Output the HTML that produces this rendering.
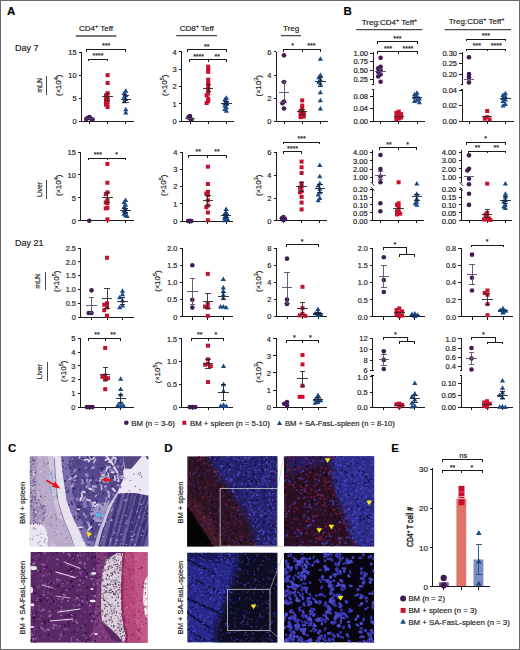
<!DOCTYPE html>
<html><head><meta charset="utf-8"><style>
html,body{margin:0;padding:0;background:#fff;}
body{width:520px;height:650px;overflow:hidden;}
svg{display:block;color:#222;}
svg text{font-family:"Liberation Sans", sans-serif;stroke:currentColor;stroke-width:0.18px;}
</style></head><body>
<svg width="520" height="650" viewBox="0 0 520 650">
<rect x="0" y="0" width="520" height="650" fill="#fff"/>
<defs><filter id="bl3" x="-20%" y="-20%" width="140%" height="140%"><feGaussianBlur stdDeviation="3"/></filter><filter id="bl1" x="-5%" y="-5%" width="110%" height="110%"><feGaussianBlur stdDeviation="0.6"/></filter><filter id="bl05" x="-10%" y="-10%" width="120%" height="120%"><feGaussianBlur stdDeviation="0.45"/></filter></defs>
<clipPath id="cct"><rect x="29.8" y="456.2" width="118.6" height="90.2"/></clipPath>
<g clip-path="url(#cct)">
<rect x="29.8" y="456.2" width="118.6" height="90.2" fill="#c6bcd6"/>
<g filter="url(#bl1)">
<polygon points="29,456 53.8,456 55,477.5 57.3,501 63.2,519.7 70.2,536 73.8,547 29,547" fill="#b9abc9"/>
<polygon points="29,498 40,500 46,510 44,522 29,524" fill="#a596ba"/>
<polygon points="29,456 37,456 36.5,480 37,498 29,498" fill="#a999c0"/>
<polygon points="48,456 53.8,456 55,477.5 57.3,501 63.2,519.7 59,519 53,500 50,478" fill="#cdc4dc"/>
<polygon points="53.8,456 60.8,456 63.2,477.5 66.7,501 73.8,519.7 82,536 86.7,547 73.8,547 70.2,536 63.2,519.7 57.3,501 55,477.5" fill="#e8e2ee"/>
<polyline points="54.3,458 55.5,477.5 57.8,501 63.7,519.7 70.7,536 74.3,547" fill="none" stroke="#6a5a8a" stroke-width="0.7"/>
<polygon points="60.8,456 68,456 70,477 73,500 80,518 88,534 93,547 86.7,547 82,536 73.8,519.7 66.7,501 63.2,477.5" fill="#7c6eac"/>
<polygon points="68,456 123,456 124,468 123,480 119,490 114,497 108,506 103,520 98,533 94,547 93,547 88,534 80,518 73,500 70,477" fill="#584a8c"/>
<polygon points="92,506 102,503 110,500 106,512 102,522 95,522 90,514" fill="#a69ac8"/>
<polygon points="123,470 131,469 142,456 150,456 150,497 135,493 125,493 117,494 120,486 124,478" fill="#ece7f2"/>
<polygon points="123,456 142,456 131,469 125,468" fill="#54467e"/>
<polygon points="145,456 150,456 150,462" fill="#54467e"/>
<polygon points="117,494 125,493 135,493 150,496 150,547 98,547 102,532 106,518 111,505" fill="#6a5c9c"/>
<clipPath id="cvil"><polygon points="117,494 125,493 135,493 150,496 150,547 98,547 102,532 106,518 111,505"/></clipPath><g clip-path="url(#cvil)">
<line x1="108" y1="492" x2="91.3" y2="548" stroke="#3e3272" stroke-width="3.4" />
<line x1="114.2" y1="492" x2="96.5" y2="548" stroke="#43367a" stroke-width="3.7" />
<line x1="120.4" y1="492" x2="106.1" y2="548" stroke="#43367a" stroke-width="3.8" />
<line x1="126.8" y1="492" x2="111.4" y2="548" stroke="#43367a" stroke-width="2.4" />
<line x1="131" y1="492" x2="116.8" y2="548" stroke="#3e3272" stroke-width="2.4" />
<line x1="135" y1="492" x2="117.4" y2="548" stroke="#4b3e82" stroke-width="2.8" />
<line x1="139.2" y1="492" x2="125.5" y2="548" stroke="#3e3272" stroke-width="3.8" />
<line x1="144.9" y1="492" x2="127" y2="548" stroke="#43367a" stroke-width="2.5" />
<line x1="148.9" y1="492" x2="131" y2="548" stroke="#43367a" stroke-width="2.6" />
<line x1="153.2" y1="492" x2="137.5" y2="548" stroke="#3e3272" stroke-width="4.1" />
<line x1="159.5" y1="492" x2="141.7" y2="548" stroke="#43367a" stroke-width="2.6" />
<line x1="164.8" y1="492" x2="150.3" y2="548" stroke="#4b3e82" stroke-width="4" />
</g>
<polyline points="117,494 112,503 107,515 103,527" fill="none" stroke="#d4cce4" stroke-width="1.6"/>
<polyline points="106,456 112,463 117,472 118.5,482" fill="none" stroke="#d8d0e8" stroke-width="2.2"/>
<path d="M30 525 Q37 521 44 526 Q49 533 48 547 L30 547Z" fill="#ece6f1"/>
</g>
<path d="M84.1 506.4l-1.2 0.6M73.2 496.8l1.3 0.6M97.6 512.5l0.3 0.1M112.3 497.3l-0.3 0.3M87.1 476.6l-0.4 0.8M85.7 539.1l0 1.2M93.3 459.4l-0.1 0.2M123.2 468.9h0M115.4 478.2l0.5 0.2M86.9 457.9l0.1 1M78 488.5l0.4 0.2M100.7 489.2l-0.1 0M104 488.5l-0.1 0.1M63 458l0.3 0.4M106.7 478.2l0.1 0.2M67.6 479.1l0.8 0.9M114.8 464.7l-0.1 0.5M87.3 539l-0.4 0.6M93.7 483.1h0M83.4 522h0M101.1 498.5l-0.2 0.2M81.3 506.6l-0.1 1.3M79.7 528.8l0.2 0.1M87.2 459l-0.2 0.2M94.3 491.7h0M96.2 506.5h0M85.3 531.4l-0.1 0.5M90.5 459.1l0.7 0.1M114.5 459l-0.3 0.3M70.9 470.9l-0.1 0.2M112.4 477.3l0.2 0M94.5 522.2l-0.4 0.4M85.2 517.4l0.4 0.1" stroke="#6a5c9e" stroke-width="1.5" stroke-linecap="round"/>
<path d="M86.2 511.6h0M96.1 496.5l0 0.2M74 459.8l-1.1 0.8M91 511.5l1 0.3M102.9 504.1l-0.1 1.2M68.9 504.7l0.1 0.2M87.3 488.1l-0.2 0.1M73.5 491.4h0M121.9 464.4l-1.2 0.2M92.6 502.6l-0.5 0.2M89.8 526.9l0.8 0.8M88.3 540l1.2 0.9M81.7 525.5l0.7 0.8M116.9 476.9h0M91.2 522.9l0.3 0.4M68.2 489.7l-0.1 0.3M85.2 496.2l-0.8 1.2M67.9 464.7l0.2 0M99.7 508.3l0 0.1M93.5 485.8h0M77.4 515.1l0 0.5M83.5 509.1l0 0.4M90.2 534.9l-0.1 0.3M79.4 516.4l0.2 0.5" stroke="#44387a" stroke-width="1.5" stroke-linecap="round"/>
<path d="M102.6 470.4l0.4 0M100 473.6l-0.2 0.4M67.1 476.6l0.2 0.6M93.4 501l-0.1 1.2M98.2 467.7l0.7 1.2M80.6 489.1l-0.1 0.8M93.9 458l0.2 0.7M67.8 490.8l0.1 1.1M90 457.8l-0.3 0.2M91.3 520l-0.6 1.5M119.5 483.4l-1 0.6M88.2 495.3l0.9 0.2M113.2 458.2l-0.8 0.2M74.5 516.3l0 0.5M86.7 489.2l0.5 0M109.8 480.4l-0 0.5M90 466.9l-0 1.1M103.9 479.7l0.3 1.2M108.6 481.6l0.7 0.8M99.4 524.4l-1.6 0.2M106 500.4l-0.7 0.3" stroke="#3b2f6a" stroke-width="1" stroke-linecap="round"/>
<path d="M84.3 480.9l-0.6 0.8M106.9 474.5l0.3 0.3M93.9 493.7h0M118.9 460.4l-0.8 0.6M92.8 477.1l0.5 0.7M87.6 457h0M79 517.3l0.8 0.5" stroke="#3b2f6a" stroke-width="2" stroke-linecap="round"/>
<path d="M122.2 480.5l-0.1 0.1M105.6 489.4l0.1 0.1M65.5 468.6l0.9 0.6M77.8 477.9l-0.1 1M62.3 466.4l1.4 0.6M91.1 501.1l-0.4 0M72.1 469.8l0.1 0.7M74.7 465.8l-0.4 0.5M113.3 485.6l-1.7 0.7M92.3 509.2l1.1 1M107.1 501.9l-0.4 0.6M73.7 475l-1.4 1.3M78.4 503.4l0.1 0.5M76.6 461.3l-0.5 0.6M103.5 492.9l-0 1M89.6 507l0.2 0.8M96.1 527l-0.9 0.4M79 463l0.3 0.4M117.1 475.3l-0 0.1M86 513.9l1.9 0.3M104.2 467l-1.1 1M91.7 481.4l1 1.6" stroke="#33285c" stroke-width="1" stroke-linecap="round"/>
<path d="M74.7 491l1.1 1.6M75.4 512.6l0.4 0.4M87.2 536.8l0.6 0.4M88.2 541.7l-0 0.2M96.5 499.8l0.2 1.4M97.7 487.7l-0.7 1.5M63.9 471.6l-1.5 0.3M80.5 458.1l-1.7 0.6M82.2 503.3l-0.3 1M75.1 460.4l-0.7 0.5M81.7 534l0.4 1.2M112.6 478.4l1.6 0.8M109 470.2l0.1 0.1M95.2 497.2l1.5 0.8M94.7 466.4l0.2 0.1M92.9 511l0.6 0.4M116.2 480l-0.5 0.2M89.4 507.1l0.7 0.2M82.7 475.5l1.3 1.3M70.6 470.2l-0.4 1.9" stroke="#6a5c9e" stroke-width="1" stroke-linecap="round"/>
<path d="M104.9 465.2l2 0.1M101.3 494.1l0.2 0.1M107.4 495.5l1.4 1M72.1 509l0.1 0.1M94.2 527.4l0.1 0.5M75.5 462.1l-0.5 1.3M67.7 490.6l0.6 0.6M77.5 490.3l0.7 1.6M86.2 457.6l-0.6 1M115.4 478.6l-1.3 0.6M90.2 545.5l0.6 0.6M120.2 471.5l1.1 0.4M121.2 474.2l-0.1 0.1M79.5 500.6l-0.2 0M93.7 465.1l1.8 0.1M120.1 461.2l0.4 0.1M68.2 467.9l0.2 1.9M91.1 484.5l-0.3 0.5" stroke="#7a6eaa" stroke-width="1" stroke-linecap="round"/>
<path d="M75.6 462.9l-0 0.1M87 521.8l0.1 0.5M123.3 467.5l0.3 0.1M85.3 502.5l-0.1 0.3M115.6 462.5l-0.2 0.1M99.4 513.2l-0.3 0.1M89.3 515.1l0.1 0M80.5 507.3l1.1 0.3M116.6 483.4l-0.3 0.3M77.6 505.7l0.6 1.4M111.4 465.6l-0.1 0.3M114.3 477.5l-0.6 0.3M69.8 467.9l-0.2 0.4M98.1 497l0.1 0.1M65 480.3l-0.3 1.1M100.6 468.3l1 0M91.7 456.8l0.8 0.6M116.5 473.7l-0.7 0.5M78.4 506.2l0.8 1.2M86.3 488.4l0.2 0.3M93.4 507.3l1 0.3M77.6 519.4l0.1 0.2M62.8 460.5l0.5 0.5M89.1 544.5h0" stroke="#3b2f6a" stroke-width="1.5" stroke-linecap="round"/>
<path d="M113.4 478.8l-0.1 1.1M71.1 463.5l0 0.4M94.1 509.8l-0 0.4M63.5 469.1l-0.2 0.1M79.9 508.7l0.1 0M95.2 533l-0.2 0.4M81.9 459.4l0.2 0.3M80.1 505.2l0.1 0.1M104 512.2l0.3 0.1M73.2 516.2l0.3 0.4M68.7 458.5l0.6 0.1M72.9 473.6l-1.4 0.6M73.1 486l0.4 0.5M71.6 478l1.1 0.9M68.2 484.7l1.1 0.2M120.5 460.2l-0.3 0.7M86.4 505.4l1 0.7M95.4 486.1l-0.4 0.3M110 467.2l-0 0.1M99 493.8l-0.6 0.1" stroke="#7a6eaa" stroke-width="1.5" stroke-linecap="round"/>
<path d="M91.8 541.6l-0.2 0.1M80.6 528.6l0.6 0.5M90.7 457.2l-0.2 0.8M93.7 521.1l-0.3 0.3M79.8 469.2l-0.3 0.4M83.2 478.4h0M84.5 523.9h0M91.6 522.8l-0.2 0.8M78.3 511.2l-0.6 0.4M74.2 488.4l-0.8 0M112.9 477.3l0.3 0.6M97.1 482.5l0.3 0.5" stroke="#33285c" stroke-width="2" stroke-linecap="round"/>
<path d="M84.4 457.9l-1.3 1M117.6 479l-0.4 0.7M100.5 524.3l0.3 0.9M120.8 475l0.3 0.8M84.2 487l0 1.6M93.9 469.4l-1.3 0.8M94.8 463.1l0 0.1M74.8 508.8l0.4 1.5M78.5 470.8l1.1 1.3M93.1 494l0.8 0.8M94.5 532.5l-0.4 1.2M73.2 469.3l-1.2 1.4M87.4 472.7l0.6 0.9M76.1 486.4l-1.4 1.2M105.2 467.2l1.4 0.6M109.2 490.5l-0.8 1.1M76.7 460.9l0.9 0.1M93.2 534.2l0.4 0.1M93 470.6l-0.4 0.7M78.1 481.6l-1.2 0.7M79.1 503.8l-0.6 0.5M123.6 477.2l-0.9 0.2M90.9 479l1.7 0.4M90.3 522.7l-0.1 0.4M88.5 490.4l0.9 0.2M112.1 478.6l-1.4 0.5" stroke="#44387a" stroke-width="1" stroke-linecap="round"/>
<path d="M74.4 507.1l0.1 0.8M79.6 526.3h0M68 495.9l0 0.2M96.4 479.7l-0.3 0.8M94.8 515.3l-0.8 0.4M78.3 497.4h0M82.7 536.9l-0.2 0.4" stroke="#7a6eaa" stroke-width="2" stroke-linecap="round"/>
<path d="M90.3 478.8h0M99.4 510.2l0.4 0.2M86.7 492l0.1 0.7M102.4 468.3l-0.2 1.2M113.2 466.3l0.4 0.1M109.7 475.6l0.3 0.2M92 528.8l0.6 0.9M92.7 515.7l0.3 1.1M89.5 480.5l0.7 1.3M66.4 488h0M74.2 482.4l0.4 0.6M74.6 516.4l-0 1.4M71.7 501.2l0.1 0.1M96.5 500.5l-0.7 1.1M79.7 506l1.2 0.6M89.8 539.5l-0.6 0.5M88.1 459l-0.9 0.8M71.4 503.3l1.1 0.9" stroke="#33285c" stroke-width="1.5" stroke-linecap="round"/>
<path d="M67.1 492.1l0.8 0.2M88.1 517.2l0 0.2" stroke="#44387a" stroke-width="2" stroke-linecap="round"/>
<path d="M113.8 472.4h0M83.6 489.9l-0.5 0.6M88.2 515.2l-0.8 0M68.5 465.9l-0.5 0.2M80.6 527.7l-0.1 0.2M108.4 492.4h0" stroke="#6a5c9e" stroke-width="2" stroke-linecap="round"/>
<g filter="url(#bl05)">
<path d="M81 498l-0.6 2.2M104 474.8l-1.6 0.4M113.1 457.4l2.2 0.6M88.5 488l2.5 1.3M111.6 472l1.8 0.3M95.2 502.6l-1.9 0.1" stroke="#e6e0f0" stroke-width="2" stroke-linecap="round"/>
<path d="M79.9 456.5l-0.6 1.5M113.8 467.1l0.5 1.4M108 473.3l0.8 2.8M109.3 493.6l-0.4 3.6M121.8 475.7l1 1M102.6 478l-2.4 0.2M106.3 489.9l2.6 2.5M77.6 509.2l1.7 0.2" stroke="#d8d0ea" stroke-width="1.5" stroke-linecap="round"/>
<path d="M120.8 478l4.2 0.6M85 497l-2.4 3.8M89.1 456.4l2.1 3.4M96.4 495.4l-1 0.9M98.7 524.6l3 0.6M71.8 478.2l-3 1.4" stroke="#b8aed8" stroke-width="1.5" stroke-linecap="round"/>
<path d="M105.8 486.2l-0.6 0.6M73.9 483.7l-2.2 3M100.3 479.9l-0.6 1M76.2 513.3l-0.3 1.1M110.2 466.7l-3 0.6" stroke="#b8aed8" stroke-width="2" stroke-linecap="round"/>
<path d="M91.1 526.9l-2.8 3M89.1 460.1l-0.4 1.5M102.6 474.5l-0.6 0.7M92.8 486.5l2.9 0.1M93.1 489.4l0.5 1.3M112.6 488.5l2.3 2.5" stroke="#d8d0ea" stroke-width="2" stroke-linecap="round"/>
<path d="M98.4 503.9l-4 2.7M114.7 476.1l0.4 4.2M108 459.1l-2.7 1.2M110.8 461.9l-1.9 0.4M107.2 467.4l-1.2 3.7M87.8 459.4l-3.4 0.7M82.1 526.9l-4.3 0.8" stroke="#e6e0f0" stroke-width="1.5" stroke-linecap="round"/>
<path d="M86.5 499.5l3.9 1.2M94.4 457.7l-1.7 1.3M113 457l-1.4 3.5M81.8 493.2l0.3 3.8M91.4 502.9l2.3 2.8M82.4 491.7l2.7 0.6" stroke="#c8bee0" stroke-width="2" stroke-linecap="round"/>
<path d="M101.4 485.6l0.3 4.1M95.6 459.6l-2 3.3M89 523.6l0.2 3.3M76.3 475.6l-2.1 2M116.2 458.9l-1.5 4" stroke="#c8bee0" stroke-width="1.5" stroke-linecap="round"/>
<path d="M118.8 484.6l-2 0.9" stroke="#d8d0ea" stroke-width="1" stroke-linecap="round"/>
<path d="M73.7 510.5l-2 0.7M101 517.8l-0.4 0.4M100.6 513.4l-1.3 0.5M88.9 541.6l1.7 0.8" stroke="#7e70b2" stroke-width="3" stroke-linecap="round"/>
<path d="M87.3 479.5l-0.4 2M121.2 476.3l-2.8 0.5M100.6 484.8l0.3 0.4M108 493.3l1.8 0.2M74.4 480.4l0.5 0.3M82.2 479.8l0.8 2.1M83.7 513.4l1.2 1.7" stroke="#9a8ec6" stroke-width="2" stroke-linecap="round"/>
<path d="M101.5 473.2l0.4 0.5M110.4 469.6l1.5 0.6M77.1 499.3l-0.2 0.3M82.7 482.7l-0.3 0.3M75.4 469.8l-1 1.4M87.7 522.4l0.1 0.2" stroke="#8a7cbc" stroke-width="3" stroke-linecap="round"/>
<path d="M70.2 455.9l-0.4 0.8M95 486.5l-2.9 2.2M69.8 476.3l0.7 0.8" stroke="#9a8ec6" stroke-width="1.5" stroke-linecap="round"/>
<path d="M85.6 501.8l-0.4 0.3M76.1 514.1l-1.1 0.1M100 514.3l-1.4 0.4M72.7 459l-0.5 0.3M123.9 463.4l-0.6 0.7M73.2 498.4l-2.5 0.7M97.1 536.2l-2.1 0.3M91.3 503.5l-0.8 0.2" stroke="#8a7cbc" stroke-width="2" stroke-linecap="round"/>
<path d="M85.9 516.6l0.4 0.5M88.3 483.4l0.3 1M85.3 506.6l-0.6 0.3M104.2 471.3l0.5 1.7M106.4 497.8l-0.1 2.1M85.2 503.9l-1.3 0.8M83.8 540l1.5 0.2" stroke="#8a7cbc" stroke-width="2.5" stroke-linecap="round"/>
<path d="M99.4 516.7l-3.5 0.8" stroke="#8a7cbc" stroke-width="1.5" stroke-linecap="round"/>
<path d="M82.1 531.5l3.5 0.3M93.1 487.9l1.2 1.5M93.6 488.4l0.1 2.2M100.4 521.9l-0.1 1" stroke="#7e70b2" stroke-width="1.5" stroke-linecap="round"/>
<path d="M93.4 467.6l-1.1 0.3" stroke="#9a8ec6" stroke-width="3" stroke-linecap="round"/>
<path d="M74.2 514.1l-0.4 1.4M86.2 456.9l-1.7 0.5M83.8 500.5l0.1 2.6M92.7 541.5l0.7 3M90.5 505l0.6 1M87.5 473.8l-0.2 0.6M106.1 489.4l1.1 1.1M121.8 466.2l0.5 0.6M86.6 467.4l-1.2 0.6" stroke="#7e70b2" stroke-width="2" stroke-linecap="round"/>
<path d="M113.4 494.5l0.1 0.1M119.4 486.2l0.8 0.7M73.5 484.1l0.1 0.3M89.2 486.9l-1.9 0.7" stroke="#7e70b2" stroke-width="2.5" stroke-linecap="round"/>
<path d="M100.4 510.5l0.6 2M86.1 474.7l1.2 0.8M94 510l1.5 0M86.5 486.6l0.3 0.1M90.7 480.2l-0.9 1M118.1 466.6l-0.1 0" stroke="#9a8ec6" stroke-width="2.5" stroke-linecap="round"/>
</g>
<path d="M38.3 521.4l0.6 1.7M53.5 496.6l1.3 0.7M36.9 535l1.1 0.3M59.8 530.5h0M29.3 538.4l1.5 1.1M53.4 499.4l-0 0.5M40 489.8l-0.2 1M41.9 496.8l0.7 2M33.7 509.8l0.2 0.9M56.5 517.8l0.6 1M65.8 546.2l-0 0.1M51.8 473.6l-1.5 0.8M56.4 495.7l-0.2 0M55.2 514l0 1.3M55.3 531.7l-0.9 1.8M32.8 538.7l-0.2 0.6M51.1 524.7l0.3 1.8M56.7 535.1l-1.4 0.1M66.9 537.5l-1.5 0.8M48.1 463.7l-1.3 0.6M33.8 480.9h0M38.9 484.5l0.8 1.2M47.1 534.9l0.4 0M34 470.8l0.2 0.3M60.9 533.6l0.7 0.9M45.2 538.9l0.4 0.8" stroke="#9282ae" stroke-width="1" stroke-linecap="round"/>
<path d="M35.8 508.3l-0.7 1.3M55.7 521.2l1.2 0.2M37.5 516.2l-0.4 2.1M35.6 473.8l-0.2 0.8M52 515.9l0.8 1.8M53.9 473.6h0M35.2 514.2l0.2 1M47.1 522.1l0.2 0.3M33.3 502.8l-0.5 1.5M51.9 471.3h0M42.7 459.4l0.5 0.6M40.4 541l-1.6 1.3M37.5 481.1l-0.4 0.8M43.7 462.2l-0.3 0.9M52.1 471.7l-0.3 1.1M30.5 473.3l-1.1 0.5M37.2 463l-0.2 1.3M34.5 456.6l-1 0.6M60.6 545.8l0.6 0.3M34.4 503.9l-0.3 1.9M44.4 540.8l-0.4 2.1M37.6 543l0.5 0.3M49.2 469.5l0.1 1.4M29.7 474.1l0.1 1.1M59.9 513.2l-0.6 0.4" stroke="#a294b8" stroke-width="1" stroke-linecap="round"/>
<path d="M40 513.8l-0.6 0.2M40.8 530.9l1 0.4M41.5 471.6l-0.9 0M42.9 521l1.4 0.6M31.5 481.8h0M49.1 480.3l-0.7 1.7M53.2 544l0.7 0.8M32.8 489l0.5 0.7M63.1 527l1.3 0M52.8 545l-1.3 0.6M57.6 501.2l-0.1 1.7M32.1 535.6h0M34.1 472.5l-0.3 2.1M56.8 531.3l1.3 0.7M38.7 494.1l0.1 0.6M30.9 498.1l0.3 1.8M65.3 542l0.3 0.4M50.6 462.7l-1.3 0.3M45.2 511.6l-0.6 0.3M33.6 487.4l-0.8 0.5M35.2 505l0.7 0.7M32.5 540.4l0 0.5M35.1 517.8l0.9 0.9M72.8 544.8l-0.6 0.4M39.1 504.4l-0.6 0.8M37.8 491.9l-1.2 0.7M38.1 498.2l0.1 0.8M34.9 515.2l0.5 0.1M55.1 533.8l-0.5 0" stroke="#ddd5e6" stroke-width="1" stroke-linecap="round"/>
<path d="M31 485.3l0.4 0.5M32.4 483l-1.7 0.9M33.1 519.3h0M39.9 545.3l1.4 0.8M55.4 487.3l0 0.1M32.6 509.5l-1.5 0M35.8 498.7l-0.1 1.5M40.2 533.7l0.2 0M54.7 476.7l-0.2 0.6M30 488.9l1.4 1.5M46.1 506.2l-0.3 0.5M56.3 525.4l0.1 0.5M50.9 522.1l0.1 0.1M47.4 516.1l-0.1 0.4M48.3 461.9l-0.3 2M63.7 526.2l0.1 1M41.3 537.2l0 0.9M39.9 522.3l-0 1.4M45.2 505.8l-0.3 1.1M45 472.1h0M48.8 512.7l0.3 0.3M29.9 474.8h0M33.8 527.8l1.6 0.6M31 478.2l-1.6 0.2M32.7 495.6l0.1 1.9M56.4 518.8l-0.6 1M47.2 480.6l-2.1 0.2M54.1 489.4l0.3 0.3M51.5 517.4l-1 0.2M61.4 542.4l-0.1 0.2M44.2 465.2l0.8 1.1" stroke="#8574a0" stroke-width="1" stroke-linecap="round"/>
<path d="M34.7 511.8l1.1 0.9M35.2 510.9l0.8 1M60.7 530.4l0.4 0M46.5 480.3l-1.2 1.1M33.2 471.4l1.6 0.6M46.9 501.5l-0.7 0.8M52.2 541.2l-0.8 2M32.5 536.4l1.5 0.8M31.1 544.7l-0.2 0.4M51.4 482.1l-0.6 1M48.7 515.6l-0.3 0.4M37.3 522.5l-0.6 1.3M50.5 512.5l-1.3 1.1M50.1 469.1h0M55.1 483.5l-0.2 1.2M50.3 494l0 0.1M34.8 474l-1 1.8M41.2 520.7l-0.6 1.4M39.9 520l-0.2 1M41.9 537.4l-0.4 1.4M44.9 504.6l-0.7 0.2M33.2 511.3l-0.7 0.2M38.1 526.1h0" stroke="#d4cade" stroke-width="1" stroke-linecap="round"/>
<path d="M39.5 456.7l0.6 2.3M59 526.4l0.4 0.4M35.4 525.2l-0.3 0.3M35.6 540.7l-0.6 1.3M32 507.3l-1.1 0.6M41.2 537.8l-1.8 0.9M61.9 539l-0.5 0.7M38.5 485.4l0.6 0.9M45.7 511.5l-0.9 0.7M38.9 496.3l1.2 1.5" stroke="#ddd5e6" stroke-width="0.5" stroke-linecap="round"/>
<path d="M66.7 530.1l0.7 1.4M44.2 462.7l-0.4 1.2M32.7 528l1.1 2.1M60.4 514l-0.3 1M47.9 523.9l1.4 0.4M39.6 514.4l0.5 0.1M44.1 476.8l-1.4 0" stroke="#9282ae" stroke-width="0.5" stroke-linecap="round"/>
<path d="M67 532.4l2 1.1M36.6 488.4l-1.3 2.1M50.5 516.3l-1.3 0.1M55.5 544.6l-1.2 2.3M53.4 508l-0.2 0.3M33.3 485.9l-0.5 1.2M39.6 464.4l0.4 0.3M64.2 536.2l0.8 0.3M57.3 544.9l1 0.6" stroke="#d4cade" stroke-width="0.5" stroke-linecap="round"/>
<path d="M36.5 529.9l-0.9 0.2M40.7 461.3l-1.7 0.2M43.4 495.5l-0.5 0.6M40.3 492.3l0.6 1.4" stroke="#a294b8" stroke-width="0.5" stroke-linecap="round"/>
<path d="M42.5 533.8l0.5 0.5M45.9 491.4l2 1.7M47 542.5l0.4 1.8M50.8 487.2l-0.4 1M66.8 543.8l1.2 0.8M41.9 504.9l-0.5 2.2" stroke="#8574a0" stroke-width="0.5" stroke-linecap="round"/>
<path d="M33.2 480.5h0M35.2 472.6h0M31 471.6l-0.2 0M29.7 472.3l0.4 0M31.4 474.8h0" stroke="#6a5a90" stroke-width="1.5" stroke-linecap="round"/>
<path d="M31.6 465.8l0.5 0.1M36 467.7l0.2 0.2M36.2 458.8l-0.3 0.2M31.6 491.7l-0.6 0.5M33.6 460.1l0.5 0.4M34.4 484.3h0M36 493l0.4 0.1M31.4 460.9l0.8 0.6M32.3 457.4l0 0.1" stroke="#7a6aa0" stroke-width="1" stroke-linecap="round"/>
<path d="M31.2 493.1l-0.2 0.1M35.3 485h0M31.9 496.9h0M30.7 470.3h0M29.9 457.9h0M30.2 461.4l-0.1 0.4M34.4 460.3l0.1 0.4" stroke="#5a4a80" stroke-width="1.5" stroke-linecap="round"/>
<path d="M34.3 463.9h0M32.8 459.3l-0.2 0.7M32.2 470.7l-0.2 0.1M32.9 464l-0.1 0.1M36.1 472.1l-0.6 0.2M31.1 466.5l-0.1 0.9M34.4 478.9l-0.2 0.5M30.5 472.6l-0.1 0" stroke="#6a5a90" stroke-width="1" stroke-linecap="round"/>
<path d="M32.3 457.9l-0.4 0.3M33.4 460.4l-0.7 0.2M33.9 481.6l0.8 0M33.9 490.4l0.1 0.4M30.2 495.9l-0.8 0.6M35 472.9l0.3 0.3M35.1 490.3h0M32.4 485.9l0.9 0.1M33.9 482.4h0" stroke="#5a4a80" stroke-width="1" stroke-linecap="round"/>
<path d="M34.9 482.2h0M34.3 496.8l0.1 0.4M32.6 464.2l-0.2 0.1" stroke="#7a6aa0" stroke-width="1.5" stroke-linecap="round"/>
<path d="M30.3 481.8h0" stroke="#6a5a90" stroke-width="2" stroke-linecap="round"/>
<path d="M35.4 519.8l-0.1 0.2M44.8 519.8l0.1 0.1M45.2 496.4l-0.1 0.3M32.9 514.8l0.2 0.3M40.3 507.7l0.6 0.7M35.1 516.2l-0.1 0.3M33.6 511.4l-0.3 0M38 510.8l0.1 0.5M43.7 505.7h0M45.3 510l0.6 0.2M31.5 501.5l0.7 0.3M37.1 507.7l0.4 0.3M37.7 518.1l-0.1 0.1M32.2 506.7l0.2 0.1M33.9 502.4l0.6 0.2M31.5 508l0.2 0M39.5 524.5l-0.3 0.4M44.6 500.2l-0.2 0.2M31.4 505.2l-0.6 0.2M34.3 515.9l0.4 0.8" stroke="#6a5a90" stroke-width="1" stroke-linecap="round"/>
<path d="M43.1 520.3l-0.1 0.1M34.8 498.9l0 0.1M31.8 499.8l-0.2 0.5M34.1 509.2l0.3 0.4M40.5 496.3l0.1 0.1M33.7 520.4h0M43.3 513.6h0M43.8 505.4l0.1 0M36 514.9h0M33.6 524.1h0M33.7 512.7l-0.1 0.1M44.9 512l-0.2 0.1M33.7 523.6h0" stroke="#5a4a80" stroke-width="1.5" stroke-linecap="round"/>
<path d="M35.4 496.9l0.2 0.1M30.8 501.9l0.3 0.7M33.7 510.7l0.9 0M38.7 499.6l-0 0.4M36.6 503l-0.2 0.7M32.2 499.3l-0.2 0.6M33.7 517.5l0.8 0.4M31.5 506.3l-0.7 0.3M41.3 522.8h0M30.5 523.4l0 0.3M40.4 504.7l0.1 0.5" stroke="#5a4a80" stroke-width="1" stroke-linecap="round"/>
<path d="M35.4 522.2l0.2 0.3M42.6 506.8l-0.2 0.2M42.3 508.6l-0.1 0.1M35.1 514.1l-0.3 0.1M37.4 523.4l-0.1 0.2M44 517.7l0.1 0.3" stroke="#6a5a90" stroke-width="1.5" stroke-linecap="round"/>
<path d="M112.5 508.9h0M131.3 531.6l0.3 0.2M105.4 528.4h0M114.8 532.8l-0.1 0.3M127.9 499.5l-0.4 0.1M111.5 510.6l-0 0.4M147.4 515.7l0.1 0.4M132.1 522.3l0 0.1M109.6 543.8h0" stroke="#8a80b8" stroke-width="1.5" stroke-linecap="round"/>
<path d="M145.2 497.9l0.9 0.2M128.3 498.5l-0 0.3M126.9 526.5l-0 0.2M147.2 503l0.5 0.5M133 506.9l-0.2 0.9M125 534.7l0.1 0.1M141.8 505.4l-0.2 0.1M130.7 508.4l0.1 0.2M131.1 523.3h0M143.8 523.9l0.4 0.7M143.3 505.9l-1 0.1M108.6 519.7l-0.7 0.3M120.7 537.4l1 0M112.1 513.5l0.1 0.1M108 541.9l-0.4 0.1M115 503.9l0.6 0.2M146.1 532.5l0.1 0.5" stroke="#2e2458" stroke-width="1" stroke-linecap="round"/>
<path d="M129.7 532.6l-0.1 0.1M130.6 519.7l-0.2 0.2M136.5 523.2l0.1 0.1M122.4 545.4l0.1 0M145.9 517.3l-0.2 0M111.2 532.5h0M114.6 505.4l0.5 0.9M127.8 543.9l-0.4 0M114.1 541.7l0.9 0.3M123 498.6l0.1 0.2M123 524h0M107.7 539.2l-0.3 0.2M140.1 525.4l-0.4 0.1M115.8 546l-0.3 0.2M148.2 523.7l0.3 0.3M129 495l0 0.2M118.9 524.3l-0.2 0.7M136.8 544.1l-0.3 0.2M115.2 499.1l-0.4 0.3M121.5 545.3l-0.1 0.6M135.9 541.5l0 0.4M140.1 513.4h0" stroke="#3a2e6a" stroke-width="1" stroke-linecap="round"/>
<path d="M115.9 504.8l0.4 0.3M137.3 524.9l-0.1 0M133.3 498.9l-0 0.1M119.5 521.7l-0.3 0M121.5 526.1l0.3 0.3M130.3 507.6l0.1 0.1M109.3 540.6l-0.1 0.3M110.5 519.7l-0.2 0.6M117.3 511.1h0M127.8 492.7l0.4 0.8M135.2 517.8l-0.3 0.3M141.6 504.2l0.1 0.2M98.6 546.3l-0.1 0.1M120.9 507.1l0.2 0" stroke="#8a80b8" stroke-width="1" stroke-linecap="round"/>
<path d="M117.4 536.4l-0.1 0.5M132.3 527.2l0.3 0M133.3 518.3l-0.1 0.3M121.9 541.4l0.1 0M114.2 528.1h0M126.2 511.4h0M100.8 538.7l0.1 0M130.6 523.1l0.2 0.1" stroke="#3a2e6a" stroke-width="1.5" stroke-linecap="round"/>
<path d="M131.8 539.7l-0.7 0.4M126 544.4l0.4 0M147.8 503.1l0.1 0.2M137.6 511.3l-0.8 0.6M110.5 541.5l0.1 0M117.5 540.2l-0.6 0.2M113 501l0.2 0.7M132.7 539.5l0.4 0.8M134.4 534.5l0.1 0.4M125.4 515.3l0.6 0.3M103.9 536.2l-0.4 0.4M126 522.5l-0.5 0.8M116 542.9l0.1 0.2M111.8 509.8l-0.3 0.6M145.3 505.9h0M120.7 534.3l0.3 0.4M106.3 521.4l0.3 0.5M141.2 535.3l0.7 0.2M135.3 544.3l0.1 0.2M145.2 518.6l0.3 0.3M126.9 520.8l0.2 0.1" stroke="#c8c0e0" stroke-width="1" stroke-linecap="round"/>
<path d="M112.7 517.1l-0.3 0.3M145.4 510.7l0.1 0.1M145.3 504.8h0M141.2 524.6l0 0.1M136.1 516.9h0M127.6 533.3l-0.2 0.2M135.5 514l-0.1 0.4M112.5 536.6l-0.1 0M100.5 545.8l0.2 0M118.9 520.7h0" stroke="#2e2458" stroke-width="1.5" stroke-linecap="round"/>
<path d="M141 504.2h0M143 530.9h0M131.7 536.3l0.2 0M111.8 520l-0.1 0.1M148.2 510.8l0.3 0.3M125.1 500l0.1 0.4M139.2 517.1h0M107.9 513.3l-0.2 0.2M110.8 539.2h0" stroke="#c8c0e0" stroke-width="1.5" stroke-linecap="round"/>
<path d="M140.4 472.6l-0.3 0.2M141.9 477l-0.5 0M134 473.8l-0.4 0.4M129.6 490.8h0M135.1 486.2l0.1 0.4M130.2 480.5h0M139.8 489.8l-0.3 0.1M140.5 474.7l-0.4 0.2M138.6 473.6l-0.4 0.5M147.2 457.9l-0 0.3" stroke="#4a3c70" stroke-width="1" stroke-linecap="round"/>
<path d="M142 475.4l0 0.1M146.5 459.5l0 0.4M147.2 465.2l0.1 0" stroke="#cfc6dc" stroke-width="1" stroke-linecap="round"/>
<path d="M141.5 490.3h0" stroke="#cfc6dc" stroke-width="1.5" stroke-linecap="round"/>
<path d="M51 472l2 10M50 486l2 8M56 492l1 6" stroke="#6aa6d0" stroke-width="1" fill="none"/>
<path d="M47 479.5 L53.5 483.6 L55 481.4 L60.5 488.6 L51.6 486.8 L52.8 485 L46 481.2Z" fill="#e3141b"/>
<circle cx="106" cy="479.2" r="4" fill="#a8d8ec" fill-opacity="0.6"/>
<path d="M102 479.6 L107 476.4 L106.7 478.4 L111 478.9 L110.8 481.3 L106.6 481 L106.8 483.2Z" fill="#e3141b"/>
<path d="M98.8 511.8 L102 516.6 L95.6 516.6Z" fill="#3cc4e8"/>
<path d="M86.4 531 L92 533.4 L88.2 537.6Z" fill="#f5e21c"/>
</g>
<clipPath id="ccb"><rect x="30.4" y="551.9" width="117.2" height="90.9"/></clipPath>
<g clip-path="url(#ccb)">
<rect x="30.4" y="551.9" width="117.2" height="90.9" fill="#5a2866"/>
<g filter="url(#bl1)">
<polygon points="96,552 108,552 103,570 100.5,590 100.5,610 103,625 112,640 124,644 92,644 94,620 97,590" fill="#7e3a7a"/>
<polygon points="106,560 112,556 118,553 123,553 122,566 121.5,585 121,600 122,615 124,628 126,636 124,643 118,636 110,628 102,622 101,610 101,590 102,575" fill="#d8cad8"/>
<polygon points="123,552 148,552 148,644 124,644 126,636 124,628 122,615 121,600 121.5,585 122,566" fill="#b5467a"/>
<polyline points="124,552 123,566 122.5,585 122,600 123,615 125,628 127,636 126,644" fill="none" stroke="#93285e" stroke-width="2.2"/>
<polygon points="134,552 148,552 148,644 138,644 136,610 135,580" fill="#c25688"/>
<polygon points="148,575 144,582 143,600 145,615 148,620" fill="#f0ecf2"/>
</g>
<path d="M105.2 585.8l0.1 0M107.4 583.8l0.1 0M109.1 590.8h0M107.1 574.5l0.3 0M112.6 572.9l0.4 0M106.1 591l0 0.4M119.7 625l0.5 0M106.3 621.3l0 0.1M103.8 599.8l0 0.3M118.5 623.9l0.3 0M120 592l0 0.3M119.4 570l0.5 0M113.8 586.8h0M112.4 597.1l0 0.2M116.3 591.3l0 0.2M105.6 605h0M102.4 609.9h0M112.5 574.2l0 0.2M101.6 613.9l0.4 0M104.7 608.6l0 0.2M121 590.2l0.3 0M113.3 593.8l0.4 0M111.1 581.1h0M113.2 560.1h0M121.4 639l0.4 0M122.7 635.8l0 0.4M120.7 616.6h0M109.9 584l0.4 0M121.4 636.9l0 0.3M120.3 633.5l0 0.3M104.2 606.5l0 0.5M111.8 622.5h0M115.9 615.5l0.2 0M124.2 635.6l0.5 0M106.3 578.9l0 0.4M115.7 584l0 0.4M120.6 631.2l0.3 0M120.9 584.9l0.5 0M116.7 560.6l0 0.2M112.3 591.5l0.5 0M120.6 562.6h0M111.4 589.6l0 0.5M117.2 568.2l0.3 0M115.6 600.5h0M113.7 557.5l0 0.2M118 605.9l0.2 0M101.3 593.6l0.5 0M121.5 554.5l0.1 0M105 616.2l0.1 0M122.8 626.6l0 0.3M116.4 613l0.5 0M118.6 576.8h0M121.3 609.3l0.2 0M102.7 611.5l0.3 0M119 554.8h0M118.3 597.5l0.1 0M114.8 557l0.2 0M118 628l0.3 0M116.2 580.2l0.4 0M102.9 579.5h0M123.1 632.1l0 0.2M104.1 600.3l0.4 0M115.7 573.1l0 0.4M103.9 586.7l0.2 0M107.6 575.4l0 0.3M115.7 630.3l0.3 0M121.5 628.5l0.1 0M118.7 584.8l0 0.5M111.4 565.7l0 0.3M108.5 560.1l0.1 0M101.4 590.1l0 0.2M112.1 612.9l0 0.3M119.8 613.6l0.4 0M109.4 576.4l0.1 0" stroke="#3a2840" stroke-width="1" stroke-linecap="round"/>
<path d="M102.9 596.9l0 0.3M115.6 578.1l0.5 0M120.4 563.7h0M106.9 624.5l0 0.2M114.3 611.7l0 0.4M107.4 611l0.2 0M118.9 572.9l0.2 0M110.1 588.8l0.3 0M117 611.2h0M118.3 589.4l0 0.1M111.5 565.5l0 0.4M105.9 587.2l0 0.5M102.4 614.9h0M118 571.9l0 0.2M115.2 595.3l0.1 0M114 609.1h0M112 597.1l0 0.1M121.8 629.6l0 0.4M104 592.8l0 0.4M114 626.1l0.4 0M121.5 582.7h0M101.8 577.1l0.4 0M104.5 615.8h0M114.6 571.8l0 0.4M121.3 583.3l0.4 0M104.9 564.4l0.2 0M117.8 582.1l0.3 0M107.9 598.7h0M115 582l0.2 0M114.1 582.3l0.3 0M111.1 611.2l0 0.1M111.5 625.8l0 0.3M105 569.8l0 0.4M117.5 627.6l0.3 0M104.5 585.9l0 0.2M110.3 584.6l0 0.3M109 620.3h0M107.4 574.8l0.2 0M113.4 593.2h0M121.3 555.8l0 0.2M111.1 592.3l0.3 0M108.1 584.5l0 0.5M103 571.6l0.4 0M109.6 558.6l0.3 0M121.3 561.6h0M116.7 566.2l0.2 0M115.8 583.9l0 0.4M107.2 592.2l0 0.4M121.5 561.3h0M106.4 590.3l0 0.1M108.2 568.8l0.1 0M118.9 618.6h0M116.8 568.8h0M108.3 592.5h0M112.4 567.3l0.2 0M113.6 625.5l0.3 0M108.6 568.9l0 0.3M110.3 619.8h0" stroke="#5a3a60" stroke-width="1" stroke-linecap="round"/>
<path d="M112.2 574.1l0.2 0M122 620.1l0.1 0M121.7 576.5h0M104.5 569.9l0.2 0M117 597.6l0 0.5M120.1 569.5l0.1 0M102.6 575.7l0.3 0M120.9 620.9l0.3 0M106.9 587.8l0 0.5M103.3 585.6l0.1 0M114.7 572l0.4 0M113.3 592.9h0M117.6 590.3l0.2 0M118.7 620.3l0.2 0M107.5 569.7h0M114.6 608.5l0 0.4M104.2 589.7l0 0.3M104.6 623.4l0 0.2M106.9 594.7h0M110.6 604.5h0M120.7 586.9l0.2 0M108.7 604.2l0.4 0M120.2 627.5h0M123.4 631.2l0.5 0M120.8 636.4l0.2 0M107.4 606.4l0 0.3M106.6 601.8l0.3 0M113.4 592l0.4 0M111.7 581.4l0.2 0M119.2 585h0M108.1 566.6l0 0.5M111 572.7l0.3 0M110.7 616.3l0 0.3M108.4 558.8l0.2 0M115.1 619.4h0M113.7 564.9l0.3 0M108.7 604.3l0 0.2M111.2 619.7l0.3 0M114.9 564.5l0.3 0M119.8 629.2l0 0.4M106.3 622.1l0.2 0M101.4 595.1l0.1 0M109.6 566.3l0 0.5M104.5 616l0.5 0M114.5 631l0.2 0M103 579l0 0.3M110.7 608.9l0.2 0M119 565.5l0.3 0M111.6 610.6l0 0.2M106 620.6l0 0.4M108.3 567.8h0M115 583.5l0.3 0M107.1 613.2l0 0.3M118.9 589.3l0.4 0M109.7 604.9l0 0.3M111.1 566.6l0 0.2M113.4 557.6l0.4 0M114.7 585.7l0 0.4M110.4 558.8l0.1 0M104.8 604.5l0 0.3M120.2 622l0 0.4M108.6 614.3l0 0.4M121.8 624.4h0M112.5 573.4l0 0.4" stroke="#6a4a70" stroke-width="1" stroke-linecap="round"/>
<path d="M112 557.8l0.3 0M117.1 633.3l0 0.4M115.4 602.4l0 0.1M119.9 617.4l0.1 0M103.7 618.6l0.3 0M113.5 577.7l0 0.3M102.2 611.6h0M113.7 576.1l0.1 0M114.3 585.1l0 0.5M101.6 614.4l0.5 0M122.8 628l0 0.3M111.7 565.1l0.3 0M114.4 556l0 0.1M119.6 561.7l0 0.4M106.3 562.6l0 0.5M116.7 619.2l0 0.1M120.1 604.9l0 0.5M111.6 578.1h0M120.8 600.8l0.5 0M117.1 614.7l0 0.2M114.2 620.5l0 0.5M110.9 586.3l0 0.4M112.9 571.7h0M108.4 587.7l0 0.4M113.3 617.3h0M108.2 571.5l0 0.3M122.4 554.8l0.3 0M105.4 577.4l0.3 0M113.8 622l0.2 0M113.4 568.9l0.3 0M107.9 607.7l0 0.2M114.1 590.9l0 0.5M106.1 594.6l0.1 0M106.4 566.7l0 0.1M110.1 615.7l0.3 0M120.5 605.7l0.1 0M111 566.1l0.2 0M108.1 582.2l0 0.2M105.5 602.8l0.3 0M111.1 591.1h0M108.7 597l0.3 0M122.5 630.3l0 0.5M102.7 617l0.4 0M120.5 611.8l0.4 0M115.5 576.2l0.4 0M116.2 572.4l0 0.4M117.2 610.9l0 0.2M116 624.7l0.2 0M119.6 607.9l0 0.1M112.9 600l0.2 0M112.5 604.5l0 0.3M120.6 580.4l0 0.3M115 580.8l0.2 0M115.2 619.5l0 0.3" stroke="#f4eef4" stroke-width="1" stroke-linecap="round"/>
<path d="M114.9 594l0.3 0M103.5 598.2l0 0.5M114.6 556.4l0.3 0M113.9 580.5h0M116.9 570h0M103.5 594.8l0 0.4M101.7 597.8l0 0.4M117.6 594.2l0.3 0M111.2 575.3h0M118.9 626.9l0 0.3M115.2 606.7h0M109.1 562.5h0M119.6 567.7l0 0.2M104.2 604.6l0 0.1M114.5 588.2h0M109.4 613.3h0M107.4 575.3l0.4 0M107.1 615h0M115.1 593.3l0.3 0M110 565.6h0M124 628h0M105.4 614.5l0 0.4M120.1 590.6h0M119.3 587.5l0 0.3M109.4 620.6l0.3 0M119.4 630.6l0 0.4M113.9 571.5l0.1 0M118.1 573.4l0 0.1M115 561.8l0 0.2M106.4 560.6l0 0.3M115.6 583.1l0.4 0M117.4 617.1l0.1 0M113.5 626.2l0 0.3M119.5 582.2l0.2 0M105.5 564.4l0.2 0M109 579.2l0.3 0M116.2 611.7l0 0.1M106.3 585.7l0.1 0M107.9 602.7l0 0.2M123.8 628.5l0.4 0M111.1 567.7l0 0.3M112.6 621.2l0 0.4M118.2 596.2l0.4 0M109.5 592.6l0.3 0M118.5 560.2l0.2 0M112.2 613.8l0 0.2M110.8 593.2h0M122.1 617.2h0M121.5 615l0 0.3M104.8 592.2l0.3 0M111.2 573.3h0M121 553.7l0.1 0M121 620l0.2 0M120.6 567.8l0.3 0" stroke="#4a3a50" stroke-width="1" stroke-linecap="round"/>
<path d="M115.8 564.6h0M114.8 559.2h0M106.1 592.2h0M116.8 634h0M116.2 586.8h0M102.5 580.4h0" stroke="#4a3a50" stroke-width="1.5" stroke-linecap="round"/>
<path d="M118.2 603.6l0.9 0M118.5 574.4l0.3 0M121.2 612l0 0.7M107.3 592.5l0.6 0M115.1 578.6l1 0M103.9 575.5l0.8 0M114.5 557.6l0.4 0M112 624.6l0.9 0M105 576.7l0 1M117.3 613.4l0.7 0M107.6 598.4l0.3 0M117.8 565.1l0.7 0M106.6 561.6l0.7 0M110 594.1l0.6 0" stroke="#f4eef4" stroke-width="0.5" stroke-linecap="round"/>
<path d="M105.9 577.4l0 0.9M113.1 610.7l1 0M114.5 569.2l0 0.9M116.1 592.1l0 0.8M120.8 564.3l0.8 0M113.5 627.8l0.3 0M114 612.4l0 0.9M105.3 616.7l0.5 0M118 593l0.6 0" stroke="#4a3a50" stroke-width="0.5" stroke-linecap="round"/>
<path d="M113 579.5l0 0.6M121.7 629.3l0.8 0M123.8 641l0.5 0M120.5 565.4l0.9 0M102.9 611.9l0.3 0M114.1 594.1l0 0.7M107.3 579.5l0 0.3M106.5 614.2l0 0.4M105.4 598.4l0.4 0M103 580.5l0 0.8" stroke="#5a3a60" stroke-width="0.5" stroke-linecap="round"/>
<path d="M114.3 584.8l0.5 0M117.5 632.2l0.5 0M115.3 591l0.6 0M102.8 585.4l0 0.6M108.7 619.2l0.5 0M118.7 602.8l0 0.7" stroke="#6a4a70" stroke-width="0.5" stroke-linecap="round"/>
<path d="M114.3 594.2h0M117.9 566.8h0M106 606.4h0M117.7 554.1h0M117.6 603.1h0M103.6 621.5h0M112.9 584.7h0" stroke="#5a3a60" stroke-width="1.5" stroke-linecap="round"/>
<path d="M105.9 563.1h0M110.7 606.6h0M111.3 617.5h0M121 570.2h0M112 575.8h0" stroke="#6a4a70" stroke-width="1.5" stroke-linecap="round"/>
<path d="M117.8 623.3l0 0.6M105.8 571.2l0.3 0M111.4 606.2l0.7 0M113.4 557.5l0 0.9M115.7 599.8l0 0.9M115.3 580.1l0 0.8M118.2 606.2l1 0M111.7 604.5l1 0" stroke="#3a2840" stroke-width="0.5" stroke-linecap="round"/>
<path d="M107.7 584.8h0M117.8 564.2h0M102 610.9h0M112.1 558h0M104.7 600.4h0M109.8 590.5h0" stroke="#3a2840" stroke-width="1.5" stroke-linecap="round"/>
<path d="M113.1 596.2h0M116.4 617.4h0M108.8 614.1h0M104 606.4h0M119.4 564.1h0" stroke="#f4eef4" stroke-width="1.5" stroke-linecap="round"/>
<path d="M61.6 552.4l0.7 0.3M37.1 616.2l-1.4 0.4M86.3 632.3l-0.9 1.3M31.4 588.8l-0.2 0.6M51.6 617.2l0.2 0.4M62.6 607.2l-0.1 0.2M40.9 571.5l-0.4 0.7M71.1 580.7l1 0.5M30.4 563.9l1.2 0.3M51.1 603.9l-0.3 0.2M87.7 595.5l-0.1 1M63 593.4l0.8 1.3M72.6 585.9l0.8 0.9M41.2 596.1l-1.4 0M39.2 633.5l0.2 0.2M39 627.6l0.2 0.1M44.9 623.7l-0.5 0.6M93.8 593.8l-0.3 0.3M34.6 621.1l-0.1 0.2M40.4 552.5l-0.6 0M82.4 640h0M32.1 559.6l-0.9 0.6M73.6 617.7l0 0.3M64 633.5l-0.9 0.2M66 557.9h0M53.1 555.6l0.8 0.4M52.3 596.9l0.2 0.2M53.2 555.3l-0.2 0.7M79.7 610.4h0M47.3 566.5l-1 1.1M34.8 593.4l-0.1 0.1M92.9 597l-0.8 0.8M52.7 610.4h0M86.5 577.4l-0.3 0.7M38.8 635.3l1 0.3M43.2 598.3l1.5 0.7M75 614.5l-1 0.5M56.5 552.9l0.4 0.2" stroke="#3a1448" stroke-width="1.5" stroke-linecap="round"/>
<path d="M80.3 590l-0 0.5M43.5 568.6l1.2 0.4M80.6 573.1l0.2 1.6M67.3 564.6l0.5 1M58.2 573.7l0.2 0M34.6 626.9l-0.2 1M60.8 574l0.1 0.2M53.5 588.7h0M52.2 587.2l-0.3 0.5M88.9 611.3l0.3 0.1M87.1 558.3h0M63.9 561.5l-0.3 0.1M46 552.7l0.1 0.2M69 564.3l0.1 0.1M37.1 598.3l0.9 0.6M79.8 572.1l-0.5 0.2M36.8 600.6l-0.6 0.1M60.7 580.3l0 0.3M58.8 580l0.6 0.3M41.6 615.9l-1.1 0.2M79.4 599.9l0.3 0.2M79.7 552.8l0.2 0.2M62.3 585.2l0.1 0.2M62.2 586.1l0.6 0.2M34.1 629.7l0.3 0.7M45.5 572.3h0M64.8 561.7l0.5 0M75.2 605.9l-0.2 0.7M36.6 556.5l-1.1 0.2M77.1 567.2l-0.2 1.3M33.6 634.7l-1.4 0.5M85.4 637.2l1.1 0.5M37.2 569.4l0.5 1.3" stroke="#7e4c92" stroke-width="1.5" stroke-linecap="round"/>
<path d="M47.6 575.6l0.2 0M50.6 626.2l0.3 0.2M94 578.7h0M45.1 586.6l0.3 0.7M82.5 625.5l0.3 1.4M43.9 592.3h0M44.9 636.7l-1.3 0.5M47.7 561.4l-1.2 0.2M38.2 638l0.5 0.8M60.6 589.7l0.6 1M55.5 600.5l0.1 0.4M83.8 602l0.3 1M66.9 564.1l0.5 0.6M45.3 629.7l1.7 0.1M32 595.7l0.5 0.7M89.9 609.3l-0 0.1M85.2 621l0.6 0.1M83.8 565.5l-0.1 0.1M79.9 641l-1.1 0.1M83.2 591.1l0.2 0.2M40.1 611.3l0.3 0.5M69.1 578.4l0.2 0.3M66.1 621l-1.1 0.9M65.5 580.2l0.9 1.1M43 585l-0.4 0.1M44.2 610.3l-0.2 0.1" stroke="#6e3c84" stroke-width="1.5" stroke-linecap="round"/>
<path d="M82.7 605.5l0.7 0.4M78.4 607.9l0.2 1.4M47.3 581.4l1.8 0.6M70.4 616l-0.8 1.6M69.4 616.3l-0.5 1.7M86.2 577.7l-1.9 0.6M58 629.7l-0.1 0.2M89.2 626.8l-0.3 0.3M31.3 641l-1.7 0M89.5 614.4l0.2 0.5M43.3 571.6l0.9 1.1M77.2 594.8l-0.2 0.9M81.7 597.9l-0.5 0.8M80.6 627.7l1 0.9M92.4 557.2l-0.2 1.8M89 639.3l-1.8 0.6M81.3 568l0.9 0M51.3 573.7l0.4 0.3M65.1 599.4l1 0.7M50.1 583.7l1.5 0.5M87.8 551.4l0.6 1.9M51.5 572.4l0.2 0.7M42.6 619.8l0.2 1.1M31.9 613.5l-1.1 1.3M91.8 551.8l0.3 0.9M75.3 552.3l1 0.5M46.1 628.5l-0.5 0.4M50.1 570.2l0.3 1.4M84.2 578.3l-0.9 0.3M35.7 563.4l-0.5 1.4M52.2 597.7l0.3 0.6M91.6 565l-0.3 0.2M40.3 552.6l0.6 2" stroke="#3a1448" stroke-width="1" stroke-linecap="round"/>
<path d="M58 612.7h0M46.1 574.3l-0.2 0.4M96.2 584.6l-0.3 0.1M43.6 590.8l0.1 1.2M51 593.9l1.1 0M49.2 601.2h0M80.7 616l-0.5 0.3M61.3 612.7l0 0.1M57.5 628.2l0.7 0.3M41.1 564.1l0.6 0M83.6 580.6l-0.1 0M38.8 605.5l0.3 1.1M31.5 613l0.1 0.4" stroke="#6e3c84" stroke-width="2" stroke-linecap="round"/>
<path d="M47.8 556.7l-0.8 1.4M39.6 563l-0.7 0.2M33 600.2l0.6 1.1M37.3 575.7l0.4 0.3M39.2 614.9l-0.1 0.2M69 582l-1.1 1.9M58.2 633.6l-0.9 0.3M55.4 603.3l0.7 0.6M42.8 573.8l1.9 1.1M91.1 600.8l-0.4 0.2M60 597.9l0.9 0.8M65.4 586l-0.1 0.5M42.8 584.4l-0.3 0.3M90.5 617.5l0.3 0.9M55.7 580l-0.8 0.8M60.9 554.6l-1.1 0.4M84 552.5h0M93.5 599.4l1.6 0.8M39 605.3l1.1 0.4M66.3 612.3l2 0.7M81.6 595.7l-0.2 0.2M38.6 635.4l-0.9 1.2M44.8 581.5l-1.7 0.9M74.5 615.8l-0.8 0.1M95.1 601.3l-0.7 0.1M51.3 634.6l-0.2 0.8" stroke="#6e3c84" stroke-width="1" stroke-linecap="round"/>
<path d="M82.7 571.1l-1.6 1.1M80 555l1.7 1.1M32.4 573.1l-1.6 0.6M82.1 563l-1.1 0.8M83.4 629.4l0.5 0.7M43.7 552.2l-0.6 0.5M55.4 589.1l0.6 0M39.2 555.1l-0.9 0.2M35.9 559.6l0.1 0.2M32.2 564.7l-0.6 1.8M88.6 558.7l-1 1.2M85.9 612l-0.6 0.3M33.1 607.9l-0.1 1.5M74 576.6l-1.8 0.9M91.8 595.4l0.3 0.1M52.9 556.3l0.5 0.1M78.5 558.9l0.4 1.6M66 629l2.2 0.3M50.1 581.1l0.5 0M56.1 625.3l1.2 1.4M48.9 557.6l-1.2 0.8M37 618.2l0.4 0.3M71.3 637.4l0.3 2.1M33.2 557.1l0 0.6M39.2 619.3l0.9 0.3M76.8 598.9l-1.1 1.3M84.7 635.1l-0.4 0.1" stroke="#8e5ca0" stroke-width="1" stroke-linecap="round"/>
<path d="M68.8 570.3l-1.3 0.4M73.8 556.3l-1.3 0.1M92 615l-1.6 0.1M69.5 589l0.6 0.9M79.1 596.3l0.2 0.2M80.5 604.2l1.6 0.3M35 641.7l0.1 1.5M73.6 623.5l0.3 0M51.2 582.5l0.2 0.3M59 585.6l-1.4 0.8M85.1 570.3h0M48.2 634.3l0.8 0.7M35.6 592.6l0.2 0.3M34.8 601.8l0.1 0.2M45.4 622.1l-0.6 0.5M91.4 619.4l-1.2 0.3M40.6 599.4l-0.8 0M95.4 582.2l-0.1 0.2M85.7 625.2l-0.3 0.1M31.8 639.8l-0.8 0.3M74 610l0.2 0.2" stroke="#2e0f3c" stroke-width="1.5" stroke-linecap="round"/>
<path d="M90.2 574.7l1.1 0.6M33.3 602.5l-0.5 1.8M64.2 628.9l1.3 0.7M83.9 611.1l-0 0.2M93.3 575.1l-0.9 0M77.9 628.8l0.6 0.2M83.8 635.2l-0.6 0.4M44.6 552.7l-0 0.8M41.7 580.2l0.3 0.1M38.9 587l-0.9 0.4M38.5 609l0.5 0.7M42.6 571.4l-0.3 0.5M58.8 591.7l-0.1 0.2M78.2 584.5l0.6 0.6M92.8 597.1l0.6 0.1M90.7 574.8l-0.4 0.2M62.3 602l-0.8 0.4M49 582.5l-0.1 0.6M60.1 638.4l-0.9 1.2M77.2 639.3l0.4 0.6M71.5 571.5l-0.4 0.1M58.5 579.2l-0.4 1.8M84 554.4l0.5 0.2M83.4 596.9l0.6 0.5M59.5 605.9l0.7 0.7M89.9 605.7l-1.1 0.9M91.5 615.4l1.7 0.5M78.2 605.5l0.1 1M39.6 633.8l0 0.1M43 608.6l-0.1 1.4M84.9 567l0.6 1.2" stroke="#9a6aaa" stroke-width="1" stroke-linecap="round"/>
<path d="M60.9 590.8l0.3 2M91.6 613.7l0.8 0.3M45 620.2l0.3 0.7M62 595.1l0.2 2.1M60.9 565.2l-0.6 0.9M66.9 581l0.5 0.6M86.2 641.9l-0.7 1.1M32.3 601.5l0.8 0.2M42.9 604.2l-0.4 0.1M47.1 600.7l0.1 0.6M62.2 589.5l0.9 1.3M87.5 598.5l-0.1 1.8M76.4 615.8l-1.5 1.3M54.8 583.1l1.4 1M74.3 630.8l0.1 1.8M56.9 580.8l-0.1 0.1M30.4 589.9h0M95.2 563.7l-1 0.2M67.8 620.1l0.4 1.8M46.7 637.5l0.4 0.4M76.6 607.5l-0 1M33.8 586.3l-0.3 1.2M68.1 625.1l1.7 1.2M36.4 611.9l0.3 1.8M74.9 575.1l-0.1 0M49.3 606.6l-0.6 0.4M68.3 575.1l1.6 1.3M72.2 568.2l1.8 0.6" stroke="#2e0f3c" stroke-width="1" stroke-linecap="round"/>
<path d="M52.3 639.2l-0 0.2M68.9 574.2l-0.3 0.5M35.5 562.9l0.4 0.3M60.4 626.4l0.2 0.2M53.2 582.9l2 0.8M61.3 622.8l-0.1 0.1M44.2 597.1l1 0.7M42 624.2l0.4 0.2M53.9 596.4l0.1 1.3M41.2 581.7l0.3 0M75.3 599.2h0M38.1 581.7l-0.9 0M72 583.2l-1.8 0.5M38.9 587.8l0.3 0.8M45.8 554.8l-0.9 0.9M82.1 608.9l0.4 0.1M91.4 610.6l-0.1 0.5M39.3 585l-1.8 1M77.3 596.7l0 1.1M41.2 573.6l-1.5 1.1M51 585.5h0M41.3 628.6l-0 0.1M57.2 563.3l-0.1 2M31.8 614.7l-1.5 0.7M91.7 635.4l-1.1 1.3M80.3 596.8l-0.4 0.7M76.5 580.4l0.9 1.5" stroke="#7e4c92" stroke-width="1" stroke-linecap="round"/>
<path d="M76.4 622.6l1.2 0.4M53.3 624.4l0.9 1.4M58.7 598.3l0.1 0.5M86.1 576.5l0.9 1.4M73.4 604.7l0 0.1M63.3 598.5l-1.3 1.1M49 586.3l-0.2 0.4M95.6 581.7h0M76.6 576.2l0 0.3M47.5 597.8l0.2 0M63 582.2l-0.2 0.8M84.6 562.9l0.7 1.4M65.2 595.6l-0.2 0.2M62.8 594.3l1.4 0.1M66.6 590.2l0.2 0.1M35.7 638.7l0.4 0.1M41.5 610.6l0 0.1M56.1 625l-0.5 0.2M61.1 615.2l0.5 0M56.7 559l1.3 0.6M71.5 640.8h0M71 576.8l-0.2 0.1M80.1 580l0.1 0.8M53.9 628l-1.4 0M62.7 551.9l1.1 0.9M79.5 585.2l0.2 0M67.7 600.5l0.8 0.2M48.7 629.4l0.6 0.5M68.7 553.6l-0.4 0.9M44.3 564.6l-1.6 0.1M95.2 601.3l0.2 0.3" stroke="#9a6aaa" stroke-width="1.5" stroke-linecap="round"/>
<path d="M71.4 568.9h0M33.3 617.2l0.7 0.8M60.6 625l-0.6 0.7M76.8 590.3l-0.1 0.1M64.7 625.5l0.6 0.6M49.4 620.9l-1.1 0.2M41 600.5l0.4 0.9M95.1 557h0M87.6 573.3l-0.4 0.4M87.5 587.4h0M68.3 614.5l0.1 0.2" stroke="#2e0f3c" stroke-width="2" stroke-linecap="round"/>
<path d="M90.8 578.7l0.2 0.1M71.8 614.9h0M82.3 600.5l0.5 0.7M93.7 569.1l0.3 0.1M32.9 563.3l0.8 0.9M92.5 633.6l-1 0.6" stroke="#8e5ca0" stroke-width="2" stroke-linecap="round"/>
<path d="M74.1 559.5l-0.1 0.4M93.4 618.5l1.2 0M59.9 608.1l-0.2 0.1M79.6 561.9l-0.5 0.4M32.7 627.9l-0.8 0.3M50.8 588.9l0.6 0.5M66.4 616.3l-0.7 0.5M68.5 624l0 0.2M70.6 582l0.4 0.8M84 570.2h0M54.3 601l-0.4 0.8M62.9 581.7l0.1 0.1" stroke="#3a1448" stroke-width="2" stroke-linecap="round"/>
<path d="M73.1 576.3l-0.4 0.9M46.4 630.5l-0 0.1M73.8 636.9h0M93.7 616.9l-0.3 0.3M60.8 609.5l1 0.4M44.8 630.9l-0.2 0.1M61.1 633.9l-0.1 1.1M45.6 584.6l-1 0M42 623.5l-0.1 0.1M48.3 592.4l-0.2 0.5M73.7 599.7h0M77.6 590l-0.5 0.6M86.9 602.3l0.3 1M67.4 582.8l0 0.1" stroke="#7e4c92" stroke-width="2" stroke-linecap="round"/>
<path d="M47.7 628.7l0.4 1.3M30.8 633.2l1 0.5M92.6 578.9l-0.6 0.7M34.9 562.6l-0.3 1.4M57.3 578.6l-0.4 1.4M56.8 582h0M69.8 554.4l-0.3 1.6M43.7 575.5l-1.4 0.7M49.7 573.7h0M33.6 615.5l0.8 0.1M73.2 558l0 0.4M60.2 625.2l-0.7 0.7M42.8 594.8l1.6 0.2M50.5 614.3l0.5 0.7M37.7 570.5l0.3 0.1M68.2 612.1l0.4 0.3M60.5 636.4l0.1 0.3M62.1 607.1l-0.3 0.2M89.9 635.8l0.1 0M90.6 605.4l0.4 0.4M90.4 604.9l-0.8 0.1M73 620.9l-0.3 0.3M66.3 619.5l1.3 0.6M93.6 583.6l0.2 1.6M44 609.4l0 0.8M79.8 568.2l-0.1 0.5M83.2 582.7l0.1 0.3M40.6 627.2l1 0.6M91.7 621.3l1 0.2M76.4 620.7l-0.5 0.7M61.3 633.9l0.4 0.1M89.3 573.3l0.4 0.2" stroke="#8e5ca0" stroke-width="1.5" stroke-linecap="round"/>
<path d="M33.2 638.7l0.2 1.1M50.2 616.1l-1 0.1M78 555.8h0M49.6 611.1l0.1 0.3M77.3 639.7h0M76.9 597.9l0.7 0M95.1 595.8l-0.5 0.2M80.2 562.4l-0.8 0.4M42.8 629h0M91.5 620.3l-0 0.1M79.7 604.5h0" stroke="#9a6aaa" stroke-width="2" stroke-linecap="round"/>
<path d="M106 555.7l0.4 0.7M97.2 578.4l0.2 0.6M102.7 622l-0.4 1.7M100.7 564.4l0.1 0.2M96.7 625.5l-1.2 0.3M99 606.6l0.2 0.3M97 623.7l1.2 0.6M103 554.7l-0.2 0M94.7 637.6l-0.3 0.7M100.9 566.6l1.1 0.3" stroke="#5a2260" stroke-width="1" stroke-linecap="round"/>
<path d="M100.8 594.2l-1.4 0.1M93.2 632.9l0.8 0.9M103 631.6l0.6 1.3M106.1 636.1l-0.1 0.3M98.1 604.2l-0.3 0.1M93.5 631.5l1.1 1.3M99.3 565.1l0.7 0.1" stroke="#a05a96" stroke-width="1" stroke-linecap="round"/>
<path d="M100.3 634.1l0.4 0M101.1 560.1l0.8 1M99.3 588.2l-0.1 0.1M94.4 622.4l-0.3 0.8M95.9 562.4l0.8 0.2M100.1 563.5l-1.1 0.3M99.8 602.3l-0.1 0.3M99 576.4l-0.3 0.5" stroke="#4a1a56" stroke-width="1" stroke-linecap="round"/>
<path d="M99 559.1l-0.7 0.4M100 582.5l0.5 0.2M99.9 576.9l-0.1 0.3M97 577.8l-0.3 0M98.3 574l0.2 0.7M105.1 554.4l-0.2 0.1M107.5 637.9l-1 0M96.2 637l-0.4 0.2" stroke="#4a1a56" stroke-width="1.5" stroke-linecap="round"/>
<path d="M95.4 611.6l0.2 0.8M93.2 642.3l1 0.5M98.2 605.2l0.3 0.3M97.3 580.3l-0 0.3M99.3 625.1l0.3 0.4M106.9 637.5l-0.8 0.3M98.2 611.6h0M105.6 557.2l0.3 0.9M95.1 622.2h0M96.9 583l0.7 0.9M102.7 569.9l-0.2 0.4M100.7 637l-0.3 0.1" stroke="#a05a96" stroke-width="1.5" stroke-linecap="round"/>
<path d="M100.1 613.4l-0.1 0.1M95.6 641h0M97.9 606h0" stroke="#4a1a56" stroke-width="2" stroke-linecap="round"/>
<path d="M102.4 637.7l0.6 1.1M97.1 562.3l0.9 0.1M99.2 612.3l-0.3 0.2M97.3 615.3l-0.1 0.1M99.5 552.8l-0 0.2M97 562.6l0.6 0.8M92.1 642.2l1 0.7M97.1 623.6l0.3 0.9" stroke="#5a2260" stroke-width="1.5" stroke-linecap="round"/>
<path d="M97.6 615.4l-0.4 0.4M101.9 567.7h0M94.1 641h0" stroke="#5a2260" stroke-width="2" stroke-linecap="round"/>
<path d="M92.6 641.7l0.3 0.6" stroke="#a05a96" stroke-width="2" stroke-linecap="round"/>
<g filter="url(#bl05)">
<line x1="56" y1="572" x2="75" y2="577.5" stroke="#e6dcec" stroke-width="1.3" stroke-linecap="round"/>
<line x1="65" y1="562.5" x2="80" y2="568.3" stroke="#e6dcec" stroke-width="0.9" stroke-linecap="round"/>
<line x1="58" y1="612" x2="80" y2="609" stroke="#e6dcec" stroke-width="1.2" stroke-linecap="round"/>
<line x1="50" y1="621" x2="73" y2="619" stroke="#e6dcec" stroke-width="1.0" stroke-linecap="round"/>
<line x1="56" y1="596" x2="70" y2="598" stroke="#e6dcec" stroke-width="0.7" stroke-linecap="round"/>
<line x1="42" y1="585" x2="52" y2="588" stroke="#e6dcec" stroke-width="0.7" stroke-linecap="round"/>
<line x1="110" y1="559.6" x2="117" y2="553.3" stroke="#e6dcec" stroke-width="1.0" stroke-linecap="round"/>
<ellipse cx="93.6" cy="573.5" rx="2.6" ry="1.4" fill="#eee6f2"/>
<ellipse cx="92.5" cy="601" rx="3" ry="1.3" fill="#eee6f2"/>
<ellipse cx="92" cy="589" rx="1.6" ry="1" fill="#eee6f2"/>
<ellipse cx="96" cy="634" rx="1.8" ry="1.0" fill="#eee6f2"/>
<ellipse cx="33.5" cy="568" rx="3.5" ry="2" fill="#eee6f2"/>
<ellipse cx="32" cy="605" rx="2.5" ry="1.4" fill="#eee6f2"/>
<ellipse cx="32" cy="627" rx="2" ry="1" fill="#eee6f2"/>
<ellipse cx="31.5" cy="590" rx="1.5" ry="3" fill="#eee6f2"/>
</g>
<path d="M129.5 642.8h0M125.8 620.6l-0.1 0.1M139.6 625.5l0 0.1" stroke="#8e2a5a" stroke-width="1.5" stroke-linecap="round"/>
<path d="M142.3 609.5l0.3 0.2M131.2 602.5l1.8 0.5M139.3 638l0.3 1.8M125.3 561.1l1.3 0.6M141.5 556.2l-0.8 0.7M141.3 586l-0.4 1.4M127.1 630.7l-0.8 1.5M141.1 568l-0.6 0.1" stroke="#8e2a5a" stroke-width="0.5" stroke-linecap="round"/>
<path d="M139.1 640.6l-0.1 1.2M129 597.9l0.2 0.1M134.2 623.1l0.2 0.2M140.8 615.4l0.2 0.6M139 609.1l0.1 0.2M146.9 608h0M140.3 600.4h0M128.9 641.7l0.1 0.3M138.2 639.6l-0.3 0.1M123.7 560.1l-0.5 0M125.9 612.8l-0.1 0.4M146 618.2l0.5 1.2M122.5 585.9l0.4 0.6M139.5 617.8l0 0.1M126.4 566.8l-1.3 0.8M132.2 586.9l0.4 1.5M122.6 581.1l-1 0.4M145.9 623.1l0.6 0M141.5 621.5l-0.7 0.5M146 598.4l0.2 0M145.3 605.8l-0.4 1.5M137.5 628.5l0.4 1.3M145.4 554.7l0.5 0M144 606.2l0.1 0.9M143.7 624.2l0.1 0.2M136 561.9l-0.8 0.2M124.6 578.9l-0.3 0.9M129.4 578.1l0.5 1.1M147.3 582.7h0M138.2 573.3l0.1 0.1M131.4 581.7h0M141.1 599.9l-0.5 0.9" stroke="#8e2a5a" stroke-width="1" stroke-linecap="round"/>
<path d="M137.5 633l0.4 0.7M124.2 614l-0.4 0.5M123.8 573.5l0 0.4M121.8 609.6l-0.1 0.2M137.1 622l-0.3 1M134.4 618.8l0.1 0.4M136.7 620.2l0.4 0.4M147.3 599.8l0.1 0.3M127.6 616.7l0.1 0.2M144.4 601l-0.4 0.3M140.3 553.1l0.1 1.1M145.8 632.1l1.1 0.4M128.3 637h0M141.2 625.9l1.2 0.4M126.1 557.6l0.8 0.1M134.7 605.5l-0.1 0.3M128.5 639.8h0M128.5 612.8l-0.3 0.1M135.7 568.9l0.3 0.4M147.4 606.6l-1.4 0.8M131.3 564.1l-0.3 0M132 559.1l0.4 0.3M143.2 638l0.8 0.5M130.6 604.9l0.6 1.3M147.5 620.6l-1.3 0.4M129.5 642.4l0.2 0M131.8 557l0 0.1M134.2 629.9l0 0.3" stroke="#d47aa4" stroke-width="1" stroke-linecap="round"/>
<path d="M141.1 639.7l1.6 1.1M142.3 563.7l-0.5 1.1M137.7 641.7l-0.6 1.1M144 636.7l-1.8 0.7M147.5 630.9l-0.3 0.1M122.4 556.5l1.6 0.1M142.5 585.4l-0.4 0.1M147 638.3l0.5 1.8" stroke="#c86a98" stroke-width="0.5" stroke-linecap="round"/>
<path d="M142 567.5l-0.5 0.6M143.7 582.4l0 0.3M125.4 606.1h0M138.9 630.2l0.6 0.8" stroke="#7a2050" stroke-width="1.5" stroke-linecap="round"/>
<path d="M123.2 568.1l0.4 0.1M141.1 623.2l0.4 0.2M147.2 614.7l-0.2 1.3M138.5 603l-1.2 1M139.5 632.7l0.8 0.3M132.8 592.2l0.1 0.9M138.3 572l1.1 1.1M147.3 617.1l-0.1 0.6M132.5 596.3l0.1 0M137.9 593l-0.1 0.3M123.8 557.1l0.1 0.1M122.6 573.1l0.6 0.9M144.2 569.8l-0 0.1M126.1 612.2l0.3 0.5M128 620.4l-0.4 0.2M123.6 586l-0.1 0.3M139.9 573.2l-0.9 1M122.6 581h0M126.6 607.6l-1 0.6M138.4 640.9l-0 0.1M124.3 569.4l-0.2 1.4" stroke="#c86a98" stroke-width="1" stroke-linecap="round"/>
<path d="M129.2 552.1l0.9 0.4M124.6 603.1l-1.5 1.5M124 585.4l-1.7 0.3M146 593.8l-1.4 1.1" stroke="#7a2050" stroke-width="0.5" stroke-linecap="round"/>
<path d="M140.4 628.7l-1.2 0.1M130.2 571.1l0.2 0M123.1 589.1l-0.4 0.1M129.4 590.4l-0.1 0.3M123.2 610.2l-0.3 1.4M142.3 612.9l1.4 0.1M128.2 619.3l0.1 0.4M136.7 557.6l-0.2 0M126.8 629.2l-0.1 0.2M133.3 635.3l-0.7 0.3M135.6 637.1l0.1 0.1M145.4 587.2l-0.5 1.2M128.2 596l-0.1 0M123.3 579.5l0.7 0.8M123.6 615.7l-0.1 0" stroke="#9a3466" stroke-width="1" stroke-linecap="round"/>
<path d="M143.8 582.1l-0.2 0.2M129.2 573.8l1.1 1M146.9 614.9h0M133.2 569.2l0.3 0.9M138.6 611.5l0.9 0.4M134.2 596.1l-0 0.6M132.4 633.8l-0 0.8M132.4 557.1l-0 1.3M137.5 595.8l-0.1 0.2M138.5 637.5l1.3 0.8M121 598.7l0.8 1M128.3 622.3l0.1 0.1M128.2 569.1l0.7 0.4M136.8 593.3l0.1 0.2M135.1 615.2l-0.6 0.1M138.6 584.7l0.1 0M125.6 589.1l1 0.2M132.4 555.5l-0.1 0.1" stroke="#7a2050" stroke-width="1" stroke-linecap="round"/>
<path d="M137.4 555.5l0.2 0.3M126 624.8l0.4 0.2M134.5 575.6l0 0.6M134.6 596l0.1 0.1M134 607.6l0.2 0" stroke="#c86a98" stroke-width="1.5" stroke-linecap="round"/>
<path d="M126.3 559.6l1.4 1.2M123.5 623.1l0.3 0.3M145.8 615.4l-0.3 1.5M132 620.8l-1.5 0.4" stroke="#d47aa4" stroke-width="0.5" stroke-linecap="round"/>
<path d="M127.1 581.7l-0.2 0.2M129.8 568.9h0M139 568.6l-0.2 0.4M145.4 592.8h0M143 586.5l0.4 0.8M145.3 583.7l0.2 0.3M140.6 633l0.2 0.4" stroke="#9a3466" stroke-width="1.5" stroke-linecap="round"/>
<path d="M132.9 578.4h0M126.5 607l0.4 0.6M136.6 558.3l-0.7 0.1" stroke="#d47aa4" stroke-width="1.5" stroke-linecap="round"/>
</g>
<clipPath id="cd0"><rect x="187.2" y="456.2" width="90.2" height="90.4"/></clipPath>
<g clip-path="url(#cd0)">
<rect x="187.2" y="456.2" width="90.2" height="90.4" fill="#2c1424"/>
<g filter="url(#bl3)">
<polygon points="208,450 285,450 285,550 257,550 250,522 238,502 222,480 212,465" fill="#262470"/>
<polygon points="180,490 200,506 214,526 224,550 213,547 205,530 196,516 187,506 180,501" fill="#481a2a"/>
</g>
<polygon points="180,497 186.5,505 214,547 180,547" fill="#070406"/>
<path d="M256.7 519.9l-0 0.2M259.3 539.5l-0 0.1M244.3 468.5l-0 0.1M256.1 512.1l0.4 0.1M230.4 481.2l0 0.3M237.8 499.8h0M250.2 508.9l0.1 0.3M249 482.8l0.3 0.3M268.2 521.5l0.4 0M253.1 467.7h0M270.8 505.3h0M254 502.6l0.3 0.1M247.4 506.4l-0 0.3M234.1 476.6l-0.2 0.2M266.7 475.2l0.1 0M253.2 464h0M267 544.6h0M258.7 470l0.4 0.1M253.8 470l0.4 0.2M266.6 542.8l-0.1 0.4M220.9 474.3l0.2 0M248.7 504.2l-0.4 0M251.4 513.9l0.2 0.3M249.6 457.3l-0.2 0.3M258.9 495h0M234.2 465.8l-0.1 0.3M247.3 511.1l0.4 0.3M246.5 463.5l0.3 0.1M273.9 514.8h0M252.5 525.7h0M248.4 505l-0.2 0.1M251.2 484.4l-0.2 0M232.6 490.3l0 0.1M227.6 456.2h0M270.7 517.4l-0.3 0.4M273.5 535.6l-0.2 0.1M251.8 517.4l-0.3 0.4M276.8 535.2l-0 0.1M260.8 487.8l-0 0.4M267.6 508.9h0M257.1 491.4l0.1 0.1M261.3 514.4h0M234.3 484.5l0.2 0.1M273.7 542.9l-0.2 0.4M263.9 543.2l-0.2 0.2M241 457.8l-0.2 0.1M269.6 495.5l-0.2 0.1M254.2 481l0.2 0.3M249.2 468.8l0.1 0M228.6 470.4l-0 0.3M270.6 471.3l-0.3 0.2M229.7 480.4l0.4 0M273.7 476.7l-0.2 0.2M255.9 472.1l-0.2 0.3M240.6 466h0M268.9 471.8l-0.1 0.1M255.3 511.8l-0 0.2M253.6 495.7l-0.4 0.1M264.7 542.8l-0.1 0.1M252.4 510.6l-0.4 0.1M254.2 493.3l-0.2 0.4M272.4 507.2l0.3 0.2M269.4 510.5h0M263.2 484.1l-0.5 0M262.5 511.8l-0.2 0M265.7 495.7h0M249.4 471.8l-0.3 0.3M249.4 518.2l0 0.1" stroke="#4646b4" stroke-width="1.5" stroke-linecap="round"/>
<path d="M272.8 486.5l-0.3 0M239.6 469.5l0.4 0.1M261.3 488.1l-0.2 0.1M265.4 495.7l0.1 0.1M244.7 503.9l-0.3 0.2M248.1 474.4l-0 0.2M219.1 471.7l-0.1 0.1M224.4 471.2l-0.2 0.2M251.9 496.3l-0.4 0.1M260.8 510.3l0.3 0.2M214.9 466.6l0.2 0M256.1 488.1l-0.1 0.1M265.7 484.4h0M276.5 521.1l-0.4 0.1M243.9 499.1l0.1 0.2M234.6 491.6l-0.2 0M257.5 486.5l-0.3 0M271.4 513l-0.3 0.3M235.8 458.4l-0.1 0.4M248 490.5l0.3 0.3M233.7 456.3h0M253.8 519.1l0.1 0.3M214.1 459h0M243.9 474.5l0.1 0.5M267.3 485.6l0.1 0.1M259.8 489.2l-0.2 0M274.6 511.2l-0.5 0.1M275.2 528.7l-0 0.3M266.7 468.8l0.1 0.3M243.8 492.7h0M272.5 490.1l0.1 0.2M259.3 465.2l0 0.3M237.7 471.9l0.2 0.2M214 462.5l0.2 0.4M266.8 457.1h0M236.6 474.1l0.1 0M260.5 506.2l-0 0.2M251.7 498l0.2 0.1M253.5 491.7l0.2 0M232.2 464.7l-0.4 0.3M265.5 478.4l0.2 0.2M268.9 475.7l-0.1 0.2M246.8 471.2l0.1 0M268.2 494.5l-0 0.2M245.1 467.3h0M276.9 476.2l-0.1 0M271 545.5l-0.2 0.1M260.4 514.1l-0.2 0.1M242.3 483.6l0.4 0.1M251.6 499h0M258.5 520.3h0M274.8 517.9l-0 0.3M263.2 514.5l-0.2 0.4M268.1 468.5l0.4 0.3M271.1 525.1l-0.1 0.4M270.2 533.9l0.2 0.4M259.1 469.7l0 0.1M255.6 474.4l-0.2 0.1M220.8 459l0.2 0.3M245.9 459.6h0M242.9 504.4l0.4 0.1M255.8 544.7l-0.1 0.1M237.7 475.6l-0.3 0.1M257 538.8h0M258.5 481.8l0.3 0.3M251.8 525.4l0.1 0.4M231.8 477.5l0.1 0.2M234.7 478.4l-0 0.4M267.2 470.7l0.1 0.5M271.5 461.6l0.1 0.4" stroke="#3a3aa4" stroke-width="1.5" stroke-linecap="round"/>
<path d="M262.5 492.6h0M251.9 526.3h0M260.7 536.6l-0.1 0.1M262.1 463.1l-0.4 0.2M252.9 473.7l-0.1 0.4M218.9 471.5l0.1 0.1M272.8 498.4h0M258.5 488.1l0.1 0.4M275.8 535.3l-0.3 0M244.1 504l-0 0.2M262.9 527.5l0.1 0.2M264.2 490.9l0.3 0.1M254 537l0 0.1M273.6 487.9h0M275.5 459.1l0.1 0.3M219.6 457.2h0M244.5 477.3h0M228.2 463.8l-0.1 0M255.9 461.5l-0.2 0.4M277.3 531l-0.1 0.2M271.9 473.3l-0.1 0.4M269.5 534.4l-0 0.2M275.8 527.1l-0.1 0.2M268.9 507.7l0.2 0M244.8 481.5l-0.3 0.3M215.6 458h0M268.3 518.1l0.2 0.2M239.8 479.6l0.3 0.1M261.6 457l0.1 0.1M244.1 500l0.4 0.2M222.1 460.2l-0.1 0.2M260.3 524.2h0M277 495.8l-0.3 0.4M277.3 471.2l-0.2 0M271.2 542.6l-0 0.4M264.2 495l-0.1 0.2M245.4 468.5h0M255 475.7h0M263.3 470.7l-0.1 0.2M265.3 459.9l0.1 0.2M213.6 463.8l0.1 0.1M257.9 483.1l0.3 0.1M265.3 516l-0 0.2M242.2 488.2l0.1 0M270.9 487.4l-0.2 0.2M268.1 456.6h0M255.9 532.8l-0.1 0.2M233.8 460.6l0.1 0M257.3 511.1l0.2 0.4M256.1 545.3h0M245.5 511.7l0.2 0.2M271.8 491.4l-0.4 0.2M229.4 464.3l0 0.1M268 458.1l-0.1 0.1M274.1 469h0M277.1 496.3l-0.1 0M251 499.6h0M263 497.3l0.1 0.2M255.8 481.1l0.1 0.3M264.9 511.3l-0.1 0.1M262.2 461.3h0M256.3 484.6l0.2 0.2M229.8 459.7h0M272.2 534.8l0.1 0.3M228.2 463.9l0.1 0.3M256 525.4h0M239.7 469.1l-0.4 0.2M261.6 488.3l-0.1 0.2M264.5 497.3l-0.1 0.3M251.4 481l0.4 0.1M241 470.1l0.3 0.1M243.5 465.1l-0.4 0.1M256.1 491.1l-0.1 0.1M268.9 462.9l0.5 0.1M250.7 470.9l-0.2 0.1M271.6 507.4l0.1 0.1M272.1 495.7h0M273.9 473.2l-0.2 0M264 522.1l0.2 0.1M265 462.4l0.1 0M245.8 514.6l0.1 0M248.9 497.7l0.3 0.2M270 505.2l-0.2 0.3M251.5 520.6l-0.5 0.1M237.9 478.8l-0.2 0.1M229.6 467.2h0M248.4 516.1l-0.3 0M269 476.9h0M264.9 491.5l-0.1 0.3M259.9 529.5h0M239.1 465.1h0M271.1 456.5l0.2 0.1M271 535.9h0M235.7 462.1l-0.1 0M266.3 467.6l0.2 0.4M236.7 481.7l0.1 0.1M265.9 539.5l0.4 0.1M266.5 478.2l0 0.2M259.6 473.4h0M213.6 458.6l0.2 0.1M264.5 478.7l0.4 0.1M254.8 473.2l0.3 0.3M269.9 529.5l-0 0.1M254.7 504.3l-0.3 0.1M265.6 461.5l-0.3 0.1M271.6 509.3l-0.1 0.4M270.8 479.7h0M234.3 467.5l0.2 0.2M271.2 543.1h0M259.6 481.9l0.1 0.2M246.1 511.7h0M258.9 520.3l0.3 0.3M255.4 526.6l-0.2 0.2M276.2 501.4l0.2 0.3M273.7 481.2h0M244.8 480.8l-0.4 0.1M252.8 491.6l0.2 0.1M263.7 522.4l0.5 0.2M271.4 530l0.2 0.4M262.9 488.9h0M241.6 476.6l-0.2 0.2M214 466.2l0.2 0M249 479.7l-0.3 0M253.5 470.4h0M269.1 484.9h0M246.4 460.9l-0 0.4M251.9 513.6l0.4 0.3M249.7 462.7h0M265.8 488.3l-0 0.3M258 514.2l-0.1 0.3M268.1 497.3h0M223.5 467.7l-0 0.3M257.4 517.1h0M236.9 487.5l-0 0.1M247.4 510.8l0 0.1M274.8 460.5l-0 0.1M276.9 507l-0.2 0M254.3 475.1l0.2 0.1M248.4 482l0 0.2M246.7 493.7l-0.2 0.3M265.8 534.8l0.4 0.2M256.8 499.8l-0.2 0.3M263.5 523.4l-0.1 0.1M227.3 464.7l-0.2 0.1M231.8 477l0.3 0.2M231.3 486.4h0M276.8 484.6l-0 0.4M262.8 460.4l-0.1 0.2" stroke="#141440" stroke-width="1.5" stroke-linecap="round"/>
<path d="M245.5 467.3l0.3 0.2M230.2 487.2l-0.4 0.2M248 506l-0.2 0.8M254 490.3l-0.8 0.4M269.8 476.5l-0 0.1M233.4 474.2l-0.2 0.9M274.3 525.3l-0.4 0.5M252.6 477.9l0.5 0.1M244.2 484l-0.4 0.7M266.8 481.9l0.5 0.6M246.9 480.6l-0.1 0.1M271.6 480.2l-0.3 0M244.7 481.1l-0.4 0.9M240.6 462.4l0.1 0.5M247.5 478.8l-0.2 0.2M217.1 460.8l-0.1 0.3M254.1 506.3l-0.4 0.8M270.2 490.1l0.2 0.2M262.8 536.2l0.1 0.6M251 489.9l0.1 0.7M260.4 482.5l-0 0.3M269 525.7l0.4 0.4M268.5 513.3l-0.2 0.1M237.9 480.5l0.8 0.6M262.2 542.9l-0.6 0.2M249 470l0.1 0.3M215.7 460.8l0.1 0.1M271.5 470.2l-0.1 0.5M245.2 500l0 0.3M277.2 485.7l-0.5 0.2M255.8 477.1l-0.1 0.2M242.1 501.7l-0.3 0.9M245.7 487.4l0.9 0.4M265.9 514.9l0.2 0.9M259.2 496l-0 0.6M254.3 465.3l-0.1 0.6M226.5 474.3l0.1 0.8M248.4 489l-0.1 0.5M265.3 542.6l-0.5 0.2M252.9 523.4l-0.5 0.2M269.3 489l0.4 0.2M246 473.1l-0.3 0.5M271.9 525.6l0.6 0.1M268.7 462.1l-0.1 0.7M275.3 458.4l0.2 0.2M217.4 473.3l0.8 0.4M260.5 465.1l-0.1 0.1M257 481.9l-0.7 0.7M220.4 464.3l-0.1 0.4M263.4 535.3l-0.3 0.8M256.9 540.9l0.9 0.4M261.9 466.5l-0.3 0.6M243.8 496.2l0.8 0.5M270.9 478.1l-0.4 0.8M265.2 533.3l-0.2 0M271.1 541.8l0.2 0.9M235.2 474.1l0.1 0.2M267.8 496.3l-0.1 0.6M267.3 472l-0.1 0.2M272.6 475l0.6 0.6M269.8 520l0.8 0.5M265.3 498.6l0 0.3M240.2 486.8l-0.2 0.5M262.3 488l-0.3 0.2M221.5 464l0.6 0.1M268.6 502.6l0.4 0.2M265.9 473.6l-0.3 0.8M244.5 495.1l-0.6 0.8M241.4 458.9l0.2 0.1M246.4 497.5l0.2 0M231.6 492.6l-0.5 0.3M236.9 488.7l-0.4 0.7M236.6 472.1l-0.3 0M253.4 457.7l-0.2 0.5M270.9 486.3l-0.1 0.1M245.7 475.7l-0.8 0.4M258.5 528.2l-0.2 0M251.6 517.2l-0.2 0.5M235.2 490.3l-0 0.4M265.4 502.6l-0.4 0.6M258.9 516.8l-0.1 0.1M259.4 542.7l-0 0.3M262.5 492.2l-0.3 0.6M237.1 469.2l0.3 0.3M256.3 512.4l-0.1 0.8M218.4 458.2l0.2 0.1M217.1 458.9l0.1 0.9M258.7 516.8l-0.1 0.4M245.9 464.1l0.6 0.1M252.2 477.1l-0.3 0.1M241.2 486.8l0.1 0.1M264.8 486.1l-0.8 0.4M267.1 504.3l-0.3 0.1M273.1 511.3l0.2 0.4M260.2 542.2l-0.6 0.6M215 465.1l-0.1 0.8" stroke="#141440" stroke-width="1" stroke-linecap="round"/>
<path d="M248.7 505.2h0M251.9 526.9h0M213 457h0M254.7 464.6h0M273.9 526h0M255.2 520.1h0M253.6 480.3h0M236.1 487.8h0M244.3 507.6h0M252.8 500.7h0M247.2 486.1h0M271.2 546.4h0M244.7 461.7h0M265.3 517.1h0M272 499.4h0M236.6 491h0M233.6 479.6h0M238.3 492.8h0M249.1 485.3h0M269.2 524.1h0M262.2 469.2h0" stroke="#141440" stroke-width="2" stroke-linecap="round"/>
<path d="M238.5 486.3l-0.1 0.1M221.7 473.8l-0.3 0M235.3 489l0.1 0.1M268.2 516.1l-0.1 0.2M248.4 517.4l-0.4 0.1M265.6 462.6l0.9 0.1M240.7 489.1l0 0.3M224.9 473.5l-0.6 0.6M266.6 494.4l0.3 0.2M232.8 481l0.3 0.1M254.8 525.8l-0.1 0.1M249 475l0.2 0.2M255.9 490.4l0.2 0.3M268 530l-0 0.5M256.2 486.9l0.5 0M263.9 479.8l-0.1 1M228.7 460.6l0.1 0.2M265.8 522.8l0.4 0.7M267.9 480.8l-0.1 0.1M254.5 512.9l0.8 0.1M268.7 522.7l-0.1 0.7M270.1 481.2l-0.8 0.1M254.2 461.2l-0 0.2M273.1 460.3l0.5 0.5M236.7 475.3l0.2 0.9M260 512.1l-0.1 0.2M270.7 525.7l0.5 0.2M270.7 546.3l-0.3 0.4M235.1 459.9l-0.7 0.3M258.1 475.6l-0.6 0.7M246.9 504.6l0.1 0.3M274.9 541.5l-0.4 0.6M252.7 520.3l0.6 0.7M270.5 544.3l0.6 0.4M250.3 471.8l-0.3 0.1M241.2 467.4l-0.7 0M229.4 464.1l0.5 0.3M223.2 473.1l0.3 0.2M257.6 506.7l0.2 0.2M244.9 482.4l0.2 0.7M259.3 484l-0 0.5M277.3 467.1l-0.6 0.2M271.9 511.3l0.7 0.1M276 506.5l0.6 0.3M260.6 470.7l-0.3 0.1M257.9 502.7l-0.8 0.4M251.5 476.3l0.2 0.8M248.2 463.9l0.8 0M250.6 472.8l-0.2 0.5M261.3 494.7l-0.2 0.4M223 459.6l0.1 0.3M230.3 479.2l-0.4 0.6M277.3 497.7l0 0.3M261.1 485.1l0.2 0.6M257.6 489.6l0.5 0.2M262 501.9l0 0.9M258.1 471.7l-0 0.1M249.8 497.8l0.9 0.1M268.3 496.8l0.1 0.2" stroke="#3a3aa4" stroke-width="1" stroke-linecap="round"/>
<path d="M271.4 470.4l0.2 0.1M264.2 532.4l-0.3 0.5M227 457.9l0.1 0.1M241.6 484.6l0.1 0.1M262.3 495.9l0.1 0.3M257 511.8l-0 0.5M220.7 466.9l0.7 0.2M260 497.2l0.3 0.6M267.2 483.1l0.2 0.4M251.9 522.5l0 0.4M244.6 505.1l-0.8 0.2M272.2 512.6l0.3 0.4M229.6 478l-0.2 0.2M250.1 483.6l-0.4 0.2M266.4 482.6l0.4 0.4M217.6 456.6l-0.2 0.2M266.2 518.9l-0.2 0.6M271 467.1l-0.3 0.8M234.3 485.5l-0.3 0.5M227.8 482.2l-0.3 0.4M266.1 482l-0.2 0M229.2 473l-0.8 0.2M225.3 458.7l0.3 0.6M253.5 526.5l-0 0.1M243.8 465.2l0.3 0.6M268.6 536.3l-0.4 0.2M259.1 538.4l-0.9 0.4M249 475.5l-0.3 0.8M274.1 528.5l1 0.1M242.2 489.7l0.1 0.1M260.7 523.8l-0.6 0.2M268.6 531.6l0.2 0.6M270.4 540l0.5 0.5M275.7 532.2l-0.2 0.1M269.7 514.9l-0.3 0.2M275.8 545.7l-0.4 0.2M258.4 542.3l0.5 0.5M248.4 502l0.3 0.5M261.2 522l-0.4 0.3M276.6 495.3l0.4 0.3M251.3 469.6l0.2 0.2M256.9 467.1l-0 0.2M276.8 483.2l0.3 0.7M263 505l-0.3 0M260.5 545.8l-0.2 0.1M243.8 504.8l0.4 0.2" stroke="#4646b4" stroke-width="1" stroke-linecap="round"/>
<path d="M263 464.8l0.2 0M258.7 459.3l0.6 0.5M272.2 540.9l0 0.4M255.9 477.7l0.3 0.4M221.5 457.8l0.4 0.6M255.1 503.3l-0.7 0.6M251.1 506.7l0.1 0.3M262.9 532.8l0.1 0.9M268.3 464.1l-0.4 0.4M256.2 527.3l0.3 0.4M259.8 507.5l0.1 0.9M248.5 498l-0.1 0.3M263.5 477l0.4 0.2M234.8 491.3l-0 1M255.4 521.8l0.4 0.1M269 480.5l-0.2 0.8M265.7 463.4l-0.5 0.8M241.1 468.9l-0 0.8M226.7 456.7l-0 0.3M234.7 456.8l-0.8 0.1M272.5 499.4l0 0.7M230.1 464.1l0.2 0.6M232.9 489.4l-0.6 0.1M250 506l-0.3 0M268.6 542.4h0M246 484.5l0.1 0.5M250.4 505.4l-0.6 0.5M245.3 465.2l0.4 0.6M276.7 464.7l-0.3 0.3M258.4 508.8l0.3 0.6M264.6 538.7l-0.2 0.6M257.5 518.5l-0.6 0.7M258.3 489.1l-0.6 0.3M269.5 476.9l-0.5 0.7M275.3 538.6l0.7 0.1M268.7 485.1l0.2 0.1M267.4 476.8l-0.9 0.1M255.5 476.5l0 0.7M219.6 475.8l-0.2 0.2M272.4 470.6l-0 0.2M245.9 458l0.5 0.2M239.8 471.9l-0.1 1M242.7 483.3l0.1 0.5M274 461.5l-0.3 0.8M232.3 468.1l-0.4 0.5M266.1 462.7l-0.3 0M243.7 462.7l0.3 0.1M236.5 458.9l0.1 0.3M276.8 484.6l-0.2 0M269.7 500.4l0.1 0.6M277.1 498.7l0.4 0.2M253.5 515.8l0.4 0.4M272.6 493.2l0.7 0.7M255.2 470l1 0.1M233.4 474.3l0.5 0.3M230.2 479.2l0.1 0M248.2 459.6l-0.2 0.3" stroke="#5454c4" stroke-width="1" stroke-linecap="round"/>
<path d="M242.9 460.4l-0.3 0.1M257.8 538.8l0.2 0.2M249.9 502.1l0.2 0.3M276.8 521.8l0.2 0.4M258.3 525.5l-0.2 0.1M269.6 493.2l0.2 0.1M277.3 533.2l-0 0.3M209.9 457.2l0.2 0.2M272.7 488.4l-0.3 0.3M262.5 478.5l-0.3 0.2M273.3 508.2l0.1 0.1M262.6 534.1l0.3 0.2M259 531.4l0.3 0.3M245.5 457.4l0.1 0.3M274.7 538.8l-0.2 0.1M230.2 469.7l-0.5 0.1M276.4 525.7l-0.1 0.4M218.2 471.8h0M276.1 513.9h0M261.5 515.9l0.3 0.3M232.6 489.8h0M270 499.4l-0.2 0.4M260 546.2l-0.2 0.3M261.6 529.6l-0.2 0.1M233.4 458.8l-0 0.3M269.1 463.8l-0.1 0M268.4 518.6h0M263.8 476.2l0.2 0.1M264.8 470.2l0.4 0.2M267.7 504.8l-0.1 0.4M270.2 466.1h0M264.8 513.3l0.1 0.2M233.1 491.9l-0.5 0.1M228.2 456.7l-0 0.3M265.3 481l0 0.2M275.2 472.6l0.1 0.2M254.3 514.2h0M266.8 462.2l0.5 0.1M272 471.3l-0 0.1M253.3 512.8l0.2 0.1M236.5 496.7h0M247.6 488.9l-0.2 0.2M257.9 535.8l-0 0.1M262 481.7l0 0.2M251.3 492.2l-0.1 0.1M215 458.8l0.2 0.3M263.8 531.2l-0.2 0.2M227.3 478.4l-0 0.1M276.6 467l0.2 0.2M274.6 471.5l0 0.2M251.6 456.5l0.5 0M275.7 531.2l0.1 0.2M259.4 464.2h0M250.1 515.2l-0.1 0.1M265.5 468.4l-0.1 0M212 464.6h0M264.1 459.4l0.2 0.4M271.2 489.2l0 0.1M249 481.1l0.2 0M225.9 479.6h0M221.2 465.6l0.1 0.4" stroke="#5454c4" stroke-width="1.5" stroke-linecap="round"/>
<path d="M268.6 538.8h0M238.5 474.3h0M267.3 457.5h0M231.9 479.4h0M249.5 514.3h0M277 541.5h0M256.9 495h0" stroke="#5454c4" stroke-width="2" stroke-linecap="round"/>
<path d="M238.5 460.3h0M260.9 530.6h0M270.5 504.1h0M253.5 526.5h0M258.8 483.8h0M248.7 458.1h0M222.7 466.2h0" stroke="#4646b4" stroke-width="2" stroke-linecap="round"/>
<path d="M259.8 515.9h0M263.8 478.2h0M244 457.8h0M265.2 480.3h0M272 495h0M244.7 496.1h0M265.9 473.6h0M268.5 510.9h0M267.4 513.8h0M241.1 484.5h0" stroke="#3a3aa4" stroke-width="2" stroke-linecap="round"/>
<path d="M229.6 500.1l0 0.2M190.7 476h0M199.1 456.3h0" stroke="#6a1e3a" stroke-width="2" stroke-linecap="round"/>
<path d="M223.8 495.5l-0.5 0.7M199.9 487.2l-0.3 0M210.9 503.9h0M214.6 469.8l0.5 0.7M213.1 484.6h0M235.7 541.7l-0.1 0.3M208.8 465.1l0.6 0.6M199.8 504.4l-0.2 0.1M190.8 506.4l0.6 0.6M215.7 506.5h0M192.9 462l-0.1 0.2M255.1 543.7l0.2 0.3M215.5 521.3l0.6 0.4M225.9 500.8l-0.3 0.3M202.4 516.5l0.2 0.4M231.8 512.5l0.3 0.1M229.6 522.6l-0.8 0.1M215.3 471.1l0.8 0.2M243.7 513.3l0.3 0.3M230.8 540.5h0M208.5 528.9l0.1 0.4M222.5 513.5l-0.2 0.5" stroke="#58203a" stroke-width="1.5" stroke-linecap="round"/>
<path d="M193.3 491l1.3 0.1M220.6 525.6l0.2 0.1M215.1 499.1l-1 0.4M208 483.2l0.5 1.2M241.5 533.5l0 0.3M227.7 505.6l0.2 0.4M232.7 539.8l-0.4 0.3M190.7 509.3l0.4 0.1M191.4 471.1l-0.6 0.5M204.3 458.7l-0.3 1.4M224 514.9l0.1 0M190.3 474l-0.2 0.3M245.7 516.5l0.7 0.3M188.7 477.9l0.1 0.4M216.4 513.4l-1.1 0.4M196.4 469.5h0M211.3 528.2l0.6 0.5M193.8 484.4l-0.6 0.6M203.9 508.1l1 0.8M208 508.7l0.6 0.1M198.3 458.9l0.5 0.2M238.1 538.5l-0.6 0.5M208.1 471.8l-0.5 0.5M206.7 491.7l-0.6 0.3M210.1 470.3h0M213.2 502.1l0.9 0.8M198.3 482.1l-0.3 0.1M221.2 534.8l0 0.9M203.8 503.1l0.1 0.2M236.5 518.4l-0 0.8M249.7 539.1l0 0.2M232.3 507.8l-0.3 0.5" stroke="#6a1e3a" stroke-width="1" stroke-linecap="round"/>
<path d="M242.9 536.1l0.2 0.1M204.5 468.6l0.4 0.2M248.1 536.1l-0.1 0.3M224.1 491l-0.5 0.6M189.4 498.2l-0.9 0.8M229.3 539.3l-0.8 0.4M228.4 507.4l0.1 0.6M222.1 521.8l0.1 0M216.4 474.5l-0.1 0.9M228.9 513.9l0.4 0.9M220.3 526.8l0.5 0.2M205.5 526.6l-0.4 1M231.5 518.2l-0.2 0.1M213.1 522.5l-0.4 0.6M211.9 522.3l0.7 0.2M209.4 460.1l-0.8 0.7M197.8 468.3l-1 0.2M212.1 525.6l-0.3 0.9M218.2 479.1l0.1 0.2M228.6 537.5l0.7 0.3M234.8 541.6l0.3 0.7M214 543.2l0.1 1.1M249.7 531.3l-0.1 0.1M191.7 495.2l-1.1 0.8M241.8 521.9l-0.4 0M219.8 534l-1 0.1M192.5 477.6l-0.3 0.4M224.5 490.4l0.3 0.9M240 535.9l-0.3 0.2M238.4 532.7l0.1 0.1M209.2 516.1l0.2 1.1" stroke="#3a2c8a" stroke-width="1" stroke-linecap="round"/>
<path d="M188 486.3l0.1 0.6M202.8 491l1.1 0M251.6 542.3l-0.6 0.9M212.6 518.3l0.7 0.9M220.8 537.5l-0.2 1.1M194.8 464.9l0.6 0.4M198.8 476.4l0.1 0.5M233.8 515.6l-1.1 0.9M200.1 521.1l0.9 0.2M200.3 515.4l0.4 0.6M218.6 531.1l0.4 0.2M240.8 542.7l1 0.6M203.2 502.6l-0.2 0.4M229.8 503.5l0 0.5M224.7 485.3l0.4 0.7M228.1 519.3l1.4 0.1M229.1 506.4l0.2 0.4M219.5 532.2l-0.1 0.8M191.3 468.7l-0.5 0.1M207.5 534.3l-0.2 0.2M243.2 523.3l-0.7 0.1M217.3 525.9l-0 1.1M191.1 473.8l-0.1 0M193.8 493l0.2 0M190 479.1l-0.2 0.9M194 512.9l0.3 0.4M232.6 509.9l-0.3 0.4M214.9 535.7l-0.7 0.3M221.5 533.5l-0.5 0.7M200.4 477.5l0.1 0M225.7 526.9l0.4 0.5M237.5 515.7l1 0.5M206.3 525.9l-1.3 0.2M226.4 512.9l0.3 0.1M218.2 509.5l-0.8 0.4M196.1 483h0M212.7 503.3l0.4 0.6M206.7 466.7l-0.5 1.2M211.7 522.5l-0 0.2M188.5 495.4l0 0.1M211.7 526.3l0 0.4" stroke="#140a14" stroke-width="1" stroke-linecap="round"/>
<path d="M229 545.1l-0.1 0.1M214.6 471.8l0.3 0.2" stroke="#7a2440" stroke-width="2" stroke-linecap="round"/>
<path d="M189.2 482.7l-0.2 1.2M194 473.2l0.4 0.1M206.7 494l0.8 0.8M231.7 506.5l-0.1 0M240.3 513.9l-0.1 0.2M249.6 543.5l-0.8 0.4M228.8 491.9l-0.1 0M215 481.2l-0 0.1M238.2 535.1l0.2 0.2M255.1 544.7l-0.1 0M234.7 508.4l0.9 0.2M228.2 523.3l0.3 0M225.4 525.3l-0 0.2M204.5 516.1l-0.6 0.2M199.8 512.5l0.4 0M218.8 511.2l0.8 0.5M200.5 492.8l-0.4 0.1M221.4 540.2l-0.5 1.2M222.9 486.5l0.3 0.9M207.8 497l0.1 0.3M201.2 458.7l-0.3 0.3M223.9 483.6l0.2 0.2M233 542.5l1 0.9M200.1 459l-0 0.2M236.3 513.6l1 0.6M207.3 482.7l0.2 0.1M223.7 521l0.3 1M209.5 470.3l0 0.1M216.1 484.7l-1.1 0.2M203.9 529l1 0.1M219.4 525l0.4 1.2" stroke="#7a2440" stroke-width="1" stroke-linecap="round"/>
<path d="M202 525l0.6 0.1M200.4 519.2l0.1 0.4M239.7 520.2l0 0.2M241.6 523.5l-0.4 0.3M222.7 533.3l-0.1 0.3M201.1 487.6h0M194.2 502.8h0M207.6 470.4l-0.8 0.3M222.1 487.8l0.1 0.3M248.4 535.2l-0.3 0.2M226.4 523.4h0M206.1 463.4l-0.2 0.4M218.8 498.4l0.4 0.1M202 465.1l-0 0.2M189.1 506.1l-0 0.3M199.3 488.2l-0.1 0M212.3 542.9l-0.2 0.5" stroke="#6a1e3a" stroke-width="1.5" stroke-linecap="round"/>
<path d="M203.8 463.1l-0.2 0M208.1 523.8l0.5 0.1M210.3 522.4l0.1 0.4M210.4 495.8l-0.2 0.2M227.8 527.4l-0 0.4M205.4 487.2l0.6 0.5M198.1 460.5l-0.4 0.2M209.7 513.1l0.6 0M237.3 510.3l0.1 0.3M233.4 507.6l0 0.3M195.6 505.8l0.6 0.6M208.8 500.8h0M231.6 515.2l0.1 0.6M204.4 517.7l-0.3 0M225.9 504l-0.2 0.3M235.3 537.7l-0.4 0.2M203 496.8l-0.4 0.2M193.3 474.4l-0.1 0.4M235.6 531.8h0M238.1 507.1l-0 0.3M200.8 458.2l0.1 0.6M211.5 519.7l-0.4 0.6" stroke="#7a2440" stroke-width="1.5" stroke-linecap="round"/>
<path d="M194.1 457.8l-0.3 0.6M223.7 533.9l0.4 0.1M237 544.1l1.2 0.3M224 535.1l0.3 0.6M237.5 540.6l-0.2 0.3M194.5 497.5l0.7 0.3M210.8 501.9l-1.1 0.3M195.4 498.3l-1 0.8M206.3 489.3l-0.4 0.7M190.7 506l-0.5 0.7M214.9 495.6l-0.9 0.7M220.2 478.9l0.3 0.6M200.8 502.8l0.5 0M208.6 519.3l0.3 0.9M197.9 517.8l-0.8 0.1M243.2 535.9l-0.3 1.3M235 521.3l-0.5 0.6M219.8 517.4l-0.2 0.2" stroke="#58203a" stroke-width="1" stroke-linecap="round"/>
<path d="M192.6 504.1l-0.4 0.6M208.1 494.6l0.6 0.5M193.4 485.3l-0.4 0M237.7 514.6l-0.2 0.6M244.9 539.2l0.1 0M239.1 507.6l-0.3 0.2M196.1 497.3h0M214.4 519.7h0M228.9 522h0M212.6 509.4l-0.1 0.5M240.7 542.6l-0.1 0.4M236.9 504.9l0.2 0.7M225.9 500.7l0.1 0.4M233.6 537.7l0.8 0.2M229.4 490.1l-0.3 0.2M225.9 536.9h0M201.4 467.1l0 0.2M225.4 498.6l0.4 0.2M210.6 462.7l0.2 0M224.1 543.4l-0.4 0.4M206.2 513.7l-0.4 0.4M216.7 490.2l-0 0.1M196.4 488l-0.1 0.3M188.9 497.5l0 0.4M203.1 528.8l-0.3 0.2M216.4 530.9h0M202.1 478.9l-0.2 0.4M190.3 506.4l0.4 0.5M215 510.6l0.5 0.2M230.5 494l0.1 0.4M215.1 501.2l-0.7 0M215.7 535.4l0.5 0.1M224.3 541.1l-0.3 0.2M193.2 498l-0.1 0.3M229.1 529.1l-0.6 0.4M207.4 473.2l-0.2 0.3M228.1 514.5l0.8 0.1M198.5 464.1l0.4 0" stroke="#140a14" stroke-width="1.5" stroke-linecap="round"/>
<path d="M196.1 472.1l0.2 0.3M194 485.4l0.4 0.3M219.4 510.2l-0.1 0.2M205.1 474.1l0 0.1M194.1 472.6l-0.1 0.4M234.3 516.1l0 0.4M216.9 473.5l-0.2 0.1M215.3 539.3l-0.7 0.4M203.2 517.2l-0.2 0.6M213 537.3l-0.1 0M203.5 525.1l0.1 0.2M225.8 531.2l0.1 0.1M197.6 483h0M229.7 530.2l0.2 0M220.3 479.8l0 0.2M238.5 543.7l0.3 0.1M239 514.8l0.8 0.2M190 472.5l-0.3 0.6M198.8 475.4l0.1 0.5M241.3 513.9l0.8 0.3M244.3 515.2l0.4 0M240.9 539.2l-0.3 0.7" stroke="#3a2c8a" stroke-width="1.5" stroke-linecap="round"/>
<path d="M213.9 476.2h0M250.8 543.1h0M239.1 507.3h0M233.5 533.2l0.1 0M219.6 491h0M223.8 528.2h0M234.9 524.2l0 0.1M191.4 484.5l0.1 0.3M241.6 536.7h0" stroke="#58203a" stroke-width="2" stroke-linecap="round"/>
<path d="M224.6 491.1h0M204.5 510.7h0M211.8 501.7h0M235.4 531.6l0.1 0.3M230 497.3l0.3 0.2M225.8 542.7h0M249.4 541.9l-0.3 0.3M211.9 502.6l0.1 0.2" stroke="#140a14" stroke-width="2" stroke-linecap="round"/>
<path d="M188 506.6h0M248.3 541.3h0M217.5 481.1l0.2 0.2M238.2 509.7l0.3 0.1" stroke="#3a2c8a" stroke-width="2" stroke-linecap="round"/>
</g>
<clipPath id="cd1"><rect x="284.0" y="456.2" width="90.2" height="90.4"/></clipPath>
<g clip-path="url(#cd1)">
<rect x="284.0" y="456.2" width="90.2" height="90.4" fill="#2a1022"/>
<g filter="url(#bl3)">
<polygon points="334,450 380,450 380,550 357,550 350,530 342,510 335,490 331,470" fill="#2e2c88"/>
<polygon points="286,450 334,450 331,462 310,468 286,476" fill="#2a1e5a"/>
</g>
<path d="M335.7 473.7l1.4 0.2M366.2 500l1.1 0.2M353.4 489.1l0.1 0.5M352.2 492.4l1.3 0.7M368.7 481.8l-0.4 0.8M359.3 539.1h0M353.2 525.7l1 0.3M358.9 471l-0.1 0.1M355.2 515.9l0.3 0.1M374.4 501.3l-0.7 0.9M360.9 517.2l-0.1 0.1M373.9 498.2h0M370.8 478.9l0.7 0.2M332 473.7h0M367 530.4l-1 0.1M351.6 528.2l0.1 0.6M358.4 498.3l-0.8 1.1M349.4 466.5l-0.9 0.2M366.5 515.7l0.6 1M356.5 505.2l-0.7 1.2M344.9 465.1l0.1 0.3M354.5 489.6l-1.1 0.1M371.6 517.4l0.3 0.3M339 485.2l-1 1M369.1 514.5l-0.1 0M345.8 486.7h0M357.4 505l0.2 1.1M350.2 476.4l0.7 1.3M364.3 518.8l-0.1 0.4M367.9 478.9l0.2 0.2M355.5 477.5l0 0.1M362 528l-0.1 0.4M360.5 519.7l0.4 0.4M366.3 476.5l-0 1M346.9 521.3h0M345.1 473.8l-0.2 0.4M359.3 484.3l-0 0.2M363.7 517.6l-0.6 1.1M363.9 472.4l1 0.1M333.6 476.7l0.2 0.1M370.3 496.9l0 0.1M368.7 478.4l0.1 0.3M366.1 532.7l0.2 0.5M363.1 536l-0.1 1.2M338.4 463.3l0.1 0.3M371.5 541.4l-0.2 0M360.6 503.2h0M369.8 518.1l-1.4 0.1M351.8 508.9l-0.2 0.2M352.2 522.6h0M361.8 474.1l0.6 0.2M352.8 475.2l-0.2 0M346.1 489.9l-0.2 0.1M367.5 535.1l-0.1 0.2M351.2 513.7h0M361.5 530.8l0.2 0.6M347.4 492.7h0M361.3 510.6h0M355.1 483.3l0 1.1M371.1 526.1l-1.1 0.5M363.4 466.6l-0.1 0.7M367.4 507.6l-0 1M348.2 495.5l1.1 0.5M357.1 487.9l0 0.1M364.8 514.8l-1.5 0.1M354.6 534.7l0 0.1M346 506.3l0.1 1.4M351.1 462.7l0.2 1.3M344.6 471.6l0.5 0M342.7 469.1l0 0.5M334 480.3l0.3 0.5M353 482.6l-0.5 0.7M363.3 460.1l0.9 0.5M364.3 485.6l0 0.1M347.4 476.1h0M371.9 524.9l0.8 0.3M370.5 514.3l0.4 0.2M338.8 492.7h0M348.4 475.9l0.2 1.3M372.6 506.6h0M358.9 506.2l-0.2 0.4M351.4 529.2l-0.3 1.3M346.8 482.8l0 0.8M362.9 509.1l0.3 0M349.3 507.1l-0.9 0.2M351.7 530.8l1 0.8M363.3 533.8l0 0.2M368.7 481.1h0M363.8 542.6l0.3 0M364.1 482.9l1.2 0.8M362.6 535.2h0M370.6 478.8l0.9 0M346.5 462.7l-0.7 0.6" stroke="#161648" stroke-width="1.5" stroke-linecap="round"/>
<path d="M339.7 485.3l1.3 1.2M345 485.6l0.6 0.4M333.9 483.1l0.6 0.4M370.9 521.7l1.3 0.6M343.9 465.5l-0.7 1.2M369.7 507.6l1.5 0.4M367.1 523.4l-1.6 0.2M371.7 520.2l-0.1 0.7M371.2 507l-1.8 0.4M351.6 475.2l-2 0.2M340.9 475.2l0.4 0M346.3 471.3l0.5 1.6M369.9 496.5l0.2 0.9M354.4 491.1l-0 0.4M335.5 456.1l-0.1 0.9M349.3 511.3l0.3 0.2M356.6 499.8l0.5 0.5M340.6 469.6l1.1 0.6M341 492.7l0.2 0.5M349.1 482.6l0.3 1.5M366.2 476.6l-0.5 0.5M355.4 467.2l0.6 0.3M340 486l-1 0.8M351.3 522.9l1.3 0.9M356.6 475.6l0.7 1.5M353.2 477l0.5 0.1M369.7 523.2l-0.7 0.8M347.8 481.8l-0.7 0.5M358.9 521.2l1.2 0.7M355.9 462.4l1.5 1.1M351.4 525.6l1.8 0.7M348.6 479.4l0.3 0.1M364.3 461.8l-0.2 1.7M360.8 495.9l1.3 0.7M373 458.2l0.4 0.9M370.1 525.4l0.4 0.2M333.7 463.9l-0.5 1.7M350.7 527.1l-0.4 0M343.3 503l0.2 0.1M348.4 475.7l-1.3 0.9M362.1 471.2l1.7 0.6M337.2 482.4l-1.3 0.1M336.6 480.1l0.1 1.5M340.9 455.9l0.7 1.4M368.3 486.2l-1.7 1M344.4 465.2l1.7 0.3M347.5 468.5l-0.1 1.3" stroke="#161648" stroke-width="1" stroke-linecap="round"/>
<path d="M356.2 489.7l-0.8 0M362.4 492.8l-1 0.9M356.4 491.2l-0 1.6M349.3 494l0.4 0.2M355.7 513.3l0.7 1.3M332.6 473.7l1.4 0.9M353.6 518.3l-0.6 0.3M371.7 491l-0.8 1.2M352.4 494.7l-0.7 0.9M363.2 490l0.6 0.7M374.4 542.9l-0.6 0.4M349.1 462.8l-1.4 0.8M346.3 495.4l0.6 0.5M366.2 531.4l0.4 1.2M344.1 490.6l-0.8 1.2M349.8 477.2l0.2 0.6M362.2 468.7l-0.4 0.1M358.6 523.9l-1.2 0.1M340.2 491l0.2 1.9M359.9 498.8l-0.2 0.5M339.6 498.1l1.8 0.2M346.9 467.3l0.5 1.5M365 512.7l-0.7 1.5M340.6 472.6l0.1 0.9M345.2 510.7l-0.4 1.3M360.1 512l-0 0.3M354.8 526.7l-1.9 0.5M336.2 486.4l-0.1 1M365.2 503.2l-1.2 0.7M371.4 520.9l0.1 1.1M372.8 483.5l0.9 0.6M372.9 528l-0.7 1.4M346.2 493.1l0.3 0.7M373 496.3l0.8 1M354 484.3l-1 1.3M354.3 527.4l-0.3 1.5M359.9 514.6l-0.4 0.9M345.1 504.1l-1.3 1" stroke="#4a4ac2" stroke-width="1" stroke-linecap="round"/>
<path d="M361 502.2l-1.7 0.3M361.8 461.2l-0.8 1.2M372.1 466l-0.3 0M365.1 496.7l0.3 1.9M363.3 503.6l-0.2 0.2M361.4 529.8l0.6 1.5M363.4 463.1l-0.8 0.9M343 505.2l1.4 0.9M348.8 478.1l-1.2 1.4M348.9 509.3l-1 1M371.6 531.1l0.8 0.3M339.5 469.6l-0.4 0.1M369.9 543l1.1 0.5M360.1 495l0.7 0.3M343.2 457.4l-1 1.4M352.8 536.6l-0.5 1.2M355.2 479l-0.4 0M359.7 467.9l-0.9 0.6M373.1 499.7l0.8 0.9M343.8 466.2l0.3 0.4M372.6 524l0.3 1.8M356.8 492l0.1 0.2M348.9 470.6l-0.7 0.2M356 470.5l1.2 0.1M363.6 487.9l-0.2 1.7M363.1 492.5l1.3 1.3M369.1 520.6l0.7 1.7M340.6 459.8l0.3 0M360.5 458.4l1 1.1M351.9 523.7l-1 0.8M372.3 480l-0.9 1.6M367.6 514.4l0.8 1M349.6 509.7l-1.1 0.3M364 488.3l-0.3 1.3M365.4 515.3l-0.9 0.1" stroke="#4040b6" stroke-width="1" stroke-linecap="round"/>
<path d="M345.2 511l-0.4 0.7M366.7 474.2l1.3 0.3M365.3 485.1h0M351.2 502.8l0 0.1M345.9 488.7l0.1 0.9M372.1 528.2l0 0.3M350.1 515l0 0.2M367.6 537.8l0.7 0.2M371.3 533.2l0.4 0M336.7 457.3l-0 0.2M362.6 478.8l0.5 0.2M356 471.6l-0 0.7M351.3 493.5l0.1 0.6M352.2 529.6l-1.3 0.6M352.3 520.6l0.6 1M353 458.8l0.3 1.4M371.9 539.1l-0.1 1.1M355.9 537.4l-0.3 0.5M373 456.3l0.1 0.2M354.7 512.5l0.4 0.6M355.9 526.7l-0.3 1.1M366.1 488.1l0.4 0.2M356.5 521.2l0.1 0.1M356.3 477.9h0M360.3 539.9l-0.1 0M349.2 503.7l0.1 0.2M362.1 477.1l-1.1 0M343.5 459l-1.1 0.3M361.2 457.1l-0.1 0M356 477l-0 0.2M366.3 473.4l0.1 0.1M361 488.5l-0.6 0.2M345.2 485.9l-0.4 0.2M340 465l0.9 0.2M372.3 488.7l0.1 0.1M373.7 518.4l-0 0.1M356.9 524.2l-0.3 0M355.2 473.9l-0.3 0.2M363.7 461.7l-0 0.2M359.9 532.2l-0.4 1M356.4 541.4l-1.1 0.5M372.4 461.2l-0.3 0.9M361.5 472.1l-0.5 0.1M363 464h0M373.3 495.3l0.1 1M344.1 480.3l0.3 1.4M345.2 465.2l-0.9 0.8M372 458l1 0.5M367.6 545.9l-1.1 1M348.4 474.8l0.1 0.1M374 463.7h0M347.2 496.5l0.1 0.2M359.4 473.5l1.3 0.5M342.7 484.9l-0 0.3M366.6 495.9l-0.7 1.1M368.7 484.5l-0 0.2M372.3 464.6l-0.2 0.1M361.2 467.4h0M337.9 488.4h0M373.2 516h0M367.9 540l-0.2 0.2M342.4 499.9l-0.8 0.7M355.5 489.4l-0.1 0.1M346.5 480.1l-0.5 0.2M368.7 478.6h0M362 482.5l0.2 0.3M357.8 479.5l-0 0.2M368.1 503.7l-0.6 0.3M349.2 475.6l-0.2 1.3M369.6 459.2h0M352.5 514.4l1.2 0.3M357.5 516.8l-0.1 0.8M335.5 463.8l0.1 0M356.6 517.8l0.9 0.7M332.9 473l0.1 0.1M374.4 462.3l-1 0.1M346.6 484.5l-0.2 0.4M354.7 510.6l0 1.1M364.2 460.9l-0.4 1.4" stroke="#4a4ac2" stroke-width="1.5" stroke-linecap="round"/>
<path d="M356.5 477.7l0.1 0.2M371.9 524.1l-0.1 0.1M352.3 490.1l-0.1 0.1M335.9 487.5l1 0.8M370.8 461.1l0.9 0.7M352.9 491.9l-0.9 1M369.9 470.4l1 0.1M371.7 520.6l-0.3 0.7M365 467.6l-0.5 0.5M373.3 481.8l-0.4 0.5M373 513.6l-0.5 0.7M373.2 505.1l0.6 0.9M369.8 513.2l-0.5 0.2M372.5 458.6l0.1 0.1M362.7 531.4l-0 1.2M345.8 492.7l0.1 0.1M372.7 527.4l0 0.1M369.7 465.3l0.4 0.5M341.8 459.2l0.4 0.4M334.9 473l0.9 0.3M361.6 528l0.5 0.1M357.9 517.5l0.8 1.1M370.5 506.3l1.2 0.1M342.6 485.2l0 1M359.5 528.2l-0.2 0.1M362.1 498.2l0.9 0.8M357 486.9l0.9 1M352.9 522.8l-0.7 0.3M340.1 473.3l0 1.2M365.7 466.4l-0.2 0.1M363.1 469.7l0.9 0.3M368 538.4l-0.6 0.8M362.4 462.3l0.3 0.8M366.9 512.2l-0.9 0.7M345.1 468.9h0M349.2 476.9l0.1 0.2M347.9 485.5l-0.6 1M368.8 476l-0.1 0.3M369.6 496.6l-0.1 0.2M337.1 470.4l-0.1 0.1M336.3 464.7l1.2 0.6M364.6 456.6l0.5 0.5M359 540.4l0.1 0.3M357.4 459.6l-0.4 0.7M343.7 467.7l-0.1 0.3M351.3 534l0.9 0.4M371.9 514.8l-0.1 0.2M345 484.1l-0.8 0.3M334.1 461.2l0.1 0.2M355.1 482.1l1.4 0.4M346.6 502.5l-0.5 1.4M357.3 467.4l1.2 0.1M359.9 466l0.3 1M360.7 516.7l-0.2 0.5M368.6 494l0.8 0M355.7 504.8l-1.2 0.5M351.8 529.2l0.3 0.1M358 476.7l0.4 1.4M369.5 505.8l1.2 0.4M353 492.8l0.1 1.1M365 533.7l0.5 1.4M346.1 518.4l0.4 0.2M347.7 468.2l-0.9 1.1M361 515.7l0.1 1.1M370.3 503.9l-0.7 0.6M361.5 490.5l1.1 0.6M343.8 468.2l0.2 1.1M373 520.6h0M355.5 474.9l-0.9 0.8M351.6 517.2l0 0.1M358.4 474l-0.4 1.4M356.6 472.3l1.1 0.1M343 498.8l-0.2 0.4M354.7 479l0.2 0.1M338.3 496.1l0 0.3M363.7 536.7l0.1 0.3M334.4 482.1l-0.8 0.6M361.7 530.8l0.1 1.2M354.5 471.2l-0.8 0.6M336.6 483.9l-0.1 0M345.6 474.6l1.1 0.9M353.9 462.5l0.4 0.8M336.7 489.9l0.7 0.3" stroke="#3434a4" stroke-width="1.5" stroke-linecap="round"/>
<path d="M369.7 526.1h0M356.1 497.2h0M339.4 457.6h0M351 478.9l0.1 0M340.2 483.4l0.5 0.5M345.4 489.3l0.1 0.2" stroke="#4040b6" stroke-width="2" stroke-linecap="round"/>
<path d="M367.9 516.3l-0.4 0.4M339.8 482.7l-0.2 0.4M360.5 516.1l-0.7 0.7M336.3 470l-0.5 0.1M345 465.1h0" stroke="#161648" stroke-width="2" stroke-linecap="round"/>
<path d="M366.8 502.4l0.1 0.1M373.5 496.7l-0.7 0M363 544.6l0.6 0.4M351.7 461.3l-0.5 0.8M364.3 516.5l0.1 0.2M374.3 473.8l-1.1 0.1M368.4 519.7l0.1 0.3M344.7 494.2l-0.6 0.2M358.1 511l-0 1.1M361.2 540.7l0.7 0.3M354.1 467.6l0.8 1.1M358.7 497.2l0.9 0.3M350.8 488.8h0M353.3 533.4l0.9 0.8M350.6 472.4l-0 0.2M355.8 518.5l-0.2 0.1M357.9 490.1l0.5 1M359.5 483.4l-0.8 0.6M362.2 536l0.1 0.3M367.2 487.7l0.1 0.3M334 476.7l-1.1 0.9M367 509.2l1.2 0.6M372.7 517.8h0M354.6 490.8l0.3 0M353.3 538.3l-0.1 0.5M353.2 526.6l0.2 0.3M337.5 465.1l0.6 0.6M367.4 484.2l1 0.5M369.1 469.5l-0.1 0.1M336.8 477.3l0.1 0.1M368.4 490.6l0.4 0.8M369 490.6l0.7 0.7M338.7 483l-0.1 1.4M364.2 465.3l-0.4 0.1M360.3 466.7l-1.1 0.9M368.1 534.9l-0.1 0M338.8 463.8l0.1 0.3M350 476.4l-0.5 0.2M341.8 472.4l-0.6 1.2M363.1 469.2l0.6 0.8M352.8 471.8l-0.1 0.1M366.7 528.4l0.3 0.5M344.2 494.3l0.7 0.7M342.4 474.7l0.2 1M368 541.2l-0.1 0.1M356.5 495.3l-0.3 0.7M347 481.7l-0.2 0.5M371.9 514l0.6 0.3M356.1 507.3l-1.1 0.4M336.3 492.4l-0 0.8M363.7 545.1l0.2 0M346.1 463.3l-0.3 0.6M340.7 465.6l-0.2 1.1M337.2 461.8l-0.7 0.1M363.2 487.1l-0 0.3M352.6 463l0.3 1M355 517.5l0.4 0.6M357.3 531.9l0.3 1.2M357.7 500.6l0.4 1.2M343.6 456.9l-0 0.3M366.5 513.4l-0.6 0.5M354.5 520.3l-0.4 0.1M337.1 469l0.1 0.1M344.8 465.8l0.1 0.1M369.2 541l-0.6 0.1M344 484.3l-0.1 0.6M350.5 530.7l0.9 1M373 477.2l-1.1 0.2M373.5 462.3l0.2 0.2M359.4 467.1l0.9 0.5M370.6 516.9l1 0.5M340.2 460.5h0M335 458.9l-0 0.3M354.8 480.7l-0.9 1" stroke="#4040b6" stroke-width="1.5" stroke-linecap="round"/>
<path d="M349.6 490.8l-0.7 1M363.7 507.6l0.5 0.1M342.2 500.5l-0.9 0.8M332.7 466l0.7 0.7M337.6 486.7l0.3 0.3M354.7 539.9l-0.1 0.9M373.3 493.1l-1 0.4M361.4 523.2l1 1.6M368.7 466.2l-1.1 0.1M370.3 539.9l1 0.5M364.2 496.9l0.2 0.8M372.1 513.9l-0.1 1.1M367.2 487.9l-0.5 1M337.9 486.2l0.8 1M349.8 490l-0.1 0.6M362 538.8l-0.3 1.4M353.7 467.1l-1 0.6M344.1 484.4l0.9 0.1M347.5 501.7l0.7 0.8M350.7 476l1.3 0.7M335.2 485.7l0.3 0M353.4 518.1l-0.5 0.2M353.8 485.6l-0.5 0.7M369.9 508l-0.6 1.4M347.1 481.7l-1.3 1.2M343.9 476.2l0.5 1.5M345.8 464.9l-0.8 1.8M336.3 456.2l-0.5 0.4M337.5 471.6l0.5 0M357.3 481.9l-0.7 0.7M364.5 473.4l-0.8 0.7M368.9 516.2l0.3 1M363.8 525.1l-0.4 0.1M359.8 484.8l1.2 1.2M337.9 459.5l0.3 0M368.4 541.9l-0.2 0.3M349.2 496.3l0.7 1.6M343.6 458.8l0.9 1.7M366.8 462.2l-1 1.6M335.4 467.9l1.6 1M345.4 511.9l-0.4 0.8M355.8 522l-0.3 0.4M365.6 535.3l-0.1 0.6M336.6 468.1l0.7 1.3M359.4 513.4l0.6 0.2M364.8 456.2l1.3 0.5M364 521.9l0.1 1.3M356.8 537.2l-0.5 0.7M366 505.2l-0.6 0.3M365.8 495l-0.3 1.2M340.9 456.7l-1.4 1.3" stroke="#3434a4" stroke-width="1" stroke-linecap="round"/>
<path d="M346.5 509.4l0.1 0.1M372 495l0.3 0.1M337.1 495.9h0M373.8 468.5h0M349 458.4l0.2 0.3" stroke="#3434a4" stroke-width="2" stroke-linecap="round"/>
<path d="M347.5 517.5h0M373.3 528.6l0.5 0.8M359.7 508.8l-0.4 0.3M349.2 508.5l-0.5 0.5" stroke="#4a4ac2" stroke-width="2" stroke-linecap="round"/>
<path d="M320.5 537.7l-0.7 0.7M304.3 515.3l0 0.1M331.7 546.4l0.1 0.1M306.4 533.2l0.8 0.1M322.2 495.6l-0.9 0.3M315.3 479.2l0.4 0.1M289.3 469.9l-0.2 0.3M326.1 526.4l-0.5 0M329.2 533.3h0M310.4 472.6l-0.2 0.1M299 478.3l0.6 0.2M293.5 504.4h0M330.4 471.7l-0.9 0.1M325.7 478.7h0M306.8 521.3l-0.2 0.1M297.6 529.6l0.3 0.9M312.9 460.6l0.1 0.2M321.6 467.7h0" stroke="#7a1e3a" stroke-width="2" stroke-linecap="round"/>
<path d="M335.2 490l-0.2 1.2M294.9 518.1l-0.7 0.9M309.3 459.3l0.1 0.2M317 491l-1.1 1M339.4 528.9l0.3 0.4M333.5 508.9l-0.9 1.4M314.5 496.3l-0.5 0.1M304.2 517.3l0.4 0.2M316.9 537.9l-0.6 0.7M334.1 494.4l-0.7 1M285.8 515.7l0.2 0.9M284.7 510.6l0.5 1.2M323.2 533.5l-0.2 0.7M287.9 464l-0.8 1.1M321.2 474.7l-0.2 1.6M305.2 506.7l0.1 0.1M285.5 487.3l0.5 0M303.7 499.7l0.2 0.1M288.5 457.1l1.1 0.5M294.4 469.6l-0.1 0M306 530.1l0.2 0.1M301.2 472.3l-0.5 0.3M319.9 536.2l0.1 0.1M299.8 530l-0.4 0.8M329.3 481.6l-1.6 0.1M330.9 514.7l0.2 0.1M328.9 474.8l0.4 0.2M325.5 498.9l1.1 0.1M339.6 512.8l0.2 0.1M289 511.4h0M315.9 465.8l0.2 0.6M320.4 498.4l-0.1 0.5M326 489.5l0.9 1.3M313.7 485.9l0.5 0M324.8 495.4l-1.4 0.1M318.5 539.2l-0.2 1.2M298.1 467.3l1 1.1M340.7 519.5l0.2 0M315.6 533.4l1 0.5M312.6 520.4l0.6 0.4M345.4 526.5l0.7 1.1" stroke="#7a1e3a" stroke-width="1.5" stroke-linecap="round"/>
<path d="M301.4 486.8l0.2 0.5M293.9 487.6l0.3 0.1M323.6 505.1h0M285.1 504.4h0M304.4 489.8l0.5 0.9M353.8 541.9l-0.5 0.1M339.8 542.2l-0.2 1.1M331.9 457.3l0.5 0.6M326 482.5l-0.1 0.7M340.9 538l-0.5 0.3M305.3 458.1h0M317.7 515.9l-1.1 0.2M340.2 522.6l-0.7 0.1M305.2 488.6l-0.8 0.4M323.4 498.3h0" stroke="#6a1a34" stroke-width="2" stroke-linecap="round"/>
<path d="M311.5 488.9l0.8 0.6M301.4 475.7l0.1 0.3M324.9 510l0.3 0.5M344.2 543.1l0.3 0M307.3 485.2l-0.1 0.2M307.2 468.5l-0.6 0.9M330.1 485.6l1 1M310.6 493.6l-0.2 0.1M290.1 536.4l-0.3 0.2M314.8 516.3l-0 0.1M296.2 508.5l0.8 0.6M328.5 535.4l0.8 0.4M331.7 514.8l-0.3 0.2M308.3 476.1l-0 0.2M341.5 539.7l-0.3 0.3M299.7 540.2l0.3 0.2M306.2 484.9l-0.3 0.4M319.7 519.9l-0 0.2M293.8 458.9l-0.5 0.1M328 522.7l-0.1 0.4M328 488.6l1.3 0.1M324.4 479.9l0.3 1.7M294.6 511l-0.5 1.1M330.2 539.9l-0.2 0.3M317.9 495.1l0 0.9M284 500.2l0.4 1.2M320 493.8l0.3 0.2M320 489.7l0.2 0.2M289.2 506.7l0.5 0.2M284.2 506.7l0.6 1.2M294.5 481.5l0.9 0.9M333.2 505.7l-0.2 0.1M316.3 474.1l-1.3 0.9M348.6 531l-0.6 0.4M321.6 505.2l-0.1 0.3M324.2 484.8l0.2 1.2M289 483.6l0.9 0.7M334.7 530.9l1 0.3M285.8 495.1l-0.4 0.2M295.4 507.9l0.1 0.2M291.1 529.5l0.8 0.3M321.3 501.5h0M309.5 519.6l0.4 0.3M342.5 538.3l-1.5 0.1M311.6 496.6l-0.1 0.8M335.8 512.9l0.9 1.3M320.4 540.1l1.5 0.3M286.2 475.1l1.4 0.8" stroke="#6a1a34" stroke-width="1.5" stroke-linecap="round"/>
<path d="M290.5 515.5l0.1 0.4M286.5 516.9l-0.5 0.1M286.4 480.3l-0.3 0.9M330.1 474.1l1.6 0.5M319.6 498.7l0.4 0.4M291.7 485l2 0.7M310.6 525.1l-0 0.7M324.3 539.6l-0.4 0.7M294.6 517l0.2 0.9M323.2 505.7l2 0.3M318.7 478.9l0.4 1.2M295 544.9l-0.5 1.5M337.1 504.6l-0.4 0.1M285 477l-0.3 0.3M320.5 470.3l-0.1 0.8M291.5 522.5l1.2 0.4M331 462.4l-1 0.8M340.6 541.3l-0.1 1M294.7 537.5l-0.5 0.5M289.9 504.7l0.6 2M338.3 538.8l-0.3 1.4M294.6 458.5l-1.2 0.9M318.3 507.5l-0.3 0.5M304.5 506.3l-0.5 0.1" stroke="#3a3294" stroke-width="1" stroke-linecap="round"/>
<path d="M295.8 517l-1.2 0.4M312.8 456.2l0.9 0.8M325.4 536l-1.3 0.6M326.6 463l-0.9 0.4M296 461.6l-0.2 2M325.9 533.7l-0.7 0.4M310.9 460.9l1.2 1.5M290.5 495.7l-1.2 0.6M307 457.2l0.3 0.4M327.2 490l0.8 1M293.1 467.2l-0.5 0.1M333.1 539.9l0.1 0.8M308.6 507.9l0.3 0.5M343.7 514.6l-1.2 0.2M341.7 534l0.2 1.5M322.9 502.7l0.2 1.2M328.8 505l-0.4 1.6M328 516.9l-1.1 0.4M285.4 467l-0.3 1.9M328.4 500.8l0.3 1.2M322.4 501.5l-0.7 0.3M308.7 532.9l-0.1 0.2M296.3 478.9l0.7 0.8" stroke="#120812" stroke-width="1" stroke-linecap="round"/>
<path d="M321.8 537.4l0.4 1.2M287.4 483.7l-1.2 1.2M328.3 504.1l1 1.4M311.1 489.1l0 1.7M286.8 493.5l-0 0.5M312.1 515.8l0.2 0M288.1 520.1l-1.2 1.1M323.9 532.1l-0.7 0.4M318 473.9l0.7 1.7M292 502.9l0.5 1.5M298.7 468.9l-1.3 0.4M306.1 497l1.8 0.6M339.9 512.5l2 0.6M314.7 490.2l0.6 0.7" stroke="#6a1a34" stroke-width="1" stroke-linecap="round"/>
<path d="M297.3 536l0.4 0.3M339 537.9l0.5 0.7M339.8 521.9h0M326.6 542.8l-0.6 0.5M347.3 529.3l-0.2 0.7M303.1 471l0.1 0M301.5 533.2l0 1.1M287.2 535.1l-0 0.3" stroke="#4438a8" stroke-width="2" stroke-linecap="round"/>
<path d="M347 537.3l-0.4 0.1M350.8 532.7l-0.6 0.3M310.9 524.6l-1.2 0.1M316.3 484l0 0.1M343.4 523.1l0.9 0M345.9 543.1l-0.7 0.4M308 517.7l0.2 1M309.1 506.9l0.2 0.2M324.3 544.3l-0.2 0.3M309 545.9l-0.9 0.5M332.5 528.2l0.1 0.4M310 462.9l1 0.4" stroke="#3a3294" stroke-width="2" stroke-linecap="round"/>
<path d="M334.2 498.9l-0.3 0.3M304.1 500.3l-1.3 0.8M303.5 535.3l-0 0.3M297.3 530.8h0M335.1 544.7h0M326.4 474.2l-1.4 0.8M296.5 540.1l0.2 0.5M312.8 470.4h0M307.6 466l-0.8 1.1M316.7 467.2l0.1 0.4M306.7 523h0M304.3 530.6l1.4 0.1M326.6 475.5l-0.1 0.3M324.9 473.6l0.6 0.2M326.6 497.9l1.5 0.3M301 502.1l-0.2 0.1M310.2 458.6h0M325.4 495.4l0.6 0.6M291.5 514.8l0.5 1.6M312.2 481l-0.3 0.4M304.5 494.8l0.7 0.1M330.3 537.2h0M292.4 480.5l0.2 0.8M328.4 483.7l0.3 0M288.5 528.4l0 0.7M294.8 466.7l0.6 0.1M294.4 534.2l0.2 0.9M298.6 515.4l0.4 0.3M287 479.4l-0 0.1M321.5 541.8l0 0.3M288 530.2l1.2 0.8M302 485.2l1.6 0.5M323.4 475.8l-1.4 0.6M338.5 506.7l-0.2 0.3M285.7 527.1l-0 0.2M330.5 509.6l-0.2 1.2M324.1 467.8l0.3 1.1M309.9 530.1l0.7 0.4M326.5 538.8h0M291 530.7l1.4 0.5M299.9 516.8h0M331.5 508.9l-0.1 0.4M299.5 475.4l-0.5 0.4M301.2 488.6l-0.4 0.2M313.5 494.8l-0.1 0.2" stroke="#120812" stroke-width="1.5" stroke-linecap="round"/>
<path d="M313.2 515.7l0.3 1.3M304.4 514.7l-0.7 1M323.9 472.4l-0.6 1.2M285.5 507.3l-0.2 0.4M299.8 532l-0.5 0.7M293.6 484l-0.2 0.5M330.6 501l-0.9 0.3M299.1 478.6l1 0M301.7 489.6l-1.1 0.7M314.9 509.6h0M323.9 532.6l-0.7 0.2M322.8 513.5l0 0.1M321.3 494.8l-0.5 0.2M297.2 530.4l0 0.2M331.9 544l0.2 0.2M294.4 533.3l0.3 0.3M323.5 542.5l-0.2 0.3M314 520.6l-0.1 0.2M325.2 532.2l-0 0.1M349.4 530.5l1.4 0.9M333.6 504.1l-0.7 0.5M313.5 535.1l0.2 0.1M348.4 537l0.7 0.4M307.8 511.6l-0.1 0.1M294.8 531.8l-0.1 0.1M345.8 541.8l0.1 0M321.9 542.9l0.4 1M284.7 497.2l-0.1 0.2M291.7 545.4l-0 0.9M324.9 468.4l0.5 0.4M308 525.5l-0.2 0M316.4 542l-1 0.3M345 518.9l0.2 0.3M310.4 506.9l0.8 1M319 475.4l-0 0.1M287.5 471.3l-0.2 0.3M297.4 528.1h0M323.3 477.5l0 0.1M299.7 523.9l-0.2 0M324.9 510.8h0M317.4 493.8l0.1 0.3M305.8 528.5h0M286.8 479.5l-0 0.1" stroke="#3a3294" stroke-width="1.5" stroke-linecap="round"/>
<path d="M349.9 538.4l0.1 0.2M309.8 504.7l-0.8 0M283.8 480.2l1.1 0.8M304.9 503.2l-0.2 1.1M328.5 458.1l0.8 1.4M309.1 500.9l0.1 0.1M306.7 485.8l-0.1 0.3M333.8 525.7l-0.2 0.3M319 480.3l-0.4 0.9M318.7 526.6l-0.2 0.7M290.2 481.8l0.1 0.1M298.8 497.5l-0.1 1.3M338.2 507.7l-0.2 0M310.3 541.3l-0.3 0M297.5 518.9l-0 0.2M319.1 489.5l-0.2 1M340.1 541.8l-0.7 0.4M306.8 481.5l-1 0.2M312.9 520.3l0.6 1.1M305.7 458.4l1.4 0.9M314.8 498.9l0 1.4M294.4 502l1 1.3M333.5 503.9l-0.2 0.4M305.7 474.4h0M287.2 513.6l-1 0.1M289.1 510.6l-0.1 0.9M315.9 503.7l0.2 0.8M337.5 545.2l-0.3 0.2M329 472.7l0 0.7M299.8 545.3l-0.1 0M302.6 478.5l-1 0.8M304.6 497.3l-0.7 0.1M289.1 480.2l-0.1 0.7M304.3 491.1l1.3 0.2M330.7 536.2l-1.4 0M333.8 500.9l-0.9 1.3M308.7 525.5l-0.5 1.2" stroke="#4438a8" stroke-width="1.5" stroke-linecap="round"/>
<path d="M299.6 485.2l0.6 1.6M296.5 546.5l-0.7 0.1M309.3 492.9l0.5 0.5M309.3 467.8l1.2 0.5M312.1 531.2l-0.1 0.9M335.3 509.5l-0.6 1.3M318.7 501.9l-0.9 1.9M328.1 481.5l0 0.5M327.6 506.7l-0 0.3M314.8 476.4l-1.3 1.3M291 506.9l-1.1 0.9M344.9 523.2l1.2 0.9M326.4 515.1l-0.3 0.7M306.9 474.3l0.8 0.3M303.7 517.3l-1 0.9M300 477.8l-0.5 0.9M324.1 501.9l0.9 1.9M342.5 520.4l1.7 1.1M301.6 544.3l0 0.4M325.1 496.9l1.1 0.9M330.9 537.2l0.1 0.2M317.7 494.6l1.9 0.6" stroke="#7a1e3a" stroke-width="1" stroke-linecap="round"/>
<path d="M286.5 469.1l0.9 0.7M303.6 542l-2 0.3M296.3 489.8l1.4 0.7M293.2 478l-0.7 0.6M300 493.2l2 0.8M293.6 476.3l-0.5 0.1M307.9 511l0.1 0.5M327.4 497l0.4 0M326.7 540.4l1.1 1.3M285 535.5l-0.5 1.3M322.6 461.1l-1.5 0.4M332.4 499.1l-0.5 2.1M339 544.4l-0.5 0.5M300.6 471.2l-0.2 0.4M338.6 532.1l-0.3 0.2M288.6 530.7l-0.5 0.8M303.7 461.6l0.5 0.8M322.6 529.4l-0.7 0.3M307.5 526.3l-0.9 1M320.5 509.1l0.5 0.6M325.4 536.4l1.3 0.8" stroke="#4438a8" stroke-width="1" stroke-linecap="round"/>
<path d="M286 522.2l0.7 0.2M320.2 506.5h0M319 518.2h0M339.7 518.7l-0.6 0.2M334.6 516.4l0.1 0M284.7 468.9l0.3 0.8M311.1 501.1l0.7 0M320.2 457.4l0.5 0.2M283.7 491l0.7 0.7" stroke="#120812" stroke-width="2" stroke-linecap="round"/>
<path d="M324.8 458.2L330.4 458.2L327.6 463Z" fill="#f7ec18"/>
<path d="M366.4 500.6L372 500.6L369.2 505.4Z" fill="#f7ec18"/>
<path d="M328.5 524.8L334.1 524.8L331.3 529.6Z" fill="#f7ec18"/>
<path d="M316.4 528.2L322 528.2L319.2 533Z" fill="#f7ec18"/>
</g>
<clipPath id="cd2"><rect x="187.2" y="552.7" width="90.2" height="89.9"/></clipPath>
<g clip-path="url(#cd2)">
<rect x="187.2" y="552.7" width="90.2" height="89.9" fill="#28288a"/>
<g filter="url(#bl3)">
<polygon points="238,548 282,548 282,648 214,648 216,625 226,600 230,585 236,570" fill="#0c0a24"/>
<polygon points="182,548 240,548 230,560 182,558" fill="#16164a"/>
</g>
<line x1="188" y1="560" x2="215" y2="574" stroke="#12103c" stroke-width="2.0" stroke-linecap="round"/>
<line x1="186" y1="598" x2="222" y2="614" stroke="#12103c" stroke-width="2.4" stroke-linecap="round"/>
<line x1="186" y1="612" x2="210" y2="628" stroke="#12103c" stroke-width="2.0" stroke-linecap="round"/>
<line x1="196" y1="580" x2="226" y2="596" stroke="#12103c" stroke-width="1.5" stroke-linecap="round"/>
<line x1="200" y1="556" x2="230" y2="566" stroke="#12103c" stroke-width="1.2" stroke-linecap="round"/>
<line x1="188" y1="630" x2="205" y2="640" stroke="#12103c" stroke-width="1.6" stroke-linecap="round"/>
<path d="M200.3 607.9l0.5 0.3M202.7 580.9l0.1 0.2M200 595.7l0.1 0.2M207.8 560.8l-0.3 0.5M233.3 569.8l0.4 0.4M201.3 553.8l-0.3 0.4M213.9 596.7l0.2 0.6M204.1 553l-0.8 0.3M190.5 553.1l0.6 0.5M236.1 565.3l0.1 0.2M206 602l-0.3 0.3M227 586.5l-0.3 0.5M188.5 591.8l-0.6 0.4M201.3 577.8l-0.2 0.8M194 595.8l0 0.1M208.6 630.6l-0.3 0.4M228.4 554.1l0.2 0.7M189.2 638.5l0.3 0.8M206.1 590.5l-0.3 0.3M188.8 574l-0.2 0.6M199.5 635.8l0.6 0.1M225.8 590.2l-0.1 0.3M213.9 622.9l-0.2 0.1M219.8 580.6l0.5 0.1M216.6 586.8l0.4 0.6M202.6 618.5l0.3 0.4M191.5 596l0.2 0.2M194.6 582l-0.3 0.7M202.7 619.2l-0.3 0M208 556.4l0.7 0.3M214.2 617.9l0.1 0.6M204.3 555.2l0.5 0.3M196.5 615.7l0.2 0M210.2 562.9l0.5 0.8M202.3 597.6l-0.4 0.3M207.1 633.6l-0.1 0.1M228.8 588.4l-0.6 0.2M188.9 628.6l-0.4 0.5M218.9 561.3l0.1 0.1M195 620.9l0.5 0.3M211.4 571.2l-0.5 0.5M190.4 584.6l-0.7 0.4M206.5 625.6l0.8 0M198.7 566.5l0.6 0.4M196.9 583.8l0.7 0.2M209.7 595.6l-0.1 0M210.6 574.9l-0.8 0.3M195.8 635.1l0.4 0.6M223.7 603.4l0.2 0.1M227.8 562.9l-0.3 0.1M205.7 568.6l0.5 0M188.3 607.9l-0 0.2M198.4 615.8l-0.3 0M212.7 562.1l-0.2 0.3M191.5 615.1l0.2 0.8M191.6 611.8l-0.2 0M200.1 634.5l0.2 0.2M227.8 587.9l-0 0.4M212.3 557.4l-0.9 0.3M222.7 605.4l-0.1 0.4M205.3 622.6l-0.1 0.3M213.3 594l-0.7 0.1M224.6 560.5l-0.5 0.3M205.7 585.3l-0.2 0.2M212.8 578.5l-0.6 0.3M191.3 607.6l-0.2 0.7M223.1 569.4l-0.7 0.1M206.7 557.1l-0.3 0.2M218.5 593.6l0.6 0.5M190.3 624.4l-0.4 0.1M226.2 589.8l-0.4 0.5M205.1 593.4l0.6 0M217.1 592.9l0 0.9M204.5 571.4l0.2 0.3M214.6 634l-0.4 0.3M211.1 554.1l0.3 0.1M190.1 583.3l0.7 0.2M199.5 641.5l-0.3 0.1M200.9 589.8l0.1 0.4M203 640.7l-0.3 0.5M217.6 589.7l0.1 0.4M208.5 608l0.1 0.3M199 562.1l0.4 0.5M224.7 555.3l0 0.3M217.5 558.2l-0.2 0.2M215.9 564.3l-0.4 0.2M196.4 594.7l-0.2 0.4M189 629.1l-0.3 0M197.3 589.7l0.5 0.2M191.2 628.2l0.8 0.2M207 570.5l0.4 0.2M209.5 566.2l-0.1 0.1M223.2 573l-0.3 0.8M215.1 614.8l-0.9 0M189 587.8l-0.1 0.1M214.6 583.7l0.6 0.4M212.8 559.1l0.4 0.6" stroke="#161650" stroke-width="1" stroke-linecap="round"/>
<path d="M213.6 591.2l-0 0.1M207.7 564.1l-0.1 0.3M230.4 558.8l-0.1 0.1M202.8 559.1l-0.2 0.3M190 598.2h0M196.7 619.7l0.2 0.2M196.8 635.6h0M205.9 593.4l0.4 0.1M208.5 574.5l0.1 0M213.2 573.5l0 0.1M222.4 582.9l0 0.1M199.6 555.1h0M195.7 638.5l0 0.2M192.3 607.3l-0.1 0.3M190.9 641.3h0M197.2 583.3l-0.3 0.3M214.3 621.5l-0 0.2M232.9 576.8l0.3 0.4M232.1 561.2l-0.1 0.2M209.7 560.8l-0.1 0.2M194.6 562h0M225.1 555.1h0M221.4 577.3l-0 0.1M229.7 565.1l-0.2 0M210.1 557.3h0M207.6 558.5l0.2 0.2M205.7 640.8h0M217.6 586.7h0M213.4 570.8l-0.3 0.1M231.1 569.8l-0.2 0.1M194.4 638.3l0.3 0.3M189 568.9h0M200.9 557.9l0.1 0.2M227.2 588.6l-0.3 0.3M214.6 638.6h0M187.3 567.7l-0 0.2M228.4 552.7l0.1 0.4M216.7 601.2l0.2 0M196.7 594.2l0.2 0M187.6 611.5l0.2 0.1M223.8 599.9l-0.1 0.2M212 582l0.2 0M190.1 563.7h0M216.5 566.6h0M208.1 592.6l-0.2 0M192.7 583.3l-0.1 0.1M224.5 587.6l0.1 0.1M199.5 623h0M232.1 564.6h0M211.4 639.7l0.3 0.1M189.1 575.4l-0.1 0.1M214.2 588.6l-0.1 0M207.8 575.9l0 0.2M209.2 619.1l0.1 0M208.3 640.6l0.2 0.4M199.7 590.5l0 0.1M205.4 566.9l0.1 0.2M209.1 569.3l0.1 0.1M210.5 588.8l0.2 0.3M202.7 640.8h0M207 608.3l-0.4 0.3M195.9 558.1l-0 0.1M205.6 577.9l0.3 0.1M224.7 599.1l-0.5 0.1M189.5 588l-0.1 0.2M198.9 640.2l0 0.1M202.3 592.9l-0.1 0.1M213.7 580.3h0M225.9 561.8h0M189.2 625.3l0.2 0.1M196.3 553.1l-0.1 0.5M210 595.3l0.3 0.3M189 624.1l-0.3 0.1M190.9 561.8l0.2 0M207.5 560.9h0M222.9 580.9l-0.3 0.1M189.1 640.9l-0 0.2M212.6 572.5l0 0.1M197.7 574.8l-0.4 0.2M212.1 568.1l-0.5 0.1M192.3 565.5l-0.1 0M214.1 605.3l-0.3 0M192.5 560.2l-0.3 0.1M210.6 618.2h0M214.9 561.6h0M192.7 578.5l0.2 0.1M205.3 629.7l-0.2 0.4M215.1 602.6l-0.2 0.1M220.6 559.9h0M213.2 639.9h0M214.1 595.3l0 0.2M198.1 612.5l-0 0.3M208.2 552.8h0M187.5 585.6l0.2 0.2M214.2 637.9l0.1 0.1M187.5 613.4l-0 0.1M217.7 620.5l-0.5 0.1M211.4 631.7l-0.3 0M195 593.6l-0.2 0.1M187.3 618.4l-0.2 0.2" stroke="#161650" stroke-width="1.5" stroke-linecap="round"/>
<path d="M225.6 588.4l0.9 0.2M224.5 574.6l0.2 0M210.3 589.1l-0.2 0.3M194.7 615l-0.6 0.2M211.9 575.9l0.1 0.4M201.9 626.2l-0.5 0.6M209.8 615.5l0.2 0.6M204.5 596.8l0.1 0.2M199.6 611.2l0.3 0M226.9 577.8l0.9 0M191.6 579.4l-0.4 0.4M226.1 565l0.3 0.3M198.3 602.7l0.3 0.5M201.7 554.4l0.6 0.3M198.8 575.5l-0.4 0M192.6 639.9l-0.7 0.1M211 587.6l0.3 0.4M193.3 591.4l0.2 0.3M215.5 585.8l-0.6 0.3M193.3 613.9l-0.1 0.3M224.5 554.5l0.1 0.1M207 577.6l0.3 0.5M215.2 614.1l0.1 0.6M195.4 620.3l-0.5 0.5M229.2 564l0.1 0.5M219.8 582.7l-1 0M193.2 630.4l0.7 0.4M201.3 618.8l-0.2 0.1M212.1 628.6h0M207.8 620.9l-0.4 0.2M214.7 614.5l-0.1 0.1M205 601.3l0.5 0.6M204.2 581.2l-0.1 0.4M223.3 601l0.1 0.8M212.4 595.9l-0.8 0.3M197.8 637.6l0.5 0M199.5 596.8l0.4 0.3M194.5 611.5l0.2 0.5M206.2 566.7l-0.2 0.5M226.6 596.6l0.3 0.7M193.4 632.4l-0.3 0.2M202.6 582.4l0.5 0.4M201.6 571.7l0.5 0.1M191.8 586.6l-0.5 0M224 592.4l0 0.2M210.5 572.2l0.8 0.1M191.3 575.9l0.4 0.1M188.8 632.2l0 0.7M219 575.1l0.2 0.1M220.7 556.4l-0.3 0.5M188.5 621.4l0.2 0.2" stroke="#3434a8" stroke-width="1" stroke-linecap="round"/>
<path d="M208.8 579.1l-0.4 0.3M197.7 622.4l-0.1 0.2M196.2 614.7l-0.1 0.7M206.3 637.9l-0 0.1M196 634.4l0.2 0.1M214.3 594.6l-0.1 0.3M214.8 568.6l-0.5 0.5M190.9 592.7l-0.2 0.2M196.8 594.6l0.1 0.2M198 607.6l0.3 0.6M191.3 637.6l0.3 0.6M201.6 614.5l-0.2 0.3M197.8 597.8l0.3 0.3M210.6 597.4l0.1 0.7M204.8 584.4l-0.1 0.2M193 585.6l0.7 0M192.1 617.5l-0.3 0.3M213.4 636.7l-0.8 0.2M223.1 584.7l0.2 0.3M233.9 557.7l-0.1 0.1M193.2 631.7l-0.9 0.1M208.6 584.6l-0.5 0.4M223.3 563.6l0.4 0M227.2 563.8l0 0.3M207.6 570.1l-0.4 0.2M193.8 557.3l-0.2 0.1M212.7 619.7l0.1 0.1M226.7 552.7l-0.8 0.1M199.9 623.8l-0.3 0M201.6 569.6l-0.3 0.6M228.6 553.6l-0.7 0.4M223.5 593.2l0 0.3M203.5 615.9l0.2 0.2M210.4 592.4l-0.2 0.4M220.1 575l-0.2 0.4M197.6 603.7l0.1 0.7M194.9 586.9l0.2 0.6M222.4 576l-0.3 0.3M225.4 566l0.2 0.3M230.1 570.8l-0.8 0.4M214.3 572.7l0.2 0.4M197.3 599l0.5 0.8M195.6 568.2l0.3 0.3M195.3 575.1l-0.7 0.4M193.7 636.9l0.2 0.2M193 604.4l0.3 0.1M203.1 559.5l0.4 0.3M225.8 597.6l0.5 0.4M211.4 591.4l-0.1 0.7M201.4 553.2l-0.1 0.5M227.9 585.5l0.2 0.8M204.1 626.6l-0.3 0.6M212.8 564.1l-0.8 0.1M220.7 598.8l0.4 0.6M227.8 590.7l0.1 0.8" stroke="#4c4cc8" stroke-width="1" stroke-linecap="round"/>
<path d="M204.2 622.9l-0.1 0.3M218.2 564.7l-0.3 0.3M222.4 592.3h0M203.9 577.4l-0.4 0.2M213.2 600.6l-0 0.3M209 621.1l-0 0.3M217.7 560.7h0M228 590.2l0.2 0.3M197 596.7h0M227 589.5h0M197.6 586.2l-0.1 0.1M204.9 633.3l0.1 0.4M205.6 619.5l-0.1 0M200 589.5l-0.1 0.1M201.9 567.5l-0.4 0M198.7 573.5l0.2 0.3M222.6 594.9l-0 0.1M200.3 600.3l-0.2 0M190.7 565.8l-0.1 0.2M199.5 563.3l-0.1 0.2M218.7 600.4l0.3 0.2M216.3 559.8l-0.1 0.1M225.8 574.3h0M189.4 642.5l-0.1 0.2M225 571.2l-0.2 0.2M214.6 570.7l0.2 0.3M206.7 605.9l0.3 0.2M236 565.8l-0.1 0.1M203.2 564.2h0M231.4 578.7l0.1 0.1M210.2 623.4h0M218.9 555.9l-0.3 0.1M222.8 571.1l-0.3 0.4M207 617l0.5 0.2M192.3 626.5l0.2 0.4M189.3 586.6l-0.1 0M188.5 567.2l0.1 0.2M216.8 568.5l0.1 0M194.5 581.3l-0.2 0.1M208.2 635.2h0M210 616.7l-0.1 0.3M198.8 557.2l-0.2 0.1M205.8 583.5l0.3 0.2M218.1 603.9l-0.1 0.4M231.3 564.8l-0.2 0M190.7 625.9h0M188.9 605.7l-0.2 0.2M190.2 620l0.1 0.2M224.1 600.8l-0.2 0.4M189.9 592l-0.1 0.5M198.7 611.7l0.2 0.1M216.7 590l0 0.4" stroke="#3434a8" stroke-width="1.5" stroke-linecap="round"/>
<path d="M212 622.6l-0.1 0.2M199.5 616.5l-0.1 0M190.8 612.3h0M208.6 590.3l0.1 0.3M188.1 623.2l-0.4 0M189.7 562.5h0M204 587.1l-0.2 0M221.6 561l0.2 0.4M196.6 617.6l-0.2 0.1M220.8 554l-0.1 0.2M193.2 560l0.3 0.4M212.3 631.2l0 0.2M217.4 588.6l0.1 0M188.2 619.7l0 0.2M188.1 594.4l-0.1 0.2M201 617.3l-0.1 0.1M217.1 606.5h0M218.9 593.3l-0.4 0.2M210.7 635.8l0.2 0.1M219.2 585.3h0M189.3 580.2l-0.4 0.1M209.5 560.3l0 0.1M233.2 558.4l0.3 0M193.3 608.9h0M215.4 592l0.1 0.4M202.5 592h0M196 604.8l0.1 0M229.3 571.7l-0.2 0M202.6 594.6h0M210.9 588.7l0.1 0.3M190.4 609.9l-0.4 0M211.9 597.5l-0 0.1M222.3 571.7l-0.3 0M214.9 569l0.2 0.4M216.9 581.3l-0 0.1M227.9 559.4l-0.1 0.4M190.1 634.7l-0 0.1M189.5 631.1l-0.3 0.3M195.3 577.7l-0.1 0.1M219.5 605.4l-0.1 0.1M211.3 581h0M221.6 556.1l0 0.4M204.4 603.4h0M190 625.1l0.1 0.1M236 552.7h0M207.2 577.9l0.1 0.1M188.8 626.2h0M211.9 613.8l-0.2 0.1M187.3 615.8l0.1 0.1M232.6 561.3l0.2 0.1M196.3 623.1h0M213.6 575.5h0M199.9 616.6l-0.1 0.2M195.2 591.2l0.1 0.2" stroke="#4040b8" stroke-width="1.5" stroke-linecap="round"/>
<path d="M201.2 642.2l-0.7 0.7M188.3 600.9l-0.4 0.1M208.1 638.4l0.3 0.4M221.8 590.4l-0.5 0.6M225.6 562.8l-0.4 0.9M222.3 553.4l-0.3 0.2M216.1 579.8l0 0.7M189.1 580.5l-0.2 0.5M210.9 581.4l0 0.2M196.6 633.6l-0.8 0.6M191.2 562.9l-0 0.3M196.6 607.2l-0.5 0M189.8 613.7l0.3 0.3M193.4 567.3l-0 0.3M209.7 612.3l0.6 0M204.5 556.7l0.1 0M192.8 633.6l-0.1 0.4M188 554.4l-0.1 0.4M205.1 602l-0.6 0.4M206.8 564.6l0.7 0.2M216.6 617.6l0.7 0.1M212.5 575.1l0.7 0.3M199.4 589.1l-0.5 0.1M214.8 613.5l-0.7 0.3M209 570.3l0.5 0.7M206.5 605.6l0.3 0.6M217.4 583.1l-0.5 0.4M215 584.3l0.1 0.3M228.8 567.6l0.8 0.5M200.6 603.9l-0.3 0.1M204.5 618.3l-0.7 0.2M195.5 631.3l-0.7 0.2M229.6 555.8l0.4 0.5M192.1 624.8l0 0.4M216.8 573.1l-0.1 0.1M226.9 590.2l0.8 0.1M195.5 589l-0.8 0.1M202.8 553.3l-0.9 0.1M212.2 560.6l-0.6 0.8M207.5 602.9l-0.2 0.1M233.5 574.9l0.3 0.3M205.1 591.9l-0.2 0M191.3 594.5l0.1 0M229.9 562.9l0.4 0.8M218.8 608.3l0.3 0.1M219.4 552.6l0.1 0.6M234.8 559.7l0.3 0.1M208.6 639l0.5 0.6" stroke="#4040b8" stroke-width="1" stroke-linecap="round"/>
<path d="M194.8 629.9l0.2 0.3M218.5 608.4h0M201.6 607.7l0 0.1M195.6 588.7h0M189.2 618.9l0.1 0.1M199.2 569.4l0.2 0.4M221.4 564.1l-0.1 0M221.7 559.2l-0.4 0.1M210.8 599l0 0.3M227.9 587.1l0.2 0M198.9 583.2l0 0.2M227.8 578.2h0M219.6 592.2l0.1 0.1M226.6 586.3l-0.1 0M217.1 586.5l-0.2 0.4M215.7 590.8l-0 0.1M202.2 638.9l-0.1 0.1M227.2 561.6l0.1 0.3M193.4 584.3l-0.3 0.2M212 592.6l-0.1 0.1M187.8 580.9h0M221 592.8l0.2 0.2M219.4 581.7l0.1 0.2M215.9 609.4l0.2 0.1M223.7 590.4l0.3 0.4M206.8 586.5l0 0.2M200.7 563.1h0M191.8 559.4l0 0.1M216 560l-0 0.1M200.3 615.7h0M224.6 591.9h0M201.2 577.7l-0.2 0.4M208.1 617.7h0M201.4 558l-0.3 0M201.8 595.3l-0.4 0.1M187.2 638.6h0M220 597.2l-0.1 0.1M200.7 572.8h0M211.8 590l0.1 0.1M204.4 620.4l0 0.3M224.9 558l-0.2 0.1M191 611.9l0.1 0.1M194.1 579.8l0.1 0M209.4 641.4l-0.4 0.3M189.3 576.8l-0.1 0.2M200.5 591.7l-0.2 0.2M190.1 638.9h0M212.5 577.3l-0.3 0.1M201.6 572.6l-0.1 0.1M207.1 585.1h0M203.2 622.9l-0.1 0.4M219.2 603.5h0M220.1 612.2l-0.1 0.3M234.2 553.1h0" stroke="#4c4cc8" stroke-width="1.5" stroke-linecap="round"/>
<path d="M217.9 580.4h0M199.6 624.2h0M205.8 570.8h0M216.4 572.6h0" stroke="#3434a8" stroke-width="2" stroke-linecap="round"/>
<path d="M214.4 598.8h0M193.2 626.4h0" stroke="#4040b8" stroke-width="2" stroke-linecap="round"/>
<path d="M235.7 569.3h0M214.8 629h0" stroke="#161650" stroke-width="2" stroke-linecap="round"/>
<path d="M229.8 554.7h0" stroke="#4c4cc8" stroke-width="2" stroke-linecap="round"/>
<path d="M259.6 615.9l-0 0.1M241.2 583l0 0.2M272.1 569.6l-0 0.3M246.2 611.9l-0.1 0.2M277.2 571.8h0M246.9 598.1l-0.2 0.2M267 583.7h0M268.8 600.5l-0.1 0.1M239.9 570.7h0M228.7 591l0.2 0.1M242.3 562.6l0.1 0.1M254.2 574.3h0M272.5 578.5h0M235.9 618.4h0M247 624.4l0.2 0.2M252.3 639.3h0M249.3 640.7l0 0.1M233.2 602.5l0.1 0.2M268.3 570.4h0M258.2 569.4l-0.1 0.2M251.5 638.6h0M234.8 625.9l0 0.1M273.8 613.9l-0.1 0.1M272.3 566.5l-0.1 0.1M263.7 586.5l0 0.1M276.7 575.5h0" stroke="#26267a" stroke-width="1.5" stroke-linecap="round"/>
<path d="M276.8 572l0.1 0.7M273.4 588.2l0.4 0.4M257.1 631.1h0M248.9 559.7l-0.3 0.1M238.3 555.8l-0.5 0.1M271.5 639.8l0.2 0.7M234.3 590l-0.1 0.3M269 638.9l0 0.2M239.9 629.6l0.5 0M248.8 562.6l0.2 0.3M231.2 638.1l0.6 0.3M267 638.3l-0.2 0.3M259.5 584.9l0.3 0.1M251.5 606.3l-0.5 0.2M254.5 574.6h0M274.2 571.8l-0.7 0.4M265.5 630.2l-0.1 0.2M242.4 561.3l0.1 0.1M247.4 622l-0.2 0.8M257.9 556.1l-0 0.6M231.4 581.9l0.1 0M249.6 612.4h0M231.2 582.9l-0.4 0.5M230 599.6l0.5 0.2M229.4 591.7l0.6 0.4M247.2 557.7l0.1 0.5M270.3 624.1l-0.3 0.5M263.5 641.2l0.3 0.4M273.7 613.5l-0.3 0.5M272.2 640.5l0.2 0.1M243.4 624.5l0 0.3M265.9 556.8l-0.3 0.5M234.7 631.8l-0.3 0.7M261 596.2l-0 0.1M265.6 601l0.1 0.1M254.3 604.3l0.4 0.3M265.4 578.3l-0.2 0M244.3 634.7l0.4 0M263.1 579.4l0.1 0.4M241.5 623.1l-0.7 0.2M247 635l0.5 0.3M256.2 626.1l0.1 0.7M248 618.6l0.4 0.1M262.6 616.7l0.3 0.6M240.2 639.9l0.3 0.6M245.9 554.5l0.3 0.6M260.8 615.2l-0.4 0.1M257.6 605.5l0.5 0.2M227.6 619.6l-0.3 0M247.8 564.3l-0.1 0.3M270.6 593.1l-0.2 0.4M256.5 622.1l-0.3 0.2M222.4 610.9l0.3 0.1M254.4 571.5h0M256.8 554.9l0.7 0M246 584.3l-0.7 0M256.7 585.1l-0.1 0.2M268.4 613.6h0M244 584.7l0.1 0.5M262 603.9l0.2 0.1M269.6 630.9l-0.1 0.3M248.2 582.9l-0.1 0.7M221.1 629.7l-0.7 0.4M253.2 638.1h0" stroke="#4040b4" stroke-width="1" stroke-linecap="round"/>
<path d="M269.3 619.8l-0.5 0.4M240.6 569.7l0.1 0.3M245.3 552.6l-0 0.6M263.5 592.5l-0.1 0.4M263.4 626.9l-0 0.1M269.3 558.9l-0 0.4M257.7 606.7l-0.4 0.1M243.1 574l0.3 0M263 636.7l-0.2 0.7M243.8 570.2l0 0.1M269.7 592.4l0.3 0.5M254 561.1l-0.2 0.4M241.6 553.8l0 0.3M272.9 579.4l-0.1 0.2M214.6 640.8l0.4 0.2M258.6 581.6l0.8 0M254.2 593l-0.8 0M254.2 581.3l0 0.2M253.9 596.5l0.2 0.2M237.3 565.5l0.1 0.1M248.3 573.9l-0.7 0.1M271 572.4l0.1 0M233.7 617.9l0.2 0.3M257.5 601.2l-0.5 0M238.5 593.8l-0.3 0.3M239.4 599.7l-0.3 0.5M222.9 634.4l-0 0.1M244 589.2l0.3 0.1M238.7 560.3l-0.2 0.6M217.6 621l0.4 0.3M233.9 584.1l-0 0.1M267.3 576.6l-0.1 0.2M272.9 622l-0.3 0.7M249.4 558.4l0.3 0.3M246.9 638.9l-0.6 0.2M269.4 638.4l0.7 0.3M235.6 575.3l-0.2 0.1M269.1 642.5l0.5 0.1M245.7 554l-0.4 0.4M272.1 637.7l0.2 0.1M250.9 626.4l-0.4 0M235.4 626.7l0.2 0.3M277 624.5l-0.1 0.1M244.2 614.4l-0.2 0.8M237.7 631.2l-0.2 0.6M274.3 612.7l0.3 0.1M230.5 590.1l-0.2 0.3M266.1 641.2h0M259.7 613.4l-0.2 0.6M218.5 622.3l-0.1 0.3M217.8 625.8l-0.3 0M245.5 615.9l0.2 0.6M265.8 625.3l-0 0.3M240.1 582.6l-0.5 0.6" stroke="#3434a0" stroke-width="1" stroke-linecap="round"/>
<path d="M239.8 598l-0.2 0.1M244.8 585.9h0M220.1 620h0M260.6 565.2l0.1 0.2M251.5 619.4h0M225.9 623.5h0M255.8 579.5l-0.2 0.2M269.8 635.6l0 0.1M237.4 581.4l0.1 0.2M225.4 625l0.2 0.1M245.6 632.3l0.2 0.1M244.3 617.6l-0.2 0.2M254.8 588.5l0.2 0.1M269 578.6l0.1 0.3M231.7 592.2l0 0.3M250.1 598.7h0M267.4 589h0M271.7 622.3l-0.1 0M268.5 603.8h0M230.3 632.7l-0.1 0M270.3 635l-0 0.2M267 632.3l-0.2 0M252.5 600.6h0M236.9 639.2l0.1 0.1M238.1 569.3l0.1 0.1M238 575.9l0.1 0.3M275.3 616h0M243 621.4l0.1 0.1" stroke="#4040b4" stroke-width="1.5" stroke-linecap="round"/>
<path d="M250.4 566.3l-0.6 0.3M250.5 585.7l0.2 0.5M258.2 623.1l-0.3 0.2M254.8 579.1l-0.5 0.3M266.5 585.4l0.1 0.1M255.3 629.3h0M251.4 556.4l0.1 0.4M248.6 624.6l0.3 0.1M255.5 587l-0.7 0.1M258 619l0.7 0.1M243.1 610.6l0.6 0M269.5 591l0.3 0.4M244 641.3l0.4 0.1M270.7 622l-0.2 0.1M254.4 573.5h0M261.9 561.4l0.2 0.6M275.9 593l0.5 0.2M226.6 633.1l-0.1 0.3M248.9 590.9l0.6 0.1M239.7 573.3l0.5 0.1M237.8 609.6l0.2 0M261.8 572.9l0.2 0.2M265.5 612.3l0.4 0M247.9 622.1l-0.1 0.3M262.7 610.2l0.2 0.7M230.4 585.1l-0.1 0.1M253.4 578.5l-0.2 0M234.2 621.6l0.2 0.3M262.6 616.9l0.4 0.4M262.3 575.1l0.3 0.3M261.6 639l-0.3 0.6M266.6 559.7l0.6 0.1M242.8 591.7l0.6 0.1M251.3 587.4l-0.2 0.1M273 583.8l-0.1 0.3M234.9 590.3l-0 0.2M215.9 635.3l0.3 0.5M275.8 562.8l0.6 0.4M254.8 559.6l0 0.6M233.5 623.1l-0.1 0M270.7 641.8l-0.2 0.2M277.2 622l0 0.1M228.8 626.1l-0.3 0.6M237.4 583.7l-0.6 0.4M265.9 609l-0.1 0.1M273 579.4l0.5 0.2M221.3 636.3l-0.3 0.2M235.5 602.9l0.4 0.4M276.8 563.6l0.7 0.3M235.9 627.1l-0.6 0.1M268.6 565.7l-0.5 0.6M247.8 635l0.1 0.2M263.3 565.3l0.2 0M254.3 558.7h0M259.6 631.3l-0.5 0.1M228.5 627.4h0M216.7 640.8h0M260.4 611.9l0.5 0.3M271.4 578.6l0.6 0.3M246 578.8l0.2 0.1M217.5 640.6h0M277.5 564.6l-0.2 0.1M232.4 629.7h0M237.4 563.3l-0.2 0.1" stroke="#26267a" stroke-width="1" stroke-linecap="round"/>
<path d="M221.4 639.5h0M258 568.2h0M268.9 632.3h0M228.3 632.4l0 0.1M234.4 640.6l0.1 0.1M276.2 568.6l0.3 0.1M266.2 602.4l-0.1 0.1M262.7 591.2h0M239.9 568.4h0M247.5 571.3h0M260.1 616.7l-0.2 0.1M230.6 606.9h0M261 628.6l-0 0.1M247.6 592.1l0.1 0M267.1 607.9l-0.1 0.2M263.2 560.8l-0.2 0.1M254.6 603.5h0M253.1 633.3l-0.3 0.1M235.3 613.6h0M237.7 558.9l-0.2 0.1M242.2 621.6l-0 0.2M276.4 584.3l-0.1 0.3M231.8 612.5l-0.3 0.1M251.7 626.5l0.1 0.3" stroke="#3434a0" stroke-width="1.5" stroke-linecap="round"/>
<path d="M250.8 604.4L256.4 604.4L253.6 609.2Z" fill="#f7ec18"/>
</g>
<clipPath id="cd3"><rect x="284.0" y="552.7" width="90.2" height="89.9"/></clipPath>
<g clip-path="url(#cd3)">
<rect x="284.0" y="552.7" width="90.2" height="89.9" fill="#080410"/>
<path d="M350.1 570.8l0.3 2.5M284.6 600.8l2.8 0.1M300.6 607.1l-1.9 1.3M306.7 623.1l2.6 0.5M315.5 561.4l-1.6 1M302.6 593.4l-0.2 2.5M328 553.6l1.1 1.1M285.8 634.2l1.1 1.5M317.8 638.7l-0.6 3.3M319.5 579.8l1.5 2.4M345 562.9l-1.7 1.2M301.2 620.5l1.1 1.3M313.9 556.2l-0.7 2.1M323.6 595.6l1.7 0.7M295.4 574.6l-0.2 0.8M291.1 552.8l-0 3.5" stroke="#3030a0" stroke-width="2" stroke-linecap="round"/>
<path d="M288.9 638.7l-1.8 0.8M306.5 641l0.7 0.9M293.5 577.4l0.3 2.2M341.5 616.3l-0.1 0.6M313.1 598.6l2.2 1.4M330.5 588.6l0.8 1.8M297.5 576.6l1.4 1.1M332.5 633.9l0.5 1.3M325.2 619.8l-0.1 1.5M347.1 558.7l0.4 2.7M337.6 595.2l-0.3 0.5M342.9 557.6l-1 0.9M311.5 608.4l-0.4 2.9M290.2 623.9l0.2 1.5M291.1 616.4l2.3 2M339.8 636.3l0.4 0.5M372.8 604.5l-0 3M330.4 608.8l-0.1 2M295.8 559.6l-1.4 1.5M289.8 592.9l-1.6 0.5M305.7 558.8l1.8 0.4M360.5 628.5l1.7 0M308.1 563.5l0.9 0.8M319.6 569.9l1.1 0.1M284.7 618.8l-0.3 2.1M306.7 616.2l-0.2 0.3M300.1 561.2l-0.7 0.7M300.6 595.2l-0.2 0.5M331 553.9l0.4 0.7M360.5 604.9l-0.9 0.6M298.2 620.1l0.1 1.1M343.9 612.8l-1.5 0.6M339.3 598.4l0.6 0.2M286.3 600.2l-0.3 1.1M361.4 557.9l-1.9 0.2M328.1 580.7l1.8 1.8M315.5 619.8l0.4 0.4M321.9 586.5l-0.5 1.6" stroke="#3030a0" stroke-width="2.5" stroke-linecap="round"/>
<path d="M335.6 613l1.6 0.4M325.4 570l0 0.2M290 591.9l-0.3 1.6M313.9 609.3l0.1 0.2M321.6 636.1l-1.1 0.2M321.8 594.2l-2.3 0.8M372 632.2l1.5 0.7M298.3 625.1l0.8 0.1M299.8 610l0.1 0.1M307.1 617.6l1.4 1.2M307.7 598.3l0.7 0.5M365.6 630.3l-0.3 0.5M363.2 578.1l-2.2 0.4M365 573l0.3 0.3M345.4 614.7l1.6 2.1M295.2 595.2l0.2 0.2M346 601.4l1.1 0.9M299 561.5l1.9 0.5M284.3 627.8l-0.6 0.7M302.2 561.1l-0.1 0.2M301.7 579.5l-0.5 0.2M338.1 595.2l-0.5 0.7M358.5 589l-0.8 0.8M302.6 597.4l0.4 1.2M343.2 613.9l-2.1 0.3M370.9 556.2l-1.8 1.1M336.8 594.8l0.1 0.2M347.1 634.4l0.8 1.8M336.7 554.1l-0.2 1.8M303 630.5l0.3 2.6M289.5 597.6l1.1 1.5M370.5 635.4l0.2 2.1M325.7 615.1l-1.7 0.1M304.4 569.6l0 1.1M322.5 620.1l-1.9 0.2" stroke="#3838b0" stroke-width="3" stroke-linecap="round"/>
<path d="M302.9 572.2l-1.2 0.4M286.1 595.3l-0.6 0.6M326.5 612.1l2.1 0.2M298 620l-2.5 0.5M327.8 569l0.4 0.2M286.1 560.9l-0 0.1M319.7 631l-1.3 2M340.6 605.8l-0.5 0.9M286.4 639.3l-1 1.7M296.9 600.8l2.3 0M351.5 561.8l-0.3 0M297.6 561.5l0.8 0.1M290.4 635.1l-0.1 0.9M361 623.5l0.7 0.1M301.2 629.4l-0.1 0.6M332.6 589.3l0.3 0.1M361.9 603.5l-0.4 0.1M328.4 633.3l0.3 0.1M305.1 565l0.9 0.3M371.9 621.9l2.4 0.8M339.9 595.3l0.9 1.1M371.3 564h0M293 631.8l1.2 0.8M331.6 598.5l-0.5 0.5M298.7 626.4l-1 2.3M293.8 635.8l0.5 0.7M351.3 610.6l-1 0.4M304.6 588.1l2.3 0.2M289.4 618.3l2.3 0M330.8 576.9l-0.2 0.6M289.5 638.4l-0.9 1.3M287.6 565.6l1.1 1.7M327.4 581.4l-0 0.2M362.4 596.3l-1.7 1.5M373.5 602.5l-0.3 0.2M325.2 642.1l-0.1 0.5M308.8 605l-0.1 0" stroke="#4a4acc" stroke-width="3" stroke-linecap="round"/>
<path d="M306.8 561.6l0.1 0.1M338.1 616.3l-0 0.1M353 557.4l-0 0.1M293.3 639.1l-0 0.3M370.9 639l-1.7 0.7M291.5 610.6l-1.3 1.2M360 631.7l1.4 0.4M287.2 572.4l-0.3 0.1M289.2 625.9l-1.1 0.4M330.4 581.7l-0.7 2.3M344.4 585.8l-2.4 0.2M331.8 622.4l1.5 0.9M347.3 560.7l1.6 1.8M304.7 625.1l-1.6 0M292.3 587.1l0.8 0.5M334.1 574.7l1.1 0.8M302.9 575.9l-0.2 0.7M289 621.9l0.2 2M286.4 580l1.5 0.5M290.4 593h0M314.3 614.6l-1 0.7M285 602.5h0M310.2 611l1.8 1.1M283.8 590.7l0.8 1.3M319 637.9l0.9 0.6M292.5 639l0.4 0.9M287.3 576.7l-0 1.8M370 578.8l1.6 0.9M317.2 560.7l0.8 1.2M330 608.5l-1.2 1.2" stroke="#4242c0" stroke-width="3" stroke-linecap="round"/>
<path d="M339.4 573.2l1.4 0.1M300.4 585.4h0M301.8 638.9l0.2 0.3M360.5 637.3h0M284.2 573.4l1.1 0.8M303 587.7l-1.2 2.2M324.4 638.4l-0.8 0.9M286.5 563.6l1.9 0.3M373.1 641.7l-0.6 0.9M296.6 620.6l-0.5 0.3M344.7 588.1l0.1 0.3M288.7 555.6l0.2 0.3M296.2 564.7l-0 0.4M302.1 553.4l-0.1 0.1M334.7 603.6l-0.1 0.5M332.4 585.2h0M322.9 578.3l-0.2 0.8M341.4 610.1l0.3 0M321.7 618.5l-1.1 0.1M284.6 579.3l0.8 1M309.9 582.7l0 0.1M326.6 555.9l-2.3 0.9M319.8 601.4l-0.3 2.1M334.3 594.9l-0.8 2M291 641.8l-0.2 0.1M304.5 575.4l-0.1 0.1M302 640.4l-1.3 0.7M305.1 621.8l1.4 0.8M330.7 558.5l1.5 1.9M286.5 562.2l0 0.3M361.8 572.1l-0.6 1.5M329.3 639.9l0.5 1.8M363.9 580l0.3 2.4M340.6 632.2l-0 0.4M339.9 559l0.5 1M303.8 603.4l0.2 0.6M366.7 601.3h0M349.9 609.4l-0.5 2.1" stroke="#3030a0" stroke-width="3" stroke-linecap="round"/>
<path d="M325 560.5l-0 0.4M304.2 642.1l2.6 0.9M327.2 605.3l1.1 2M365.1 574.1l-0.7 1.6M365 573.6l-0.8 2.1M288.9 638.7l-0.7 1.2M373.9 557.5l-0.3 1.6M330.8 613.4l-0.7 0.3M290.3 569.6l0.3 1M311.5 622l-0.7 2.1M294 612.7l-0.9 0.2M300.8 639l-2.8 1.1M284.9 581l2.1 0.4M325.6 565.9l-0.4 0.1M309.4 594.2l0.9 0.6M290.3 624.1l-0.4 0.9M302.4 629.6l2 1.6M363.3 554.1l0.2 1.1M318.5 631.2l0.5 0.6M373.6 606.8l-0.7 0.9M341.6 589l0.9 1M329 638.9l1.4 0.8M311.8 613.6l-2 0.6M337.7 557l2.3 0.2M309.6 617.3l0.8 1.1M316.6 641l2.4 0.2M333.1 638.8l0.3 1.5M373.2 570.6l1.4 1.8M363.7 618.6l-0.4 1.5M300.2 642.1l-0.4 0.2M320.2 601.4l0.6 0.5M330.5 587.1l2.6 1.3M290.7 617.4l1.1 1.1M313.3 628.8l2.1 0.9" stroke="#3838b0" stroke-width="2.5" stroke-linecap="round"/>
<path d="M337.6 634.5l0.5 1.4M360.1 642.2l-1 0.4M326.1 617l1.8 2.1M360 586.1l2 0.2M339.5 603.1l1.4 2.1M324.4 566.8l0.9 0.1M364.2 641l-1.5 1.4M290.6 637.3l0.4 0.6M299.2 638l1.5 0.1M307.7 601.2l2.8 0.6M334.4 600.4l-2.4 1.6M333.9 580.5l-0.1 0.3M283.9 615.9l0.9 1.3M315.7 626.1l-2 0.1M287.8 589.9l-0.7 1.4M362.7 582.6l0.9 0.9M334.4 635.9l0.3 0.6M341.9 581.2l0.1 0.4M372.9 641.3l1.1 1M323.9 552.9l2 2.1M356.2 618.9l-0.7 0.8M303.7 628.8l-1.4 0.4M312.9 565.1l-0.5 0.4M358.1 594.6l-2.5 0.8M348.8 640.8l1.7 1.9M340.4 580.3l1.7 0.5M298.7 573l-0.1 0.4M306 589.2l0.4 3M303 610.9l0.5 2.3M300.1 638.7l1.5 1.1M341.5 605.3l-0.4 0.1M349.9 585.7l1.7 0.4M307.1 571.3l0.3 0.4M295.2 591.9l-0.1 0.4M289.3 576l0.3 0.4M336.2 615.2l-1.1 2M348 562.4l-0.9 1M329.1 610.1l-0.3 1" stroke="#4242c0" stroke-width="2.5" stroke-linecap="round"/>
<path d="M361.7 636.2l1.9 1M297.3 564.5l-1.7 2.5M341 617.5l3.2 0.8M309 572.3l-1.5 0.1M339.2 562.2l-0.8 3.4M350.6 560.5l-1 2.4M295.1 617.2l-0.7 1.7M325.7 602.4l-0.4 1M342.7 568.3l2.8 0.2M371.8 638.7l-1.4 0.8M356.3 624.3l2 1.5M372.6 623.1l2 1.2M284.8 641l2.7 0M339.1 584.6l-2.7 1.5M313.9 624.1l1.2 2M340.6 570.9l-1.3 0.9M336.6 614.6l3 0.7M288.1 626.6l2.5 0.3M369.2 593.4l3.5 0.4" stroke="#4a4acc" stroke-width="2" stroke-linecap="round"/>
<path d="M301.3 562.1l1.1 0.5M349.1 625.2l0.6 2.1M291.8 567.3l-0.4 1.2M287.7 586.3l1.8 0.7M328.9 585.9l1.5 0.1M297.4 636.3l-0.2 0.6M305.2 575.7l-0 1.9M338.2 583.4l1.4 1.7M304.7 633.7l-0.7 0.3M309.9 602.6l1.3 1M303.7 569.3l1.4 2.3M305.9 566.3l0.7 1.4M297 597.9l-0.3 2M348 622l0.9 0.1M344.2 570.8l-0 0.7M291.3 581.8l1 1M305.3 629.1l-1.8 2.3M331.1 601l1.3 2.3M322.1 623.3l-0.3 0.9M306.1 615.7l-2 0M348.5 575.6l0.4 0.8M286.2 602.8l1.9 1M309.7 558.4l0.3 0.1M369.9 633.8l-1.3 1.1M294.8 588.9l0.9 0.3M284.7 627.1l-0.3 0.3M369.9 582l0.7 0.7M298.7 562.1l0.9 2.9M339.7 596.3l-1.5 1.4M325.6 568.3l1.5 0.5M289.3 625.7l0.8 0.4M342.8 584.8l1.1 1.3M302 558.6l-1.3 2.8" stroke="#4a4acc" stroke-width="2.5" stroke-linecap="round"/>
<path d="M308.9 603.1l-0.1 0M366.2 597.9h0M290.9 602.5l-1.6 0.4M336.7 568.9l0.4 1.6M309.6 619.3l-0.3 0.4M334.9 622.1l-0.7 0.1M305 588.8h0M300.5 638.2l-0.1 0.9M296.6 628.1l-0.2 0.7M327.8 553.2l0.8 1.4" stroke="#3838b0" stroke-width="3.5" stroke-linecap="round"/>
<path d="M322.4 576.7h0M357.9 616.2h0M296.5 625.4l-0.9 0.3M328.5 607.2l0.6 1.2M331.2 592.9l-0.5 0.6M303.5 558.3h0M310.6 640.2l0.2 0.1M294.7 615.6l0.3 1.1" stroke="#4242c0" stroke-width="3.5" stroke-linecap="round"/>
<path d="M302.8 615.4l0.7 1.2M290.3 628.3l-0 1.8M296.6 567.2l0 1.1M285.8 569.1l-0.8 0.9M373.5 592.1l0.2 0.2M288.7 593.4l1 0.6M343.4 627.4h0M326.8 605.2l-1.4 0.1M335.8 563.8l0.6 0.6M367.9 641.2l1.7 0.4" stroke="#3030a0" stroke-width="3.5" stroke-linecap="round"/>
<path d="M360.6 594.9l1.9 0.9M367.8 607.5l-2.7 1.8M325 635.4l0.6 1.1M303.1 583.5l2.4 0.3M326.3 640.6l-1.4 2.2M337.8 573.7l-3.3 0.4M316 629.8l-1.4 1.4M294.1 632l-3.1 1.4M325.7 621.1l-0.5 1.4M367.8 632.8l3.2 1.7M302.2 565.3l0.6 3.1M298.1 592.2l1.3 1.3M293.7 557.9l2.4 1.6M339.1 554.9l0.8 0.4M371.3 616.5l-0.1 3M325.7 628.2l-0.8 1.6M311.5 624.9l-2.9 0.5M292.4 617.8l-0.8 1.3M302.5 559.8l-0.3 2.9M367.1 574l-2 2.5M311.6 631.1l-1.1 0.1M327.3 558.7l3.1 0.5M336.6 605.5l-2.5 0.1" stroke="#3838b0" stroke-width="2" stroke-linecap="round"/>
<path d="M335.4 617.6l-0.2 0.8M286.3 614.1l-0.2 0.9M316.4 601.9l-0.3 0M318.1 619.1l-0.1 1.2M309.6 619.3l1 0.3M339.2 625.7l-1 0M292.9 583.9l0.9 0.8M310.4 639.7l-1.5 1.1M296.6 585.7l0.7 0.2M330.7 599.8l-0.4 1.7" stroke="#4a4acc" stroke-width="3.5" stroke-linecap="round"/>
<path d="M372.2 629.8l-1.8 0.7M306.3 572.2l2 1.9M341.8 551.7l-1.8 2.4M290.5 626.7l1.5 0.7M305.1 578.4l-0.3 1.2M341 619.6l-0.3 3.3M339.5 613.2l1.2 1M291.4 610.4l-0.7 2.1M315.9 595.2l0.6 0.8M306.9 635.2l1 0.2M301.6 574.8l-2.3 1.5M294.2 592.1l-1.3 1.2M328 580l-3.3 0.3M285.7 595.2l-3.1 0.2M291.5 581.4l-1.5 0.3M330.2 632.5l0 0.9M341.9 637.2l1.2 0.5M303.6 604.8l1 0.8M310.2 597.6l-1.7 1.3M361.9 568.2l-1 1M297.6 622.8l0.5 1" stroke="#4242c0" stroke-width="2" stroke-linecap="round"/>
<path d="M337.8 595.9L343.4 595.9L340.6 600.7Z" fill="#f7ec18"/>
</g>
<rect x="220.1" y="488.4" width="57.2" height="57.8" fill="none" stroke="#c8c8c8" stroke-width="0.8"/>
<rect x="227.4" y="589.3" width="42.6" height="41.1" fill="none" stroke="#c8c8c8" stroke-width="0.8"/>
<line x1="277.4" y1="488.4" x2="284" y2="456.4" stroke="#bbb" stroke-width="0.6"/>
<line x1="277.4" y1="546.2" x2="284" y2="546.4" stroke="#bbb" stroke-width="0.6"/>
<line x1="270" y1="589.3" x2="284" y2="552.9" stroke="#bbb" stroke-width="0.6"/>
<line x1="270" y1="630.4" x2="284" y2="642.4" stroke="#bbb" stroke-width="0.6"/>
<text x="25" y="502.8" font-size="7.5" text-anchor="middle" fill="#222" transform="rotate(-90 25 502.8)">BM + spleen</text>
<text x="25" y="597.6" font-size="7.5" text-anchor="middle" fill="#222" transform="rotate(-90 25 597.6)">BM + SA-FasL-spleen</text>
<text x="182.6" y="502.5" font-size="7.5" text-anchor="middle" fill="#222" transform="rotate(-90 182.6 502.5)">BM + spleen</text>
<text x="182.6" y="597.5" font-size="7.5" text-anchor="middle" fill="#222" transform="rotate(-90 182.6 597.5)">BM + SA-FasL-spleen</text>
<line x1="81.6" y1="51.5" x2="81.6" y2="121.3" stroke="#1a1a1a" stroke-width="1" shape-rendering="crispEdges"/>
<line x1="81.6" y1="121.3" x2="133.6" y2="121.3" stroke="#1a1a1a" stroke-width="1" shape-rendering="crispEdges"/>
<line x1="79" y1="121.3" x2="81.6" y2="121.3" stroke="#1a1a1a" stroke-width="1" shape-rendering="crispEdges"/>
<text x="76.6" y="124" font-size="7.5" text-anchor="end" fill="#222" font-weight="normal">0</text>
<line x1="79" y1="98.3" x2="81.6" y2="98.3" stroke="#1a1a1a" stroke-width="1" shape-rendering="crispEdges"/>
<text x="76.6" y="101" font-size="7.5" text-anchor="end" fill="#222" font-weight="normal">5</text>
<line x1="79" y1="75.3" x2="81.6" y2="75.3" stroke="#1a1a1a" stroke-width="1" shape-rendering="crispEdges"/>
<text x="76.6" y="78" font-size="7.5" text-anchor="end" fill="#222" font-weight="normal">10</text>
<line x1="79" y1="52.1" x2="81.6" y2="52.1" stroke="#1a1a1a" stroke-width="1" shape-rendering="crispEdges"/>
<text x="76.6" y="54.8" font-size="7.5" text-anchor="end" fill="#222" font-weight="normal">15</text>
<line x1="89.4" y1="121.3" x2="89.4" y2="123.9" stroke="#1a1a1a" stroke-width="1" shape-rendering="crispEdges"/>
<line x1="107.6" y1="121.3" x2="107.6" y2="123.9" stroke="#1a1a1a" stroke-width="1" shape-rendering="crispEdges"/>
<line x1="125.8" y1="121.3" x2="125.8" y2="123.9" stroke="#1a1a1a" stroke-width="1" shape-rendering="crispEdges"/>
<circle cx="89.4" cy="117.15" r="2.3" fill="#421a55"/>
<circle cx="87.8" cy="118.07" r="2.3" fill="#421a55"/>
<circle cx="91" cy="118.76" r="2.3" fill="#421a55"/>
<circle cx="92.6" cy="119.45" r="2.3" fill="#421a55"/>
<circle cx="86.2" cy="118.99" r="2.3" fill="#421a55"/>
<rect x="105.6" y="73.17" width="4" height="4" fill="#c8102e"/>
<rect x="105.6" y="81.01" width="4" height="4" fill="#c8102e"/>
<rect x="105.6" y="91.16" width="4" height="4" fill="#c8102e"/>
<rect x="104" y="93.47" width="4" height="4" fill="#c8102e"/>
<rect x="105.6" y="95.31" width="4" height="4" fill="#c8102e"/>
<rect x="104" y="96.69" width="4" height="4" fill="#c8102e"/>
<rect x="105.6" y="98.08" width="4" height="4" fill="#c8102e"/>
<rect x="104" y="99.46" width="4" height="4" fill="#c8102e"/>
<rect x="105.6" y="100.85" width="4" height="4" fill="#c8102e"/>
<rect x="104" y="102.69" width="4" height="4" fill="#c8102e"/>
<rect x="105.6" y="105" width="4" height="4" fill="#c8102e"/>
<path d="M125.8 88.25L128.4 92.75L123.2 92.75Z" fill="#184a85"/>
<path d="M124.2 90.56L126.8 95.06L121.6 95.06Z" fill="#184a85"/>
<path d="M125.8 92.4L128.4 96.9L123.2 96.9Z" fill="#184a85"/>
<path d="M124.2 94.25L126.8 98.75L121.6 98.75Z" fill="#184a85"/>
<path d="M125.8 96.56L128.4 101.06L123.2 101.06Z" fill="#184a85"/>
<path d="M124.2 98.86L126.8 103.36L121.6 103.36Z" fill="#184a85"/>
<path d="M125.8 106.71L128.4 111.21L123.2 111.21Z" fill="#184a85"/>
<path d="M125.8 109.93L128.4 114.43L123.2 114.43Z" fill="#184a85"/>
<line x1="84.2" y1="118.53" x2="94.6" y2="118.53" stroke="#5e4a6c" stroke-width="0.9" shape-rendering="crispEdges"/>
<line x1="102.4" y1="96.85" x2="112.8" y2="96.85" stroke="#2a2a2a" stroke-width="0.9" shape-rendering="crispEdges"/>
<line x1="107.6" y1="93.62" x2="107.6" y2="100.08" stroke="#2a2a2a" stroke-width="0.9" shape-rendering="crispEdges"/>
<line x1="104.9" y1="93.62" x2="110.3" y2="93.62" stroke="#2a2a2a" stroke-width="0.9" shape-rendering="crispEdges"/>
<line x1="104.9" y1="100.08" x2="110.3" y2="100.08" stroke="#2a2a2a" stroke-width="0.9" shape-rendering="crispEdges"/>
<line x1="120.6" y1="99.16" x2="131" y2="99.16" stroke="#1c2438" stroke-width="0.9" shape-rendering="crispEdges"/>
<line x1="125.8" y1="95.93" x2="125.8" y2="102.39" stroke="#1c2438" stroke-width="0.9" shape-rendering="crispEdges"/>
<line x1="123.1" y1="95.93" x2="128.5" y2="95.93" stroke="#1c2438" stroke-width="0.9" shape-rendering="crispEdges"/>
<line x1="123.1" y1="102.39" x2="128.5" y2="102.39" stroke="#1c2438" stroke-width="0.9" shape-rendering="crispEdges"/>
<polyline points="86.4,51.7 86.4,49.3 125.8,49.3 125.8,51.7" fill="none" stroke="#1a1a1a" stroke-width="1" shape-rendering="crispEdges"/>
<text x="106.1" y="48.4" font-size="7" text-anchor="middle" fill="#222" font-weight="normal">***</text>
<polyline points="88.4,61.4 88.4,59 107.6,59 107.6,61.4" fill="none" stroke="#1a1a1a" stroke-width="1" shape-rendering="crispEdges"/>
<text x="98" y="58.1" font-size="7" text-anchor="middle" fill="#222" font-weight="normal">****</text>
<line x1="181.7" y1="51.5" x2="181.7" y2="121.2" stroke="#1a1a1a" stroke-width="1" shape-rendering="crispEdges"/>
<line x1="181.7" y1="121.2" x2="233.6" y2="121.2" stroke="#1a1a1a" stroke-width="1" shape-rendering="crispEdges"/>
<line x1="179.1" y1="121.2" x2="181.7" y2="121.2" stroke="#1a1a1a" stroke-width="1" shape-rendering="crispEdges"/>
<text x="176.7" y="123.9" font-size="7.5" text-anchor="end" fill="#222" font-weight="normal">0</text>
<line x1="179.1" y1="103.9" x2="181.7" y2="103.9" stroke="#1a1a1a" stroke-width="1" shape-rendering="crispEdges"/>
<text x="176.7" y="106.6" font-size="7.5" text-anchor="end" fill="#222" font-weight="normal">1</text>
<line x1="179.1" y1="86.6" x2="181.7" y2="86.6" stroke="#1a1a1a" stroke-width="1" shape-rendering="crispEdges"/>
<text x="176.7" y="89.3" font-size="7.5" text-anchor="end" fill="#222" font-weight="normal">2</text>
<line x1="179.1" y1="69.2" x2="181.7" y2="69.2" stroke="#1a1a1a" stroke-width="1" shape-rendering="crispEdges"/>
<text x="176.7" y="71.9" font-size="7.5" text-anchor="end" fill="#222" font-weight="normal">3</text>
<line x1="179.1" y1="51.9" x2="181.7" y2="51.9" stroke="#1a1a1a" stroke-width="1" shape-rendering="crispEdges"/>
<text x="176.7" y="54.6" font-size="7.5" text-anchor="end" fill="#222" font-weight="normal">4</text>
<line x1="190" y1="121.2" x2="190" y2="123.8" stroke="#1a1a1a" stroke-width="1" shape-rendering="crispEdges"/>
<line x1="208.2" y1="121.2" x2="208.2" y2="123.8" stroke="#1a1a1a" stroke-width="1" shape-rendering="crispEdges"/>
<line x1="226.4" y1="121.2" x2="226.4" y2="123.8" stroke="#1a1a1a" stroke-width="1" shape-rendering="crispEdges"/>
<circle cx="190" cy="116" r="2.3" fill="#421a55"/>
<circle cx="188.4" cy="117.39" r="2.3" fill="#421a55"/>
<circle cx="190" cy="118.6" r="2.3" fill="#421a55"/>
<circle cx="191.6" cy="119.47" r="2.3" fill="#421a55"/>
<rect x="206.2" y="64.63" width="4" height="4" fill="#c8102e"/>
<rect x="206.2" y="67.22" width="4" height="4" fill="#c8102e"/>
<rect x="206.2" y="69.82" width="4" height="4" fill="#c8102e"/>
<rect x="206.2" y="77.62" width="4" height="4" fill="#c8102e"/>
<rect x="206.2" y="81.08" width="4" height="4" fill="#c8102e"/>
<rect x="206.2" y="84.55" width="4" height="4" fill="#c8102e"/>
<rect x="206.2" y="87.15" width="4" height="4" fill="#c8102e"/>
<rect x="206.2" y="91.48" width="4" height="4" fill="#c8102e"/>
<rect x="204.6" y="93.21" width="4" height="4" fill="#c8102e"/>
<rect x="206.2" y="96.68" width="4" height="4" fill="#c8102e"/>
<rect x="206.2" y="99.28" width="4" height="4" fill="#c8102e"/>
<rect x="204.6" y="101.01" width="4" height="4" fill="#c8102e"/>
<path d="M226.4 95.21L229 99.71L223.8 99.71Z" fill="#184a85"/>
<path d="M224.8 96.94L227.4 101.44L222.2 101.44Z" fill="#184a85"/>
<path d="M226.4 98.68L229 103.18L223.8 103.18Z" fill="#184a85"/>
<path d="M224.8 100.41L227.4 104.91L222.2 104.91Z" fill="#184a85"/>
<path d="M226.4 101.62L229 106.12L223.8 106.12Z" fill="#184a85"/>
<path d="M224.8 103.01L227.4 107.51L222.2 107.51Z" fill="#184a85"/>
<path d="M226.4 104.74L229 109.24L223.8 109.24Z" fill="#184a85"/>
<path d="M224.8 106.47L227.4 110.97L222.2 110.97Z" fill="#184a85"/>
<path d="M226.4 108.21L229 112.71L223.8 112.71Z" fill="#184a85"/>
<line x1="184.8" y1="118.08" x2="195.2" y2="118.08" stroke="#5e4a6c" stroke-width="0.9" shape-rendering="crispEdges"/>
<line x1="203" y1="88.28" x2="213.4" y2="88.28" stroke="#2a2a2a" stroke-width="0.9" shape-rendering="crispEdges"/>
<line x1="208.2" y1="84.82" x2="208.2" y2="91.75" stroke="#2a2a2a" stroke-width="0.9" shape-rendering="crispEdges"/>
<line x1="205.5" y1="84.82" x2="210.9" y2="84.82" stroke="#2a2a2a" stroke-width="0.9" shape-rendering="crispEdges"/>
<line x1="205.5" y1="91.75" x2="210.9" y2="91.75" stroke="#2a2a2a" stroke-width="0.9" shape-rendering="crispEdges"/>
<line x1="221.2" y1="103.01" x2="231.6" y2="103.01" stroke="#1c2438" stroke-width="0.9" shape-rendering="crispEdges"/>
<line x1="226.4" y1="101.28" x2="226.4" y2="104.74" stroke="#1c2438" stroke-width="0.9" shape-rendering="crispEdges"/>
<line x1="223.7" y1="101.28" x2="229.1" y2="101.28" stroke="#1c2438" stroke-width="0.9" shape-rendering="crispEdges"/>
<line x1="223.7" y1="104.74" x2="229.1" y2="104.74" stroke="#1c2438" stroke-width="0.9" shape-rendering="crispEdges"/>
<polyline points="187,52 187,49.6 226.4,49.6 226.4,52" fill="none" stroke="#1a1a1a" stroke-width="1" shape-rendering="crispEdges"/>
<text x="206.7" y="48.7" font-size="7" text-anchor="middle" fill="#222" font-weight="normal">**</text>
<polyline points="189,62 189,59.6 226.4,59.6 226.4,62" fill="none" stroke="#1a1a1a" stroke-width="1" shape-rendering="crispEdges"/>
<line x1="208.2" y1="59.6" x2="208.2" y2="62" stroke="#1a1a1a" stroke-width="1" shape-rendering="crispEdges"/>
<text x="198.6" y="58.7" font-size="7" text-anchor="middle" fill="#222" font-weight="normal">****</text>
<text x="217.3" y="58.7" font-size="7" text-anchor="middle" fill="#222" font-weight="normal">**</text>
<line x1="276.3" y1="51.5" x2="276.3" y2="121.2" stroke="#1a1a1a" stroke-width="1" shape-rendering="crispEdges"/>
<line x1="276.3" y1="121.2" x2="328" y2="121.2" stroke="#1a1a1a" stroke-width="1" shape-rendering="crispEdges"/>
<line x1="273.7" y1="121.2" x2="276.3" y2="121.2" stroke="#1a1a1a" stroke-width="1" shape-rendering="crispEdges"/>
<text x="271.3" y="123.9" font-size="7.5" text-anchor="end" fill="#222" font-weight="normal">0</text>
<line x1="273.7" y1="98.1" x2="276.3" y2="98.1" stroke="#1a1a1a" stroke-width="1" shape-rendering="crispEdges"/>
<text x="271.3" y="100.8" font-size="7.5" text-anchor="end" fill="#222" font-weight="normal">2</text>
<line x1="273.7" y1="75" x2="276.3" y2="75" stroke="#1a1a1a" stroke-width="1" shape-rendering="crispEdges"/>
<text x="271.3" y="77.7" font-size="7.5" text-anchor="end" fill="#222" font-weight="normal">4</text>
<line x1="273.7" y1="51.9" x2="276.3" y2="51.9" stroke="#1a1a1a" stroke-width="1" shape-rendering="crispEdges"/>
<text x="271.3" y="54.6" font-size="7.5" text-anchor="end" fill="#222" font-weight="normal">6</text>
<line x1="284" y1="121.2" x2="284" y2="123.8" stroke="#1a1a1a" stroke-width="1" shape-rendering="crispEdges"/>
<line x1="302.2" y1="121.2" x2="302.2" y2="123.8" stroke="#1a1a1a" stroke-width="1" shape-rendering="crispEdges"/>
<line x1="320.4" y1="121.2" x2="320.4" y2="123.8" stroke="#1a1a1a" stroke-width="1" shape-rendering="crispEdges"/>
<circle cx="284" cy="55.36" r="2.3" fill="#421a55"/>
<circle cx="284" cy="81.93" r="2.3" fill="#421a55"/>
<circle cx="284" cy="101.56" r="2.3" fill="#421a55"/>
<circle cx="282.4" cy="103.3" r="2.3" fill="#421a55"/>
<circle cx="284" cy="108.5" r="2.3" fill="#421a55"/>
<rect x="300.2" y="98.41" width="4" height="4" fill="#c8102e"/>
<rect x="300.2" y="103.61" width="4" height="4" fill="#c8102e"/>
<rect x="300.2" y="106.5" width="4" height="4" fill="#c8102e"/>
<rect x="298.6" y="108.81" width="4" height="4" fill="#c8102e"/>
<rect x="300.2" y="109.96" width="4" height="4" fill="#c8102e"/>
<rect x="301.8" y="111.12" width="4" height="4" fill="#c8102e"/>
<rect x="298.6" y="112.27" width="4" height="4" fill="#c8102e"/>
<rect x="300.2" y="113.42" width="4" height="4" fill="#c8102e"/>
<rect x="301.8" y="114.58" width="4" height="4" fill="#c8102e"/>
<rect x="298.6" y="115.16" width="4" height="4" fill="#c8102e"/>
<path d="M320.4 56.23L323 60.73L317.8 60.73Z" fill="#184a85"/>
<path d="M320.4 72.4L323 76.9L317.8 76.9Z" fill="#184a85"/>
<path d="M318.8 74.71L321.4 79.21L316.2 79.21Z" fill="#184a85"/>
<path d="M320.4 77.02L323 81.52L317.8 81.52Z" fill="#184a85"/>
<path d="M318.8 79.33L321.4 83.83L316.2 83.83Z" fill="#184a85"/>
<path d="M320.4 81.06L323 85.56L317.8 85.56Z" fill="#184a85"/>
<path d="M320.4 89.72L323 94.22L317.8 94.22Z" fill="#184a85"/>
<path d="M320.4 97.81L323 102.31L317.8 102.31Z" fill="#184a85"/>
<path d="M320.4 105.9L323 110.4L317.8 110.4Z" fill="#184a85"/>
<line x1="278.8" y1="92.32" x2="289.2" y2="92.32" stroke="#5e4a6c" stroke-width="0.9" shape-rendering="crispEdges"/>
<line x1="284" y1="81.93" x2="284" y2="102.72" stroke="#5e4a6c" stroke-width="0.9" shape-rendering="crispEdges"/>
<line x1="281.3" y1="81.93" x2="286.7" y2="81.93" stroke="#5e4a6c" stroke-width="0.9" shape-rendering="crispEdges"/>
<line x1="281.3" y1="102.72" x2="286.7" y2="102.72" stroke="#5e4a6c" stroke-width="0.9" shape-rendering="crispEdges"/>
<line x1="297" y1="111.96" x2="307.4" y2="111.96" stroke="#2a2a2a" stroke-width="0.9" shape-rendering="crispEdges"/>
<line x1="302.2" y1="109.65" x2="302.2" y2="114.27" stroke="#2a2a2a" stroke-width="0.9" shape-rendering="crispEdges"/>
<line x1="299.5" y1="109.65" x2="304.9" y2="109.65" stroke="#2a2a2a" stroke-width="0.9" shape-rendering="crispEdges"/>
<line x1="299.5" y1="114.27" x2="304.9" y2="114.27" stroke="#2a2a2a" stroke-width="0.9" shape-rendering="crispEdges"/>
<line x1="315.2" y1="81.93" x2="325.6" y2="81.93" stroke="#1c2438" stroke-width="0.9" shape-rendering="crispEdges"/>
<line x1="320.4" y1="77.31" x2="320.4" y2="86.55" stroke="#1c2438" stroke-width="0.9" shape-rendering="crispEdges"/>
<line x1="317.7" y1="77.31" x2="323.1" y2="77.31" stroke="#1c2438" stroke-width="0.9" shape-rendering="crispEdges"/>
<line x1="317.7" y1="86.55" x2="323.1" y2="86.55" stroke="#1c2438" stroke-width="0.9" shape-rendering="crispEdges"/>
<polyline points="283,51.6 283,49.2 320.4,49.2 320.4,51.6" fill="none" stroke="#1a1a1a" stroke-width="1" shape-rendering="crispEdges"/>
<line x1="302.2" y1="49.2" x2="302.2" y2="51.6" stroke="#1a1a1a" stroke-width="1" shape-rendering="crispEdges"/>
<text x="292.6" y="48.3" font-size="7" text-anchor="middle" fill="#222" font-weight="normal">*</text>
<text x="311.3" y="48.3" font-size="7" text-anchor="middle" fill="#222" font-weight="normal">***</text>
<line x1="373" y1="51.5" x2="373" y2="84.5" stroke="#1a1a1a" stroke-width="1" shape-rendering="crispEdges"/>
<line x1="373" y1="89.5" x2="373" y2="121" stroke="#1a1a1a" stroke-width="1" shape-rendering="crispEdges"/>
<line x1="371.7" y1="84.5" x2="374.3" y2="84.5" stroke="#1a1a1a" stroke-width="1" shape-rendering="crispEdges"/>
<line x1="371.7" y1="89.5" x2="374.3" y2="89.5" stroke="#1a1a1a" stroke-width="1" shape-rendering="crispEdges"/>
<line x1="373" y1="121" x2="425" y2="121" stroke="#1a1a1a" stroke-width="1" shape-rendering="crispEdges"/>
<line x1="370.4" y1="121" x2="373" y2="121" stroke="#1a1a1a" stroke-width="1" shape-rendering="crispEdges"/>
<text x="368" y="123.7" font-size="7.5" text-anchor="end" fill="#222" font-weight="normal">0.00</text>
<line x1="370.4" y1="108.5" x2="373" y2="108.5" stroke="#1a1a1a" stroke-width="1" shape-rendering="crispEdges"/>
<text x="368" y="111.2" font-size="7.5" text-anchor="end" fill="#222" font-weight="normal">0.04</text>
<line x1="370.4" y1="96" x2="373" y2="96" stroke="#1a1a1a" stroke-width="1" shape-rendering="crispEdges"/>
<text x="368" y="98.7" font-size="7.5" text-anchor="end" fill="#222" font-weight="normal">0.08</text>
<line x1="370.4" y1="79" x2="373" y2="79" stroke="#1a1a1a" stroke-width="1" shape-rendering="crispEdges"/>
<text x="368" y="81.7" font-size="7.5" text-anchor="end" fill="#222" font-weight="normal">0.25</text>
<line x1="370.4" y1="70.3" x2="373" y2="70.3" stroke="#1a1a1a" stroke-width="1" shape-rendering="crispEdges"/>
<text x="368" y="73" font-size="7.5" text-anchor="end" fill="#222" font-weight="normal">0.50</text>
<line x1="370.4" y1="61.7" x2="373" y2="61.7" stroke="#1a1a1a" stroke-width="1" shape-rendering="crispEdges"/>
<text x="368" y="64.4" font-size="7.5" text-anchor="end" fill="#222" font-weight="normal">0.75</text>
<line x1="370.4" y1="53" x2="373" y2="53" stroke="#1a1a1a" stroke-width="1" shape-rendering="crispEdges"/>
<text x="368" y="55.7" font-size="7.5" text-anchor="end" fill="#222" font-weight="normal">1.00</text>
<line x1="380.6" y1="121" x2="380.6" y2="123.6" stroke="#1a1a1a" stroke-width="1" shape-rendering="crispEdges"/>
<line x1="398.8" y1="121" x2="398.8" y2="123.6" stroke="#1a1a1a" stroke-width="1" shape-rendering="crispEdges"/>
<line x1="417" y1="121" x2="417" y2="123.6" stroke="#1a1a1a" stroke-width="1" shape-rendering="crispEdges"/>
<circle cx="380.6" cy="57.85" r="2.3" fill="#421a55"/>
<circle cx="380.6" cy="66.87" r="2.3" fill="#421a55"/>
<circle cx="378.2" cy="68.25" r="2.3" fill="#421a55"/>
<circle cx="380.6" cy="70.33" r="2.3" fill="#421a55"/>
<circle cx="378.2" cy="72.07" r="2.3" fill="#421a55"/>
<circle cx="380.6" cy="74.49" r="2.3" fill="#421a55"/>
<circle cx="378.2" cy="76.57" r="2.3" fill="#421a55"/>
<circle cx="380.6" cy="81.77" r="2.3" fill="#421a55"/>
<rect x="396.8" y="109.62" width="4" height="4" fill="#c8102e"/>
<rect x="394.4" y="110.88" width="4" height="4" fill="#c8102e"/>
<rect x="399.2" y="112.12" width="4" height="4" fill="#c8102e"/>
<rect x="396.8" y="113.38" width="4" height="4" fill="#c8102e"/>
<rect x="394.4" y="114.62" width="4" height="4" fill="#c8102e"/>
<rect x="399.2" y="115.56" width="4" height="4" fill="#c8102e"/>
<rect x="396.8" y="116.5" width="4" height="4" fill="#c8102e"/>
<rect x="394.4" y="117.44" width="4" height="4" fill="#c8102e"/>
<path d="M417 90.28L419.6 94.78L414.4 94.78Z" fill="#184a85"/>
<path d="M414.6 91.84L417.2 96.34L412 96.34Z" fill="#184a85"/>
<path d="M417 93.4L419.6 97.9L414.4 97.9Z" fill="#184a85"/>
<path d="M414.6 94.65L417.2 99.15L412 99.15Z" fill="#184a85"/>
<path d="M419.4 95.9L422 100.4L416.8 100.4Z" fill="#184a85"/>
<path d="M417 97.15L419.6 101.65L414.4 101.65Z" fill="#184a85"/>
<path d="M414.6 98.4L417.2 102.9L412 102.9Z" fill="#184a85"/>
<path d="M419.4 99.65L422 104.15L416.8 104.15Z" fill="#184a85"/>
<line x1="375.4" y1="71.03" x2="385.8" y2="71.03" stroke="#5e4a6c" stroke-width="0.9" shape-rendering="crispEdges"/>
<line x1="380.6" y1="68.25" x2="380.6" y2="73.8" stroke="#5e4a6c" stroke-width="0.9" shape-rendering="crispEdges"/>
<line x1="377.9" y1="68.25" x2="383.3" y2="68.25" stroke="#5e4a6c" stroke-width="0.9" shape-rendering="crispEdges"/>
<line x1="377.9" y1="73.8" x2="383.3" y2="73.8" stroke="#5e4a6c" stroke-width="0.9" shape-rendering="crispEdges"/>
<line x1="393.6" y1="116" x2="404" y2="116" stroke="#2a2a2a" stroke-width="0.9" shape-rendering="crispEdges"/>
<line x1="411.8" y1="97.88" x2="422.2" y2="97.88" stroke="#1c2438" stroke-width="0.9" shape-rendering="crispEdges"/>
<polyline points="377.6,44 377.6,41.6 417,41.6 417,44" fill="none" stroke="#1a1a1a" stroke-width="1" shape-rendering="crispEdges"/>
<text x="397.3" y="40.7" font-size="7" text-anchor="middle" fill="#222" font-weight="normal">***</text>
<polyline points="377.6,54 377.6,51.6 417,51.6 417,54" fill="none" stroke="#1a1a1a" stroke-width="1" shape-rendering="crispEdges"/>
<line x1="398.8" y1="51.6" x2="398.8" y2="54" stroke="#1a1a1a" stroke-width="1" shape-rendering="crispEdges"/>
<text x="388.2" y="50.7" font-size="7" text-anchor="middle" fill="#222" font-weight="normal">***</text>
<text x="407.9" y="50.7" font-size="7" text-anchor="middle" fill="#222" font-weight="normal">****</text>
<line x1="462" y1="51.5" x2="462" y2="84.5" stroke="#1a1a1a" stroke-width="1" shape-rendering="crispEdges"/>
<line x1="462" y1="89.5" x2="462" y2="121" stroke="#1a1a1a" stroke-width="1" shape-rendering="crispEdges"/>
<line x1="460.7" y1="84.5" x2="463.3" y2="84.5" stroke="#1a1a1a" stroke-width="1" shape-rendering="crispEdges"/>
<line x1="460.7" y1="89.5" x2="463.3" y2="89.5" stroke="#1a1a1a" stroke-width="1" shape-rendering="crispEdges"/>
<line x1="462" y1="121" x2="513.6" y2="121" stroke="#1a1a1a" stroke-width="1" shape-rendering="crispEdges"/>
<line x1="459.4" y1="121" x2="462" y2="121" stroke="#1a1a1a" stroke-width="1" shape-rendering="crispEdges"/>
<text x="457" y="123.7" font-size="7.5" text-anchor="end" fill="#222" font-weight="normal">0.00</text>
<line x1="459.4" y1="105.7" x2="462" y2="105.7" stroke="#1a1a1a" stroke-width="1" shape-rendering="crispEdges"/>
<text x="457" y="108.4" font-size="7.5" text-anchor="end" fill="#222" font-weight="normal">0.02</text>
<line x1="459.4" y1="90.4" x2="462" y2="90.4" stroke="#1a1a1a" stroke-width="1" shape-rendering="crispEdges"/>
<text x="457" y="93.1" font-size="7.5" text-anchor="end" fill="#222" font-weight="normal">0.04</text>
<line x1="459.4" y1="74" x2="462" y2="74" stroke="#1a1a1a" stroke-width="1" shape-rendering="crispEdges"/>
<text x="457" y="76.7" font-size="7.5" text-anchor="end" fill="#222" font-weight="normal">0.20</text>
<line x1="459.4" y1="63.5" x2="462" y2="63.5" stroke="#1a1a1a" stroke-width="1" shape-rendering="crispEdges"/>
<text x="457" y="66.2" font-size="7.5" text-anchor="end" fill="#222" font-weight="normal">0.25</text>
<line x1="459.4" y1="53" x2="462" y2="53" stroke="#1a1a1a" stroke-width="1" shape-rendering="crispEdges"/>
<text x="457" y="55.7" font-size="7.5" text-anchor="end" fill="#222" font-weight="normal">0.30</text>
<line x1="469" y1="121" x2="469" y2="123.6" stroke="#1a1a1a" stroke-width="1" shape-rendering="crispEdges"/>
<line x1="487.2" y1="121" x2="487.2" y2="123.6" stroke="#1a1a1a" stroke-width="1" shape-rendering="crispEdges"/>
<line x1="505.4" y1="121" x2="505.4" y2="123.6" stroke="#1a1a1a" stroke-width="1" shape-rendering="crispEdges"/>
<circle cx="469" cy="57.2" r="2.3" fill="#421a55"/>
<circle cx="469" cy="74" r="2.3" fill="#421a55"/>
<circle cx="469" cy="77.15" r="2.3" fill="#421a55"/>
<circle cx="469" cy="82.4" r="2.3" fill="#421a55"/>
<rect x="485.2" y="109.06" width="4" height="4" fill="#c8102e"/>
<rect x="485.2" y="115.17" width="4" height="4" fill="#c8102e"/>
<rect x="482.8" y="116.7" width="4" height="4" fill="#c8102e"/>
<rect x="487.6" y="117.47" width="4" height="4" fill="#c8102e"/>
<path d="M505.4 90.86L508 95.36L502.8 95.36Z" fill="#184a85"/>
<path d="M503 92.39L505.6 96.89L500.4 96.89Z" fill="#184a85"/>
<path d="M505.4 93.92L508 98.42L502.8 98.42Z" fill="#184a85"/>
<path d="M503 95.45L505.6 99.95L500.4 99.95Z" fill="#184a85"/>
<path d="M505.4 96.98L508 101.48L502.8 101.48Z" fill="#184a85"/>
<path d="M503 98.51L505.6 103.01L500.4 103.01Z" fill="#184a85"/>
<path d="M505.4 101.57L508 106.07L502.8 106.07Z" fill="#184a85"/>
<path d="M503 103.1L505.6 107.6L500.4 107.6Z" fill="#184a85"/>
<line x1="463.8" y1="79.25" x2="474.2" y2="79.25" stroke="#5e4a6c" stroke-width="0.9" shape-rendering="crispEdges"/>
<line x1="482" y1="116.41" x2="492.4" y2="116.41" stroke="#2a2a2a" stroke-width="0.9" shape-rendering="crispEdges"/>
<line x1="500.2" y1="98.05" x2="510.6" y2="98.05" stroke="#1c2438" stroke-width="0.9" shape-rendering="crispEdges"/>
<polyline points="466.4,41.4 466.4,39 505.4,39 505.4,41.4" fill="none" stroke="#1a1a1a" stroke-width="1" shape-rendering="crispEdges"/>
<text x="485.9" y="38.1" font-size="7" text-anchor="middle" fill="#222" font-weight="normal">***</text>
<polyline points="466.4,51.4 466.4,49 505.4,49 505.4,51.4" fill="none" stroke="#1a1a1a" stroke-width="1" shape-rendering="crispEdges"/>
<line x1="487.2" y1="49" x2="487.2" y2="51.4" stroke="#1a1a1a" stroke-width="1" shape-rendering="crispEdges"/>
<text x="476.8" y="48.1" font-size="7" text-anchor="middle" fill="#222" font-weight="normal">***</text>
<text x="496.3" y="48.1" font-size="7" text-anchor="middle" fill="#222" font-weight="normal">****</text>
<line x1="80.9" y1="151.5" x2="80.9" y2="220.8" stroke="#1a1a1a" stroke-width="1" shape-rendering="crispEdges"/>
<line x1="80.9" y1="220.8" x2="133.7" y2="220.8" stroke="#1a1a1a" stroke-width="1" shape-rendering="crispEdges"/>
<line x1="78.3" y1="220.8" x2="80.9" y2="220.8" stroke="#1a1a1a" stroke-width="1" shape-rendering="crispEdges"/>
<text x="75.9" y="223.5" font-size="7.5" text-anchor="end" fill="#222" font-weight="normal">0</text>
<line x1="78.3" y1="197.9" x2="80.9" y2="197.9" stroke="#1a1a1a" stroke-width="1" shape-rendering="crispEdges"/>
<text x="75.9" y="200.6" font-size="7.5" text-anchor="end" fill="#222" font-weight="normal">5</text>
<line x1="78.3" y1="174.9" x2="80.9" y2="174.9" stroke="#1a1a1a" stroke-width="1" shape-rendering="crispEdges"/>
<text x="75.9" y="177.6" font-size="7.5" text-anchor="end" fill="#222" font-weight="normal">10</text>
<line x1="78.3" y1="152" x2="80.9" y2="152" stroke="#1a1a1a" stroke-width="1" shape-rendering="crispEdges"/>
<text x="75.9" y="154.7" font-size="7.5" text-anchor="end" fill="#222" font-weight="normal">15</text>
<line x1="89.2" y1="220.8" x2="89.2" y2="223.4" stroke="#1a1a1a" stroke-width="1" shape-rendering="crispEdges"/>
<line x1="107.4" y1="220.8" x2="107.4" y2="223.4" stroke="#1a1a1a" stroke-width="1" shape-rendering="crispEdges"/>
<line x1="125.6" y1="220.8" x2="125.6" y2="223.4" stroke="#1a1a1a" stroke-width="1" shape-rendering="crispEdges"/>
<circle cx="89.2" cy="220.8" r="2.3" fill="#421a55"/>
<rect x="105.4" y="161.93" width="4" height="4" fill="#c8102e"/>
<rect x="105.4" y="180.73" width="4" height="4" fill="#c8102e"/>
<rect x="105.4" y="190.36" width="4" height="4" fill="#c8102e"/>
<rect x="103.8" y="192.2" width="4" height="4" fill="#c8102e"/>
<rect x="105.4" y="198.16" width="4" height="4" fill="#c8102e"/>
<rect x="103.8" y="200.45" width="4" height="4" fill="#c8102e"/>
<rect x="105.4" y="201.37" width="4" height="4" fill="#c8102e"/>
<rect x="105.4" y="205.96" width="4" height="4" fill="#c8102e"/>
<rect x="103.8" y="206.42" width="4" height="4" fill="#c8102e"/>
<rect x="105.4" y="217.42" width="4" height="4" fill="#c8102e"/>
<path d="M125.6 197.56L128.2 202.06L123 202.06Z" fill="#184a85"/>
<path d="M124 199.85L126.6 204.35L121.4 204.35Z" fill="#184a85"/>
<path d="M125.6 202.15L128.2 206.65L123 206.65Z" fill="#184a85"/>
<path d="M124 204.44L126.6 208.94L121.4 208.94Z" fill="#184a85"/>
<path d="M125.6 206.27L128.2 210.77L123 210.77Z" fill="#184a85"/>
<path d="M124 208.11L126.6 212.61L121.4 212.61Z" fill="#184a85"/>
<path d="M125.6 209.49L128.2 213.99L123 213.99Z" fill="#184a85"/>
<path d="M124 211.32L126.6 215.82L121.4 215.82Z" fill="#184a85"/>
<path d="M125.6 212.7L128.2 217.2L123 217.2Z" fill="#184a85"/>
<path d="M127.2 213.61L129.8 218.11L124.6 218.11Z" fill="#184a85"/>
<line x1="102.2" y1="197.87" x2="112.6" y2="197.87" stroke="#2a2a2a" stroke-width="0.9" shape-rendering="crispEdges"/>
<line x1="107.4" y1="192.82" x2="107.4" y2="202.91" stroke="#2a2a2a" stroke-width="0.9" shape-rendering="crispEdges"/>
<line x1="104.7" y1="192.82" x2="110.1" y2="192.82" stroke="#2a2a2a" stroke-width="0.9" shape-rendering="crispEdges"/>
<line x1="104.7" y1="202.91" x2="110.1" y2="202.91" stroke="#2a2a2a" stroke-width="0.9" shape-rendering="crispEdges"/>
<line x1="120.4" y1="210.25" x2="130.8" y2="210.25" stroke="#1c2438" stroke-width="0.9" shape-rendering="crispEdges"/>
<line x1="125.6" y1="208.42" x2="125.6" y2="212.09" stroke="#1c2438" stroke-width="0.9" shape-rendering="crispEdges"/>
<line x1="122.9" y1="208.42" x2="128.3" y2="208.42" stroke="#1c2438" stroke-width="0.9" shape-rendering="crispEdges"/>
<line x1="122.9" y1="212.09" x2="128.3" y2="212.09" stroke="#1c2438" stroke-width="0.9" shape-rendering="crispEdges"/>
<polyline points="88.2,160.4 88.2,158 125.6,158 125.6,160.4" fill="none" stroke="#1a1a1a" stroke-width="1" shape-rendering="crispEdges"/>
<line x1="107.4" y1="158" x2="107.4" y2="160.4" stroke="#1a1a1a" stroke-width="1" shape-rendering="crispEdges"/>
<text x="97.8" y="157.1" font-size="7" text-anchor="middle" fill="#222" font-weight="normal">***</text>
<text x="116.5" y="157.1" font-size="7" text-anchor="middle" fill="#222" font-weight="normal">*</text>
<line x1="182.3" y1="151.5" x2="182.3" y2="221.1" stroke="#1a1a1a" stroke-width="1" shape-rendering="crispEdges"/>
<line x1="182.3" y1="221.1" x2="233" y2="221.1" stroke="#1a1a1a" stroke-width="1" shape-rendering="crispEdges"/>
<line x1="179.7" y1="221.1" x2="182.3" y2="221.1" stroke="#1a1a1a" stroke-width="1" shape-rendering="crispEdges"/>
<text x="177.3" y="223.8" font-size="7.5" text-anchor="end" fill="#222" font-weight="normal">0</text>
<line x1="179.7" y1="203.8" x2="182.3" y2="203.8" stroke="#1a1a1a" stroke-width="1" shape-rendering="crispEdges"/>
<text x="177.3" y="206.5" font-size="7.5" text-anchor="end" fill="#222" font-weight="normal">1</text>
<line x1="179.7" y1="186.5" x2="182.3" y2="186.5" stroke="#1a1a1a" stroke-width="1" shape-rendering="crispEdges"/>
<text x="177.3" y="189.2" font-size="7.5" text-anchor="end" fill="#222" font-weight="normal">2</text>
<line x1="179.7" y1="169.3" x2="182.3" y2="169.3" stroke="#1a1a1a" stroke-width="1" shape-rendering="crispEdges"/>
<text x="177.3" y="172" font-size="7.5" text-anchor="end" fill="#222" font-weight="normal">3</text>
<line x1="179.7" y1="152" x2="182.3" y2="152" stroke="#1a1a1a" stroke-width="1" shape-rendering="crispEdges"/>
<text x="177.3" y="154.7" font-size="7.5" text-anchor="end" fill="#222" font-weight="normal">4</text>
<line x1="189.7" y1="221.1" x2="189.7" y2="223.7" stroke="#1a1a1a" stroke-width="1" shape-rendering="crispEdges"/>
<line x1="207.9" y1="221.1" x2="207.9" y2="223.7" stroke="#1a1a1a" stroke-width="1" shape-rendering="crispEdges"/>
<line x1="226.1" y1="221.1" x2="226.1" y2="223.7" stroke="#1a1a1a" stroke-width="1" shape-rendering="crispEdges"/>
<circle cx="189.7" cy="220.75" r="2.3" fill="#421a55"/>
<circle cx="191.3" cy="221.1" r="2.3" fill="#421a55"/>
<circle cx="188.1" cy="220.93" r="2.3" fill="#421a55"/>
<rect x="205.9" y="164.68" width="4" height="4" fill="#c8102e"/>
<rect x="205.9" y="181.96" width="4" height="4" fill="#c8102e"/>
<rect x="205.9" y="189.73" width="4" height="4" fill="#c8102e"/>
<rect x="204.3" y="191.46" width="4" height="4" fill="#c8102e"/>
<rect x="205.9" y="193.19" width="4" height="4" fill="#c8102e"/>
<rect x="205.9" y="198.37" width="4" height="4" fill="#c8102e"/>
<rect x="205.9" y="203.55" width="4" height="4" fill="#c8102e"/>
<rect x="204.3" y="205.28" width="4" height="4" fill="#c8102e"/>
<rect x="205.9" y="210.46" width="4" height="4" fill="#c8102e"/>
<rect x="205.9" y="218.24" width="4" height="4" fill="#c8102e"/>
<path d="M226.1 206.41L228.7 210.91L223.5 210.91Z" fill="#184a85"/>
<path d="M226.1 209.86L228.7 214.36L223.5 214.36Z" fill="#184a85"/>
<path d="M224.5 211.59L227.1 216.09L221.9 216.09Z" fill="#184a85"/>
<path d="M226.1 213.32L228.7 217.82L223.5 217.82Z" fill="#184a85"/>
<path d="M224.5 215.04L227.1 219.54L221.9 219.54Z" fill="#184a85"/>
<path d="M226.1 215.91L228.7 220.41L223.5 220.41Z" fill="#184a85"/>
<path d="M227.7 216.77L230.3 221.27L225.1 221.27Z" fill="#184a85"/>
<path d="M224.5 217.64L227.1 222.14L221.9 222.14Z" fill="#184a85"/>
<line x1="202.7" y1="200.37" x2="213.1" y2="200.37" stroke="#2a2a2a" stroke-width="0.9" shape-rendering="crispEdges"/>
<line x1="207.9" y1="195.19" x2="207.9" y2="205.55" stroke="#2a2a2a" stroke-width="0.9" shape-rendering="crispEdges"/>
<line x1="205.2" y1="195.19" x2="210.6" y2="195.19" stroke="#2a2a2a" stroke-width="0.9" shape-rendering="crispEdges"/>
<line x1="205.2" y1="205.55" x2="210.6" y2="205.55" stroke="#2a2a2a" stroke-width="0.9" shape-rendering="crispEdges"/>
<line x1="220.9" y1="215.92" x2="231.3" y2="215.92" stroke="#1c2438" stroke-width="0.9" shape-rendering="crispEdges"/>
<line x1="226.1" y1="214.19" x2="226.1" y2="217.64" stroke="#1c2438" stroke-width="0.9" shape-rendering="crispEdges"/>
<line x1="223.4" y1="214.19" x2="228.8" y2="214.19" stroke="#1c2438" stroke-width="0.9" shape-rendering="crispEdges"/>
<line x1="223.4" y1="217.64" x2="228.8" y2="217.64" stroke="#1c2438" stroke-width="0.9" shape-rendering="crispEdges"/>
<polyline points="188.7,157.5 188.7,155.1 226.1,155.1 226.1,157.5" fill="none" stroke="#1a1a1a" stroke-width="1" shape-rendering="crispEdges"/>
<line x1="207.9" y1="155.1" x2="207.9" y2="157.5" stroke="#1a1a1a" stroke-width="1" shape-rendering="crispEdges"/>
<text x="198.3" y="154.2" font-size="7" text-anchor="middle" fill="#222" font-weight="normal">**</text>
<text x="217" y="154.2" font-size="7" text-anchor="middle" fill="#222" font-weight="normal">**</text>
<line x1="276.4" y1="151.5" x2="276.4" y2="220.8" stroke="#1a1a1a" stroke-width="1" shape-rendering="crispEdges"/>
<line x1="276.4" y1="220.8" x2="327" y2="220.8" stroke="#1a1a1a" stroke-width="1" shape-rendering="crispEdges"/>
<line x1="273.8" y1="220.8" x2="276.4" y2="220.8" stroke="#1a1a1a" stroke-width="1" shape-rendering="crispEdges"/>
<text x="271.4" y="223.5" font-size="7.5" text-anchor="end" fill="#222" font-weight="normal">0</text>
<line x1="273.8" y1="198" x2="276.4" y2="198" stroke="#1a1a1a" stroke-width="1" shape-rendering="crispEdges"/>
<text x="271.4" y="200.7" font-size="7.5" text-anchor="end" fill="#222" font-weight="normal">2</text>
<line x1="273.8" y1="175.3" x2="276.4" y2="175.3" stroke="#1a1a1a" stroke-width="1" shape-rendering="crispEdges"/>
<text x="271.4" y="178" font-size="7.5" text-anchor="end" fill="#222" font-weight="normal">4</text>
<line x1="273.8" y1="152.5" x2="276.4" y2="152.5" stroke="#1a1a1a" stroke-width="1" shape-rendering="crispEdges"/>
<text x="271.4" y="155.2" font-size="7.5" text-anchor="end" fill="#222" font-weight="normal">6</text>
<line x1="283.4" y1="220.8" x2="283.4" y2="223.4" stroke="#1a1a1a" stroke-width="1" shape-rendering="crispEdges"/>
<line x1="301.6" y1="220.8" x2="301.6" y2="223.4" stroke="#1a1a1a" stroke-width="1" shape-rendering="crispEdges"/>
<line x1="319.8" y1="220.8" x2="319.8" y2="223.4" stroke="#1a1a1a" stroke-width="1" shape-rendering="crispEdges"/>
<circle cx="283.4" cy="217.16" r="2.3" fill="#421a55"/>
<circle cx="281.8" cy="218.3" r="2.3" fill="#421a55"/>
<circle cx="285" cy="219.09" r="2.3" fill="#421a55"/>
<circle cx="283.4" cy="219.89" r="2.3" fill="#421a55"/>
<rect x="299.6" y="159.61" width="4" height="4" fill="#c8102e"/>
<rect x="299.6" y="165.3" width="4" height="4" fill="#c8102e"/>
<rect x="299.6" y="170.99" width="4" height="4" fill="#c8102e"/>
<rect x="299.6" y="181.24" width="4" height="4" fill="#c8102e"/>
<rect x="299.6" y="184.65" width="4" height="4" fill="#c8102e"/>
<rect x="298" y="185.79" width="4" height="4" fill="#c8102e"/>
<rect x="299.6" y="189.2" width="4" height="4" fill="#c8102e"/>
<rect x="298" y="190.34" width="4" height="4" fill="#c8102e"/>
<rect x="299.6" y="194.9" width="4" height="4" fill="#c8102e"/>
<rect x="299.6" y="200.59" width="4" height="4" fill="#c8102e"/>
<rect x="299.6" y="207.42" width="4" height="4" fill="#c8102e"/>
<path d="M319.8 162.42L322.4 166.92L317.2 166.92Z" fill="#184a85"/>
<path d="M319.8 173.81L322.4 178.31L317.2 178.31Z" fill="#184a85"/>
<path d="M319.8 180.64L322.4 185.14L317.2 185.14Z" fill="#184a85"/>
<path d="M318.2 182.91L320.8 187.41L315.6 187.41Z" fill="#184a85"/>
<path d="M319.8 186.33L322.4 190.83L317.2 190.83Z" fill="#184a85"/>
<path d="M319.8 189.74L322.4 194.24L317.2 194.24Z" fill="#184a85"/>
<path d="M318.2 192.02L320.8 196.52L315.6 196.52Z" fill="#184a85"/>
<path d="M319.8 195.43L322.4 199.93L317.2 199.93Z" fill="#184a85"/>
<path d="M318.2 197.71L320.8 202.21L315.6 202.21Z" fill="#184a85"/>
<line x1="296.4" y1="186.65" x2="306.8" y2="186.65" stroke="#2a2a2a" stroke-width="0.9" shape-rendering="crispEdges"/>
<line x1="301.6" y1="182.1" x2="301.6" y2="191.2" stroke="#2a2a2a" stroke-width="0.9" shape-rendering="crispEdges"/>
<line x1="298.9" y1="182.1" x2="304.3" y2="182.1" stroke="#2a2a2a" stroke-width="0.9" shape-rendering="crispEdges"/>
<line x1="298.9" y1="191.2" x2="304.3" y2="191.2" stroke="#2a2a2a" stroke-width="0.9" shape-rendering="crispEdges"/>
<line x1="314.6" y1="188.36" x2="325" y2="188.36" stroke="#1c2438" stroke-width="0.9" shape-rendering="crispEdges"/>
<line x1="319.8" y1="184.37" x2="319.8" y2="192.34" stroke="#1c2438" stroke-width="0.9" shape-rendering="crispEdges"/>
<line x1="317.1" y1="184.37" x2="322.5" y2="184.37" stroke="#1c2438" stroke-width="0.9" shape-rendering="crispEdges"/>
<line x1="317.1" y1="192.34" x2="322.5" y2="192.34" stroke="#1c2438" stroke-width="0.9" shape-rendering="crispEdges"/>
<polyline points="283.4,144.4 283.4,142 319.8,142 319.8,144.4" fill="none" stroke="#1a1a1a" stroke-width="1" shape-rendering="crispEdges"/>
<text x="301.6" y="141.1" font-size="7" text-anchor="middle" fill="#222" font-weight="normal">***</text>
<polyline points="283.4,153.8 283.4,151.4 301.6,151.4 301.6,153.8" fill="none" stroke="#1a1a1a" stroke-width="1" shape-rendering="crispEdges"/>
<text x="292.5" y="150.5" font-size="7" text-anchor="middle" fill="#222" font-weight="normal">****</text>
<line x1="372.7" y1="150" x2="372.7" y2="182.6" stroke="#1a1a1a" stroke-width="1" shape-rendering="crispEdges"/>
<line x1="372.7" y1="187.6" x2="372.7" y2="220.8" stroke="#1a1a1a" stroke-width="1" shape-rendering="crispEdges"/>
<path d="M370.9 182.1l3.6 3.8M370.9 187.1l3.6 3.8" stroke="#1a1a1a" stroke-width="0.9" fill="none"/>
<line x1="372.7" y1="220.8" x2="424" y2="220.8" stroke="#1a1a1a" stroke-width="1" shape-rendering="crispEdges"/>
<line x1="370.1" y1="220.8" x2="372.7" y2="220.8" stroke="#1a1a1a" stroke-width="1" shape-rendering="crispEdges"/>
<text x="367.7" y="223.5" font-size="7.5" text-anchor="end" fill="#222" font-weight="normal">0.00</text>
<line x1="370.1" y1="212.9" x2="372.7" y2="212.9" stroke="#1a1a1a" stroke-width="1" shape-rendering="crispEdges"/>
<text x="367.7" y="215.6" font-size="7.5" text-anchor="end" fill="#222" font-weight="normal">0.05</text>
<line x1="370.1" y1="204.9" x2="372.7" y2="204.9" stroke="#1a1a1a" stroke-width="1" shape-rendering="crispEdges"/>
<text x="367.7" y="207.6" font-size="7.5" text-anchor="end" fill="#222" font-weight="normal">0.10</text>
<line x1="370.1" y1="197" x2="372.7" y2="197" stroke="#1a1a1a" stroke-width="1" shape-rendering="crispEdges"/>
<text x="367.7" y="199.7" font-size="7.5" text-anchor="end" fill="#222" font-weight="normal">0.15</text>
<line x1="370.1" y1="189" x2="372.7" y2="189" stroke="#1a1a1a" stroke-width="1" shape-rendering="crispEdges"/>
<text x="367.7" y="191.7" font-size="7.5" text-anchor="end" fill="#222" font-weight="normal">0.20</text>
<line x1="370.1" y1="177.3" x2="372.7" y2="177.3" stroke="#1a1a1a" stroke-width="1" shape-rendering="crispEdges"/>
<text x="367.7" y="180" font-size="7.5" text-anchor="end" fill="#222" font-weight="normal">1.00</text>
<line x1="370.1" y1="169" x2="372.7" y2="169" stroke="#1a1a1a" stroke-width="1" shape-rendering="crispEdges"/>
<text x="367.7" y="171.7" font-size="7.5" text-anchor="end" fill="#222" font-weight="normal">2.00</text>
<line x1="370.1" y1="160.8" x2="372.7" y2="160.8" stroke="#1a1a1a" stroke-width="1" shape-rendering="crispEdges"/>
<text x="367.7" y="163.5" font-size="7.5" text-anchor="end" fill="#222" font-weight="normal">3.00</text>
<line x1="370.1" y1="152.5" x2="372.7" y2="152.5" stroke="#1a1a1a" stroke-width="1" shape-rendering="crispEdges"/>
<text x="367.7" y="155.2" font-size="7.5" text-anchor="end" fill="#222" font-weight="normal">4.00</text>
<line x1="380.4" y1="220.8" x2="380.4" y2="223.4" stroke="#1a1a1a" stroke-width="1" shape-rendering="crispEdges"/>
<line x1="398.6" y1="220.8" x2="398.6" y2="223.4" stroke="#1a1a1a" stroke-width="1" shape-rendering="crispEdges"/>
<line x1="416.8" y1="220.8" x2="416.8" y2="223.4" stroke="#1a1a1a" stroke-width="1" shape-rendering="crispEdges"/>
<circle cx="380.4" cy="154.98" r="2.3" fill="#421a55"/>
<circle cx="380.4" cy="169.03" r="2.3" fill="#421a55"/>
<circle cx="380.4" cy="176.5" r="2.3" fill="#421a55"/>
<circle cx="380.4" cy="182.3" r="2.3" fill="#421a55"/>
<circle cx="380.4" cy="203.31" r="2.3" fill="#421a55"/>
<circle cx="380.4" cy="211.26" r="2.3" fill="#421a55"/>
<rect x="396.6" y="180.3" width="4" height="4" fill="#c8102e"/>
<rect x="396.6" y="201.31" width="4" height="4" fill="#c8102e"/>
<rect x="395" y="202.9" width="4" height="4" fill="#c8102e"/>
<rect x="396.6" y="204.49" width="4" height="4" fill="#c8102e"/>
<rect x="396.6" y="207.67" width="4" height="4" fill="#c8102e"/>
<rect x="395" y="209.26" width="4" height="4" fill="#c8102e"/>
<rect x="396.6" y="210.85" width="4" height="4" fill="#c8102e"/>
<rect x="398.2" y="211.65" width="4" height="4" fill="#c8102e"/>
<rect x="395" y="212.44" width="4" height="4" fill="#c8102e"/>
<path d="M416.8 181L419.4 185.5L414.2 185.5Z" fill="#184a85"/>
<path d="M416.8 191.17L419.4 195.67L414.2 195.67Z" fill="#184a85"/>
<path d="M416.8 195.94L419.4 200.44L414.2 200.44Z" fill="#184a85"/>
<path d="M416.8 199.12L419.4 203.62L414.2 203.62Z" fill="#184a85"/>
<path d="M415.2 200.71L417.8 205.21L412.6 205.21Z" fill="#184a85"/>
<path d="M416.8 202.3L419.4 206.8L414.2 206.8Z" fill="#184a85"/>
<line x1="375.2" y1="175.6" x2="385.6" y2="175.6" stroke="#5e4a6c" stroke-width="0.9" shape-rendering="crispEdges"/>
<line x1="380.4" y1="171.2" x2="380.4" y2="179.5" stroke="#5e4a6c" stroke-width="0.9" shape-rendering="crispEdges"/>
<line x1="377.7" y1="171.2" x2="383.1" y2="171.2" stroke="#5e4a6c" stroke-width="0.9" shape-rendering="crispEdges"/>
<line x1="377.7" y1="179.5" x2="383.1" y2="179.5" stroke="#5e4a6c" stroke-width="0.9" shape-rendering="crispEdges"/>
<line x1="393.4" y1="208.08" x2="403.8" y2="208.08" stroke="#2a2a2a" stroke-width="0.9" shape-rendering="crispEdges"/>
<line x1="411.6" y1="196.95" x2="422" y2="196.95" stroke="#1c2438" stroke-width="0.9" shape-rendering="crispEdges"/>
<line x1="416.8" y1="194.56" x2="416.8" y2="200.13" stroke="#1c2438" stroke-width="0.9" shape-rendering="crispEdges"/>
<line x1="414.1" y1="194.56" x2="419.5" y2="194.56" stroke="#1c2438" stroke-width="0.9" shape-rendering="crispEdges"/>
<line x1="414.1" y1="200.13" x2="419.5" y2="200.13" stroke="#1c2438" stroke-width="0.9" shape-rendering="crispEdges"/>
<polyline points="379.4,150.1 379.4,147.7 416.8,147.7 416.8,150.1" fill="none" stroke="#1a1a1a" stroke-width="1" shape-rendering="crispEdges"/>
<line x1="398.6" y1="147.7" x2="398.6" y2="150.1" stroke="#1a1a1a" stroke-width="1" shape-rendering="crispEdges"/>
<text x="389" y="146.8" font-size="7" text-anchor="middle" fill="#222" font-weight="normal">**</text>
<text x="407.7" y="146.8" font-size="7" text-anchor="middle" fill="#222" font-weight="normal">*</text>
<line x1="461.3" y1="150" x2="461.3" y2="182.6" stroke="#1a1a1a" stroke-width="1" shape-rendering="crispEdges"/>
<line x1="461.3" y1="187.6" x2="461.3" y2="220.8" stroke="#1a1a1a" stroke-width="1" shape-rendering="crispEdges"/>
<path d="M459.5 182.1l3.6 3.8M459.5 187.1l3.6 3.8" stroke="#1a1a1a" stroke-width="0.9" fill="none"/>
<line x1="461.3" y1="220.8" x2="512" y2="220.8" stroke="#1a1a1a" stroke-width="1" shape-rendering="crispEdges"/>
<line x1="458.7" y1="220.8" x2="461.3" y2="220.8" stroke="#1a1a1a" stroke-width="1" shape-rendering="crispEdges"/>
<text x="456.3" y="223.5" font-size="7.5" text-anchor="end" fill="#222" font-weight="normal">0.00</text>
<line x1="458.7" y1="212.9" x2="461.3" y2="212.9" stroke="#1a1a1a" stroke-width="1" shape-rendering="crispEdges"/>
<text x="456.3" y="215.6" font-size="7.5" text-anchor="end" fill="#222" font-weight="normal">0.05</text>
<line x1="458.7" y1="204.9" x2="461.3" y2="204.9" stroke="#1a1a1a" stroke-width="1" shape-rendering="crispEdges"/>
<text x="456.3" y="207.6" font-size="7.5" text-anchor="end" fill="#222" font-weight="normal">0.10</text>
<line x1="458.7" y1="197" x2="461.3" y2="197" stroke="#1a1a1a" stroke-width="1" shape-rendering="crispEdges"/>
<text x="456.3" y="199.7" font-size="7.5" text-anchor="end" fill="#222" font-weight="normal">0.15</text>
<line x1="458.7" y1="189" x2="461.3" y2="189" stroke="#1a1a1a" stroke-width="1" shape-rendering="crispEdges"/>
<text x="456.3" y="191.7" font-size="7.5" text-anchor="end" fill="#222" font-weight="normal">0.20</text>
<line x1="458.7" y1="177.3" x2="461.3" y2="177.3" stroke="#1a1a1a" stroke-width="1" shape-rendering="crispEdges"/>
<text x="456.3" y="180" font-size="7.5" text-anchor="end" fill="#222" font-weight="normal">1.00</text>
<line x1="458.7" y1="168.9" x2="461.3" y2="168.9" stroke="#1a1a1a" stroke-width="1" shape-rendering="crispEdges"/>
<text x="456.3" y="171.6" font-size="7.5" text-anchor="end" fill="#222" font-weight="normal">2.00</text>
<line x1="458.7" y1="160.4" x2="461.3" y2="160.4" stroke="#1a1a1a" stroke-width="1" shape-rendering="crispEdges"/>
<text x="456.3" y="163.1" font-size="7.5" text-anchor="end" fill="#222" font-weight="normal">3.00</text>
<line x1="458.7" y1="152" x2="461.3" y2="152" stroke="#1a1a1a" stroke-width="1" shape-rendering="crispEdges"/>
<text x="456.3" y="154.7" font-size="7.5" text-anchor="end" fill="#222" font-weight="normal">4.00</text>
<line x1="469" y1="220.8" x2="469" y2="223.4" stroke="#1a1a1a" stroke-width="1" shape-rendering="crispEdges"/>
<line x1="487.2" y1="220.8" x2="487.2" y2="223.4" stroke="#1a1a1a" stroke-width="1" shape-rendering="crispEdges"/>
<line x1="505.4" y1="220.8" x2="505.4" y2="223.4" stroke="#1a1a1a" stroke-width="1" shape-rendering="crispEdges"/>
<circle cx="469" cy="155.37" r="2.3" fill="#421a55"/>
<circle cx="469" cy="168.87" r="2.3" fill="#421a55"/>
<circle cx="467.4" cy="170.55" r="2.3" fill="#421a55"/>
<circle cx="469" cy="178.8" r="2.3" fill="#421a55"/>
<circle cx="469" cy="184.2" r="2.3" fill="#421a55"/>
<circle cx="469" cy="193.77" r="2.3" fill="#421a55"/>
<circle cx="469" cy="204.9" r="2.3" fill="#421a55"/>
<rect x="485.2" y="181.7" width="4" height="4" fill="#c8102e"/>
<rect x="485.2" y="210.85" width="4" height="4" fill="#c8102e"/>
<rect x="483.6" y="212.44" width="4" height="4" fill="#c8102e"/>
<rect x="485.2" y="214.03" width="4" height="4" fill="#c8102e"/>
<rect x="483.6" y="215.62" width="4" height="4" fill="#c8102e"/>
<rect x="486.8" y="216.42" width="4" height="4" fill="#c8102e"/>
<rect x="485.2" y="217.21" width="4" height="4" fill="#c8102e"/>
<rect x="482" y="217.53" width="4" height="4" fill="#c8102e"/>
<rect x="488.4" y="218.01" width="4" height="4" fill="#c8102e"/>
<path d="M505.4 181.1L508 185.6L502.8 185.6Z" fill="#184a85"/>
<path d="M505.4 191.17L508 195.67L502.8 195.67Z" fill="#184a85"/>
<path d="M505.4 194.35L508 198.85L502.8 198.85Z" fill="#184a85"/>
<path d="M505.4 197.53L508 202.03L502.8 202.03Z" fill="#184a85"/>
<path d="M503.8 199.12L506.4 203.62L501.2 203.62Z" fill="#184a85"/>
<path d="M505.4 202.3L508 206.8L502.8 206.8Z" fill="#184a85"/>
<path d="M503.8 203.89L506.4 208.39L501.2 208.39Z" fill="#184a85"/>
<path d="M505.4 205.48L508 209.98L502.8 209.98Z" fill="#184a85"/>
<line x1="463.8" y1="176.3" x2="474.2" y2="176.3" stroke="#5e4a6c" stroke-width="0.9" shape-rendering="crispEdges"/>
<line x1="482" y1="214.44" x2="492.4" y2="214.44" stroke="#2a2a2a" stroke-width="0.9" shape-rendering="crispEdges"/>
<line x1="487.2" y1="209.67" x2="487.2" y2="217.62" stroke="#2a2a2a" stroke-width="0.9" shape-rendering="crispEdges"/>
<line x1="484.5" y1="209.67" x2="489.9" y2="209.67" stroke="#2a2a2a" stroke-width="0.9" shape-rendering="crispEdges"/>
<line x1="484.5" y1="217.62" x2="489.9" y2="217.62" stroke="#2a2a2a" stroke-width="0.9" shape-rendering="crispEdges"/>
<line x1="500.2" y1="200.13" x2="510.6" y2="200.13" stroke="#1c2438" stroke-width="0.9" shape-rendering="crispEdges"/>
<line x1="505.4" y1="196.95" x2="505.4" y2="203.31" stroke="#1c2438" stroke-width="0.9" shape-rendering="crispEdges"/>
<line x1="502.7" y1="196.95" x2="508.1" y2="196.95" stroke="#1c2438" stroke-width="0.9" shape-rendering="crispEdges"/>
<line x1="502.7" y1="203.31" x2="508.1" y2="203.31" stroke="#1c2438" stroke-width="0.9" shape-rendering="crispEdges"/>
<polyline points="466,144.7 466,142.3 505.4,142.3 505.4,144.7" fill="none" stroke="#1a1a1a" stroke-width="1" shape-rendering="crispEdges"/>
<text x="485.7" y="141.4" font-size="7" text-anchor="middle" fill="#222" font-weight="normal">*</text>
<polyline points="468,153.4 468,151 505.4,151 505.4,153.4" fill="none" stroke="#1a1a1a" stroke-width="1" shape-rendering="crispEdges"/>
<line x1="487.2" y1="151" x2="487.2" y2="153.4" stroke="#1a1a1a" stroke-width="1" shape-rendering="crispEdges"/>
<text x="477.6" y="150.1" font-size="7" text-anchor="middle" fill="#222" font-weight="normal">**</text>
<text x="496.3" y="150.1" font-size="7" text-anchor="middle" fill="#222" font-weight="normal">**</text>
<line x1="80.8" y1="247.5" x2="80.8" y2="317.1" stroke="#1a1a1a" stroke-width="1" shape-rendering="crispEdges"/>
<line x1="80.8" y1="317.1" x2="133.7" y2="317.1" stroke="#1a1a1a" stroke-width="1" shape-rendering="crispEdges"/>
<line x1="78.2" y1="317.1" x2="80.8" y2="317.1" stroke="#1a1a1a" stroke-width="1" shape-rendering="crispEdges"/>
<text x="75.8" y="319.8" font-size="7.2" text-anchor="end" fill="#222" font-weight="normal">0</text>
<line x1="78.2" y1="303.3" x2="80.8" y2="303.3" stroke="#1a1a1a" stroke-width="1" shape-rendering="crispEdges"/>
<text x="75.8" y="306" font-size="7.2" text-anchor="end" fill="#222" font-weight="normal">0.5</text>
<line x1="78.2" y1="289.5" x2="80.8" y2="289.5" stroke="#1a1a1a" stroke-width="1" shape-rendering="crispEdges"/>
<text x="75.8" y="292.2" font-size="7.2" text-anchor="end" fill="#222" font-weight="normal">1.0</text>
<line x1="78.2" y1="275.7" x2="80.8" y2="275.7" stroke="#1a1a1a" stroke-width="1" shape-rendering="crispEdges"/>
<text x="75.8" y="278.4" font-size="7.2" text-anchor="end" fill="#222" font-weight="normal">1.5</text>
<line x1="78.2" y1="261.9" x2="80.8" y2="261.9" stroke="#1a1a1a" stroke-width="1" shape-rendering="crispEdges"/>
<text x="75.8" y="264.6" font-size="7.2" text-anchor="end" fill="#222" font-weight="normal">2.0</text>
<line x1="78.2" y1="248.1" x2="80.8" y2="248.1" stroke="#1a1a1a" stroke-width="1" shape-rendering="crispEdges"/>
<text x="75.8" y="250.8" font-size="7.2" text-anchor="end" fill="#222" font-weight="normal">2.5</text>
<line x1="91.5" y1="317.1" x2="91.5" y2="319.7" stroke="#1a1a1a" stroke-width="1" shape-rendering="crispEdges"/>
<line x1="107" y1="317.1" x2="107" y2="319.7" stroke="#1a1a1a" stroke-width="1" shape-rendering="crispEdges"/>
<line x1="122.5" y1="317.1" x2="122.5" y2="319.7" stroke="#1a1a1a" stroke-width="1" shape-rendering="crispEdges"/>
<circle cx="91.5" cy="290.33" r="2.3" fill="#421a55"/>
<circle cx="91.5" cy="312.96" r="2.3" fill="#421a55"/>
<circle cx="88.7" cy="312.96" r="2.3" fill="#421a55"/>
<rect x="105" y="255.76" width="4" height="4" fill="#c8102e"/>
<rect x="105" y="301.3" width="4" height="4" fill="#c8102e"/>
<rect x="102.2" y="302.68" width="4" height="4" fill="#c8102e"/>
<rect x="105" y="305.44" width="4" height="4" fill="#c8102e"/>
<rect x="102.2" y="308.2" width="4" height="4" fill="#c8102e"/>
<rect x="105" y="313.72" width="4" height="4" fill="#c8102e"/>
<path d="M122.5 288.28L125.1 292.78L119.9 292.78Z" fill="#184a85"/>
<path d="M122.5 291.87L125.1 296.37L119.9 296.37Z" fill="#184a85"/>
<path d="M119.7 294.63L122.3 299.13L117.1 299.13Z" fill="#184a85"/>
<path d="M122.5 297.94L125.1 302.44L119.9 302.44Z" fill="#184a85"/>
<path d="M122.5 302.91L125.1 307.41L119.9 307.41Z" fill="#184a85"/>
<path d="M119.7 304.84L122.3 309.34L117.1 309.34Z" fill="#184a85"/>
<line x1="86.3" y1="305.51" x2="96.7" y2="305.51" stroke="#5e4a6c" stroke-width="0.9" shape-rendering="crispEdges"/>
<line x1="91.5" y1="297.78" x2="91.5" y2="312.96" stroke="#5e4a6c" stroke-width="0.9" shape-rendering="crispEdges"/>
<line x1="88.8" y1="297.78" x2="94.2" y2="297.78" stroke="#5e4a6c" stroke-width="0.9" shape-rendering="crispEdges"/>
<line x1="88.8" y1="312.96" x2="94.2" y2="312.96" stroke="#5e4a6c" stroke-width="0.9" shape-rendering="crispEdges"/>
<line x1="101.8" y1="298.61" x2="112.2" y2="298.61" stroke="#2a2a2a" stroke-width="0.9" shape-rendering="crispEdges"/>
<line x1="107" y1="288.12" x2="107" y2="308.82" stroke="#2a2a2a" stroke-width="0.9" shape-rendering="crispEdges"/>
<line x1="104.3" y1="288.12" x2="109.7" y2="288.12" stroke="#2a2a2a" stroke-width="0.9" shape-rendering="crispEdges"/>
<line x1="104.3" y1="308.82" x2="109.7" y2="308.82" stroke="#2a2a2a" stroke-width="0.9" shape-rendering="crispEdges"/>
<line x1="117.3" y1="301.37" x2="127.7" y2="301.37" stroke="#1c2438" stroke-width="0.9" shape-rendering="crispEdges"/>
<line x1="122.5" y1="297.78" x2="122.5" y2="304.68" stroke="#1c2438" stroke-width="0.9" shape-rendering="crispEdges"/>
<line x1="119.8" y1="297.78" x2="125.2" y2="297.78" stroke="#1c2438" stroke-width="0.9" shape-rendering="crispEdges"/>
<line x1="119.8" y1="304.68" x2="125.2" y2="304.68" stroke="#1c2438" stroke-width="0.9" shape-rendering="crispEdges"/>
<line x1="182.3" y1="247.5" x2="182.3" y2="316.9" stroke="#1a1a1a" stroke-width="1" shape-rendering="crispEdges"/>
<line x1="182.3" y1="316.9" x2="233" y2="316.9" stroke="#1a1a1a" stroke-width="1" shape-rendering="crispEdges"/>
<line x1="179.7" y1="316.9" x2="182.3" y2="316.9" stroke="#1a1a1a" stroke-width="1" shape-rendering="crispEdges"/>
<text x="177.3" y="319.6" font-size="7.2" text-anchor="end" fill="#222" font-weight="normal">0</text>
<line x1="179.7" y1="299.7" x2="182.3" y2="299.7" stroke="#1a1a1a" stroke-width="1" shape-rendering="crispEdges"/>
<text x="177.3" y="302.4" font-size="7.2" text-anchor="end" fill="#222" font-weight="normal">0.5</text>
<line x1="179.7" y1="282.5" x2="182.3" y2="282.5" stroke="#1a1a1a" stroke-width="1" shape-rendering="crispEdges"/>
<text x="177.3" y="285.2" font-size="7.2" text-anchor="end" fill="#222" font-weight="normal">1.0</text>
<line x1="179.7" y1="265.3" x2="182.3" y2="265.3" stroke="#1a1a1a" stroke-width="1" shape-rendering="crispEdges"/>
<text x="177.3" y="268" font-size="7.2" text-anchor="end" fill="#222" font-weight="normal">1.5</text>
<line x1="179.7" y1="248.1" x2="182.3" y2="248.1" stroke="#1a1a1a" stroke-width="1" shape-rendering="crispEdges"/>
<text x="177.3" y="250.8" font-size="7.2" text-anchor="end" fill="#222" font-weight="normal">2.0</text>
<line x1="192.3" y1="316.9" x2="192.3" y2="319.5" stroke="#1a1a1a" stroke-width="1" shape-rendering="crispEdges"/>
<line x1="207.8" y1="316.9" x2="207.8" y2="319.5" stroke="#1a1a1a" stroke-width="1" shape-rendering="crispEdges"/>
<line x1="223.3" y1="316.9" x2="223.3" y2="319.5" stroke="#1a1a1a" stroke-width="1" shape-rendering="crispEdges"/>
<circle cx="192.3" cy="265.3" r="2.3" fill="#421a55"/>
<circle cx="192.3" cy="299.7" r="2.3" fill="#421a55"/>
<circle cx="192.3" cy="307.61" r="2.3" fill="#421a55"/>
<rect x="205.8" y="271.9" width="4" height="4" fill="#c8102e"/>
<rect x="205.8" y="301.83" width="4" height="4" fill="#c8102e"/>
<rect x="203" y="304.58" width="4" height="4" fill="#c8102e"/>
<rect x="205.8" y="305.61" width="4" height="4" fill="#c8102e"/>
<rect x="205.8" y="313.87" width="4" height="4" fill="#c8102e"/>
<path d="M223.3 276.46L225.9 280.96L220.7 280.96Z" fill="#184a85"/>
<path d="M223.3 285.06L225.9 289.56L220.7 289.56Z" fill="#184a85"/>
<path d="M223.3 288.5L225.9 293L220.7 293Z" fill="#184a85"/>
<path d="M223.3 291.94L225.9 296.44L220.7 296.44Z" fill="#184a85"/>
<path d="M223.3 295.38L225.9 299.88L220.7 299.88Z" fill="#184a85"/>
<path d="M223.3 303.98L225.9 308.48L220.7 308.48Z" fill="#184a85"/>
<path d="M220.5 303.98L223.1 308.48L217.9 308.48Z" fill="#184a85"/>
<path d="M226.1 304.67L228.7 309.17L223.5 309.17Z" fill="#184a85"/>
<line x1="187.1" y1="291.1" x2="197.5" y2="291.1" stroke="#5e4a6c" stroke-width="0.9" shape-rendering="crispEdges"/>
<line x1="192.3" y1="278.03" x2="192.3" y2="304.17" stroke="#5e4a6c" stroke-width="0.9" shape-rendering="crispEdges"/>
<line x1="189.6" y1="278.03" x2="195" y2="278.03" stroke="#5e4a6c" stroke-width="0.9" shape-rendering="crispEdges"/>
<line x1="189.6" y1="304.17" x2="195" y2="304.17" stroke="#5e4a6c" stroke-width="0.9" shape-rendering="crispEdges"/>
<line x1="202.6" y1="301.42" x2="213" y2="301.42" stroke="#2a2a2a" stroke-width="0.9" shape-rendering="crispEdges"/>
<line x1="207.8" y1="293.85" x2="207.8" y2="308.99" stroke="#2a2a2a" stroke-width="0.9" shape-rendering="crispEdges"/>
<line x1="205.1" y1="293.85" x2="210.5" y2="293.85" stroke="#2a2a2a" stroke-width="0.9" shape-rendering="crispEdges"/>
<line x1="205.1" y1="308.99" x2="210.5" y2="308.99" stroke="#2a2a2a" stroke-width="0.9" shape-rendering="crispEdges"/>
<line x1="218.1" y1="296.26" x2="228.5" y2="296.26" stroke="#1c2438" stroke-width="0.9" shape-rendering="crispEdges"/>
<line x1="223.3" y1="292.82" x2="223.3" y2="299.7" stroke="#1c2438" stroke-width="0.9" shape-rendering="crispEdges"/>
<line x1="220.6" y1="292.82" x2="226" y2="292.82" stroke="#1c2438" stroke-width="0.9" shape-rendering="crispEdges"/>
<line x1="220.6" y1="299.7" x2="226" y2="299.7" stroke="#1c2438" stroke-width="0.9" shape-rendering="crispEdges"/>
<line x1="276.4" y1="247.5" x2="276.4" y2="316.7" stroke="#1a1a1a" stroke-width="1" shape-rendering="crispEdges"/>
<line x1="276.4" y1="316.7" x2="327" y2="316.7" stroke="#1a1a1a" stroke-width="1" shape-rendering="crispEdges"/>
<line x1="273.8" y1="316.7" x2="276.4" y2="316.7" stroke="#1a1a1a" stroke-width="1" shape-rendering="crispEdges"/>
<text x="271.4" y="319.4" font-size="7.5" text-anchor="end" fill="#222" font-weight="normal">0</text>
<line x1="273.8" y1="299.6" x2="276.4" y2="299.6" stroke="#1a1a1a" stroke-width="1" shape-rendering="crispEdges"/>
<text x="271.4" y="302.3" font-size="7.5" text-anchor="end" fill="#222" font-weight="normal">2</text>
<line x1="273.8" y1="282.5" x2="276.4" y2="282.5" stroke="#1a1a1a" stroke-width="1" shape-rendering="crispEdges"/>
<text x="271.4" y="285.2" font-size="7.5" text-anchor="end" fill="#222" font-weight="normal">4</text>
<line x1="273.8" y1="265.5" x2="276.4" y2="265.5" stroke="#1a1a1a" stroke-width="1" shape-rendering="crispEdges"/>
<text x="271.4" y="268.2" font-size="7.5" text-anchor="end" fill="#222" font-weight="normal">6</text>
<line x1="273.8" y1="248.4" x2="276.4" y2="248.4" stroke="#1a1a1a" stroke-width="1" shape-rendering="crispEdges"/>
<text x="271.4" y="251.1" font-size="7.5" text-anchor="end" fill="#222" font-weight="normal">8</text>
<line x1="287" y1="316.7" x2="287" y2="319.3" stroke="#1a1a1a" stroke-width="1" shape-rendering="crispEdges"/>
<line x1="302.5" y1="316.7" x2="302.5" y2="319.3" stroke="#1a1a1a" stroke-width="1" shape-rendering="crispEdges"/>
<line x1="318" y1="316.7" x2="318" y2="319.3" stroke="#1a1a1a" stroke-width="1" shape-rendering="crispEdges"/>
<circle cx="287" cy="258.64" r="2.3" fill="#421a55"/>
<circle cx="287" cy="299.62" r="2.3" fill="#421a55"/>
<circle cx="287" cy="303.89" r="2.3" fill="#421a55"/>
<rect x="300.5" y="284.82" width="4" height="4" fill="#c8102e"/>
<rect x="300.5" y="306.16" width="4" height="4" fill="#c8102e"/>
<rect x="300.5" y="311.71" width="4" height="4" fill="#c8102e"/>
<rect x="297.7" y="313.42" width="4" height="4" fill="#c8102e"/>
<rect x="303.3" y="313.85" width="4" height="4" fill="#c8102e"/>
<path d="M318 306.42L320.6 310.92L315.4 310.92Z" fill="#184a85"/>
<path d="M318 309.83L320.6 314.33L315.4 314.33Z" fill="#184a85"/>
<path d="M315.2 310.68L317.8 315.18L312.6 315.18Z" fill="#184a85"/>
<path d="M320.8 311.54L323.4 316.04L318.2 316.04Z" fill="#184a85"/>
<path d="M318 311.97L320.6 316.47L315.4 316.47Z" fill="#184a85"/>
<path d="M318 312.39L320.6 316.89L315.4 316.89Z" fill="#184a85"/>
<line x1="281.8" y1="287.67" x2="292.2" y2="287.67" stroke="#5e4a6c" stroke-width="0.9" shape-rendering="crispEdges"/>
<line x1="287" y1="272.31" x2="287" y2="303.04" stroke="#5e4a6c" stroke-width="0.9" shape-rendering="crispEdges"/>
<line x1="284.3" y1="272.31" x2="289.7" y2="272.31" stroke="#5e4a6c" stroke-width="0.9" shape-rendering="crispEdges"/>
<line x1="284.3" y1="303.04" x2="289.7" y2="303.04" stroke="#5e4a6c" stroke-width="0.9" shape-rendering="crispEdges"/>
<line x1="297.3" y1="308.16" x2="307.7" y2="308.16" stroke="#2a2a2a" stroke-width="0.9" shape-rendering="crispEdges"/>
<line x1="302.5" y1="302.19" x2="302.5" y2="314.14" stroke="#2a2a2a" stroke-width="0.9" shape-rendering="crispEdges"/>
<line x1="299.8" y1="302.19" x2="305.2" y2="302.19" stroke="#2a2a2a" stroke-width="0.9" shape-rendering="crispEdges"/>
<line x1="299.8" y1="314.14" x2="305.2" y2="314.14" stroke="#2a2a2a" stroke-width="0.9" shape-rendering="crispEdges"/>
<line x1="312.8" y1="313.28" x2="323.2" y2="313.28" stroke="#1c2438" stroke-width="0.9" shape-rendering="crispEdges"/>
<line x1="318" y1="312" x2="318" y2="314.57" stroke="#1c2438" stroke-width="0.9" shape-rendering="crispEdges"/>
<line x1="315.3" y1="312" x2="320.7" y2="312" stroke="#1c2438" stroke-width="0.9" shape-rendering="crispEdges"/>
<line x1="315.3" y1="314.57" x2="320.7" y2="314.57" stroke="#1c2438" stroke-width="0.9" shape-rendering="crispEdges"/>
<polyline points="286,246.8 286,244.4 318,244.4 318,246.8" fill="none" stroke="#1a1a1a" stroke-width="1" shape-rendering="crispEdges"/>
<text x="302" y="243.5" font-size="7" text-anchor="middle" fill="#222" font-weight="normal">*</text>
<line x1="372.7" y1="247.5" x2="372.7" y2="316.9" stroke="#1a1a1a" stroke-width="1" shape-rendering="crispEdges"/>
<line x1="372.7" y1="316.9" x2="424.6" y2="316.9" stroke="#1a1a1a" stroke-width="1" shape-rendering="crispEdges"/>
<line x1="370.1" y1="316.9" x2="372.7" y2="316.9" stroke="#1a1a1a" stroke-width="1" shape-rendering="crispEdges"/>
<text x="367.7" y="319.6" font-size="7.2" text-anchor="end" fill="#222" font-weight="normal">0.0</text>
<line x1="370.1" y1="299.8" x2="372.7" y2="299.8" stroke="#1a1a1a" stroke-width="1" shape-rendering="crispEdges"/>
<text x="367.7" y="302.5" font-size="7.2" text-anchor="end" fill="#222" font-weight="normal">0.5</text>
<line x1="370.1" y1="282.4" x2="372.7" y2="282.4" stroke="#1a1a1a" stroke-width="1" shape-rendering="crispEdges"/>
<text x="367.7" y="285.1" font-size="7.2" text-anchor="end" fill="#222" font-weight="normal">1.0</text>
<line x1="370.1" y1="265.6" x2="372.7" y2="265.6" stroke="#1a1a1a" stroke-width="1" shape-rendering="crispEdges"/>
<text x="367.7" y="268.3" font-size="7.2" text-anchor="end" fill="#222" font-weight="normal">1.5</text>
<line x1="370.1" y1="248.7" x2="372.7" y2="248.7" stroke="#1a1a1a" stroke-width="1" shape-rendering="crispEdges"/>
<text x="367.7" y="251.4" font-size="7.2" text-anchor="end" fill="#222" font-weight="normal">2.0</text>
<line x1="383.8" y1="316.9" x2="383.8" y2="319.5" stroke="#1a1a1a" stroke-width="1" shape-rendering="crispEdges"/>
<line x1="399.3" y1="316.9" x2="399.3" y2="319.5" stroke="#1a1a1a" stroke-width="1" shape-rendering="crispEdges"/>
<line x1="414.8" y1="316.9" x2="414.8" y2="319.5" stroke="#1a1a1a" stroke-width="1" shape-rendering="crispEdges"/>
<circle cx="383.8" cy="257.22" r="2.3" fill="#421a55"/>
<circle cx="383.8" cy="280.07" r="2.3" fill="#421a55"/>
<circle cx="383.8" cy="292.01" r="2.3" fill="#421a55"/>
<rect x="397.3" y="306.38" width="4" height="4" fill="#c8102e"/>
<rect x="394.5" y="308.08" width="4" height="4" fill="#c8102e"/>
<rect x="400.1" y="309.44" width="4" height="4" fill="#c8102e"/>
<rect x="397.3" y="310.81" width="4" height="4" fill="#c8102e"/>
<rect x="394.5" y="312.17" width="4" height="4" fill="#c8102e"/>
<rect x="400.1" y="313.54" width="4" height="4" fill="#c8102e"/>
<rect x="397.3" y="314.22" width="4" height="4" fill="#c8102e"/>
<path d="M414.8 310.89L417.4 315.39L412.2 315.39Z" fill="#184a85"/>
<path d="M412 311.57L414.6 316.07L409.4 316.07Z" fill="#184a85"/>
<path d="M417.6 312.25L420.2 316.75L415 316.75Z" fill="#184a85"/>
<path d="M414.8 312.94L417.4 317.44L412.2 317.44Z" fill="#184a85"/>
<path d="M414.8 313.62L417.4 318.12L412.2 318.12Z" fill="#184a85"/>
<line x1="378.6" y1="276.66" x2="389" y2="276.66" stroke="#5e4a6c" stroke-width="0.9" shape-rendering="crispEdges"/>
<line x1="383.8" y1="265.75" x2="383.8" y2="287.23" stroke="#5e4a6c" stroke-width="0.9" shape-rendering="crispEdges"/>
<line x1="381.1" y1="265.75" x2="386.5" y2="265.75" stroke="#5e4a6c" stroke-width="0.9" shape-rendering="crispEdges"/>
<line x1="381.1" y1="287.23" x2="386.5" y2="287.23" stroke="#5e4a6c" stroke-width="0.9" shape-rendering="crispEdges"/>
<line x1="394.1" y1="312.81" x2="404.5" y2="312.81" stroke="#2a2a2a" stroke-width="0.9" shape-rendering="crispEdges"/>
<line x1="409.6" y1="315.19" x2="420" y2="315.19" stroke="#1c2438" stroke-width="0.9" shape-rendering="crispEdges"/>
<polyline points="383.8,250.1 383.8,247.7 406,247.7 406,254.6" fill="none" stroke="#1a1a1a" stroke-width="1" shape-rendering="crispEdges"/>
<polyline points="399.3,257 399.3,254.6 414.8,254.6 414.8,257" fill="none" stroke="#1a1a1a" stroke-width="1" shape-rendering="crispEdges"/>
<text x="394.9" y="246.8" font-size="7" text-anchor="middle" fill="#222" font-weight="normal">*</text>
<line x1="461" y1="247.5" x2="461" y2="316.9" stroke="#1a1a1a" stroke-width="1" shape-rendering="crispEdges"/>
<line x1="461" y1="316.9" x2="513.3" y2="316.9" stroke="#1a1a1a" stroke-width="1" shape-rendering="crispEdges"/>
<line x1="458.4" y1="316.9" x2="461" y2="316.9" stroke="#1a1a1a" stroke-width="1" shape-rendering="crispEdges"/>
<text x="456" y="319.6" font-size="7.2" text-anchor="end" fill="#222" font-weight="normal">0.0</text>
<line x1="458.4" y1="299.8" x2="461" y2="299.8" stroke="#1a1a1a" stroke-width="1" shape-rendering="crispEdges"/>
<text x="456" y="302.5" font-size="7.2" text-anchor="end" fill="#222" font-weight="normal">0.2</text>
<line x1="458.4" y1="282.5" x2="461" y2="282.5" stroke="#1a1a1a" stroke-width="1" shape-rendering="crispEdges"/>
<text x="456" y="285.2" font-size="7.2" text-anchor="end" fill="#222" font-weight="normal">0.4</text>
<line x1="458.4" y1="265.6" x2="461" y2="265.6" stroke="#1a1a1a" stroke-width="1" shape-rendering="crispEdges"/>
<text x="456" y="268.3" font-size="7.2" text-anchor="end" fill="#222" font-weight="normal">0.6</text>
<line x1="458.4" y1="248.7" x2="461" y2="248.7" stroke="#1a1a1a" stroke-width="1" shape-rendering="crispEdges"/>
<text x="456" y="251.4" font-size="7.2" text-anchor="end" fill="#222" font-weight="normal">0.8</text>
<line x1="472" y1="316.9" x2="472" y2="319.5" stroke="#1a1a1a" stroke-width="1" shape-rendering="crispEdges"/>
<line x1="487.5" y1="316.9" x2="487.5" y2="319.5" stroke="#1a1a1a" stroke-width="1" shape-rendering="crispEdges"/>
<line x1="503" y1="316.9" x2="503" y2="319.5" stroke="#1a1a1a" stroke-width="1" shape-rendering="crispEdges"/>
<circle cx="472" cy="254.67" r="2.3" fill="#421a55"/>
<circle cx="472" cy="277.69" r="2.3" fill="#421a55"/>
<circle cx="472" cy="290.47" r="2.3" fill="#421a55"/>
<rect x="485.5" y="288.47" width="4" height="4" fill="#c8102e"/>
<rect x="482.7" y="291.03" width="4" height="4" fill="#c8102e"/>
<rect x="485.5" y="292.73" width="4" height="4" fill="#c8102e"/>
<rect x="485.5" y="302.11" width="4" height="4" fill="#c8102e"/>
<rect x="485.5" y="313.19" width="4" height="4" fill="#c8102e"/>
<path d="M503 305.77L505.6 310.27L500.4 310.27Z" fill="#184a85"/>
<path d="M500.2 307.48L502.8 311.98L497.6 311.98Z" fill="#184a85"/>
<path d="M505.8 308.33L508.4 312.83L503.2 312.83Z" fill="#184a85"/>
<path d="M503 309.18L505.6 313.68L500.4 313.68Z" fill="#184a85"/>
<path d="M503 310.04L505.6 314.54L500.4 314.54Z" fill="#184a85"/>
<line x1="466.8" y1="274.27" x2="477.2" y2="274.27" stroke="#5e4a6c" stroke-width="0.9" shape-rendering="crispEdges"/>
<line x1="472" y1="264.04" x2="472" y2="284.5" stroke="#5e4a6c" stroke-width="0.9" shape-rendering="crispEdges"/>
<line x1="469.3" y1="264.04" x2="474.7" y2="264.04" stroke="#5e4a6c" stroke-width="0.9" shape-rendering="crispEdges"/>
<line x1="469.3" y1="284.5" x2="474.7" y2="284.5" stroke="#5e4a6c" stroke-width="0.9" shape-rendering="crispEdges"/>
<line x1="482.3" y1="299" x2="492.7" y2="299" stroke="#2a2a2a" stroke-width="0.9" shape-rendering="crispEdges"/>
<line x1="487.5" y1="293.88" x2="487.5" y2="304.11" stroke="#2a2a2a" stroke-width="0.9" shape-rendering="crispEdges"/>
<line x1="484.8" y1="293.88" x2="490.2" y2="293.88" stroke="#2a2a2a" stroke-width="0.9" shape-rendering="crispEdges"/>
<line x1="484.8" y1="304.11" x2="490.2" y2="304.11" stroke="#2a2a2a" stroke-width="0.9" shape-rendering="crispEdges"/>
<line x1="497.8" y1="310.93" x2="508.2" y2="310.93" stroke="#1c2438" stroke-width="0.9" shape-rendering="crispEdges"/>
<polyline points="471,247.4 471,245 503,245 503,247.4" fill="none" stroke="#1a1a1a" stroke-width="1" shape-rendering="crispEdges"/>
<text x="487" y="244.1" font-size="7" text-anchor="middle" fill="#222" font-weight="normal">*</text>
<line x1="80.3" y1="337.5" x2="80.3" y2="407.1" stroke="#1a1a1a" stroke-width="1" shape-rendering="crispEdges"/>
<line x1="80.3" y1="407.1" x2="133.7" y2="407.1" stroke="#1a1a1a" stroke-width="1" shape-rendering="crispEdges"/>
<line x1="77.7" y1="407.1" x2="80.3" y2="407.1" stroke="#1a1a1a" stroke-width="1" shape-rendering="crispEdges"/>
<text x="75.3" y="409.8" font-size="7.5" text-anchor="end" fill="#222" font-weight="normal">0</text>
<line x1="77.7" y1="393.3" x2="80.3" y2="393.3" stroke="#1a1a1a" stroke-width="1" shape-rendering="crispEdges"/>
<text x="75.3" y="396" font-size="7.5" text-anchor="end" fill="#222" font-weight="normal">1</text>
<line x1="77.7" y1="379.6" x2="80.3" y2="379.6" stroke="#1a1a1a" stroke-width="1" shape-rendering="crispEdges"/>
<text x="75.3" y="382.3" font-size="7.5" text-anchor="end" fill="#222" font-weight="normal">2</text>
<line x1="77.7" y1="365.8" x2="80.3" y2="365.8" stroke="#1a1a1a" stroke-width="1" shape-rendering="crispEdges"/>
<text x="75.3" y="368.5" font-size="7.5" text-anchor="end" fill="#222" font-weight="normal">3</text>
<line x1="77.7" y1="352.1" x2="80.3" y2="352.1" stroke="#1a1a1a" stroke-width="1" shape-rendering="crispEdges"/>
<text x="75.3" y="354.8" font-size="7.5" text-anchor="end" fill="#222" font-weight="normal">4</text>
<line x1="77.7" y1="338.3" x2="80.3" y2="338.3" stroke="#1a1a1a" stroke-width="1" shape-rendering="crispEdges"/>
<text x="75.3" y="341" font-size="7.5" text-anchor="end" fill="#222" font-weight="normal">5</text>
<line x1="89.7" y1="407.1" x2="89.7" y2="409.7" stroke="#1a1a1a" stroke-width="1" shape-rendering="crispEdges"/>
<line x1="105.2" y1="407.1" x2="105.2" y2="409.7" stroke="#1a1a1a" stroke-width="1" shape-rendering="crispEdges"/>
<line x1="120.7" y1="407.1" x2="120.7" y2="409.7" stroke="#1a1a1a" stroke-width="1" shape-rendering="crispEdges"/>
<circle cx="89.7" cy="407.1" r="2.3" fill="#421a55"/>
<circle cx="86.9" cy="407.1" r="2.3" fill="#421a55"/>
<circle cx="92.5" cy="407.1" r="2.3" fill="#421a55"/>
<rect x="103.2" y="345.93" width="4" height="4" fill="#c8102e"/>
<rect x="103.2" y="373.45" width="4" height="4" fill="#c8102e"/>
<rect x="100.4" y="374.83" width="4" height="4" fill="#c8102e"/>
<rect x="106" y="376.2" width="4" height="4" fill="#c8102e"/>
<rect x="103.2" y="377.58" width="4" height="4" fill="#c8102e"/>
<rect x="103.2" y="387.21" width="4" height="4" fill="#c8102e"/>
<path d="M120.7 376.29L123.3 380.79L118.1 380.79Z" fill="#184a85"/>
<path d="M120.7 386.61L123.3 391.11L118.1 391.11Z" fill="#184a85"/>
<path d="M120.7 392.12L123.3 396.62L118.1 396.62Z" fill="#184a85"/>
<path d="M120.7 400.37L123.3 404.87L118.1 404.87Z" fill="#184a85"/>
<path d="M117.9 402.44L120.5 406.94L115.3 406.94Z" fill="#184a85"/>
<path d="M123.5 403.12L126.1 407.62L120.9 407.62Z" fill="#184a85"/>
<path d="M120.7 403.81L123.3 408.31L118.1 408.31Z" fill="#184a85"/>
<line x1="100" y1="374.08" x2="110.4" y2="374.08" stroke="#2a2a2a" stroke-width="0.9" shape-rendering="crispEdges"/>
<line x1="105.2" y1="367.2" x2="105.2" y2="380.96" stroke="#2a2a2a" stroke-width="0.9" shape-rendering="crispEdges"/>
<line x1="102.5" y1="367.2" x2="107.9" y2="367.2" stroke="#2a2a2a" stroke-width="0.9" shape-rendering="crispEdges"/>
<line x1="102.5" y1="380.96" x2="107.9" y2="380.96" stroke="#2a2a2a" stroke-width="0.9" shape-rendering="crispEdges"/>
<line x1="115.5" y1="398.84" x2="125.9" y2="398.84" stroke="#1c2438" stroke-width="0.9" shape-rendering="crispEdges"/>
<line x1="120.7" y1="394.72" x2="120.7" y2="402.97" stroke="#1c2438" stroke-width="0.9" shape-rendering="crispEdges"/>
<line x1="118" y1="394.72" x2="123.4" y2="394.72" stroke="#1c2438" stroke-width="0.9" shape-rendering="crispEdges"/>
<line x1="118" y1="402.97" x2="123.4" y2="402.97" stroke="#1c2438" stroke-width="0.9" shape-rendering="crispEdges"/>
<polyline points="88.7,340.5 88.7,338.1 120.7,338.1 120.7,340.5" fill="none" stroke="#1a1a1a" stroke-width="1" shape-rendering="crispEdges"/>
<line x1="105.2" y1="338.1" x2="105.2" y2="340.5" stroke="#1a1a1a" stroke-width="1" shape-rendering="crispEdges"/>
<text x="96.95" y="337.2" font-size="7" text-anchor="middle" fill="#222" font-weight="normal">**</text>
<text x="112.95" y="337.2" font-size="7" text-anchor="middle" fill="#222" font-weight="normal">**</text>
<line x1="181.9" y1="337.5" x2="181.9" y2="407.1" stroke="#1a1a1a" stroke-width="1" shape-rendering="crispEdges"/>
<line x1="181.9" y1="407.1" x2="233" y2="407.1" stroke="#1a1a1a" stroke-width="1" shape-rendering="crispEdges"/>
<line x1="179.3" y1="407.1" x2="181.9" y2="407.1" stroke="#1a1a1a" stroke-width="1" shape-rendering="crispEdges"/>
<text x="176.9" y="409.8" font-size="7.2" text-anchor="end" fill="#222" font-weight="normal">0</text>
<line x1="179.3" y1="384.3" x2="181.9" y2="384.3" stroke="#1a1a1a" stroke-width="1" shape-rendering="crispEdges"/>
<text x="176.9" y="387" font-size="7.2" text-anchor="end" fill="#222" font-weight="normal">0.5</text>
<line x1="179.3" y1="361.5" x2="181.9" y2="361.5" stroke="#1a1a1a" stroke-width="1" shape-rendering="crispEdges"/>
<text x="176.9" y="364.2" font-size="7.2" text-anchor="end" fill="#222" font-weight="normal">1.0</text>
<line x1="179.3" y1="338.8" x2="181.9" y2="338.8" stroke="#1a1a1a" stroke-width="1" shape-rendering="crispEdges"/>
<text x="176.9" y="341.5" font-size="7.2" text-anchor="end" fill="#222" font-weight="normal">1.5</text>
<line x1="192.5" y1="407.1" x2="192.5" y2="409.7" stroke="#1a1a1a" stroke-width="1" shape-rendering="crispEdges"/>
<line x1="208" y1="407.1" x2="208" y2="409.7" stroke="#1a1a1a" stroke-width="1" shape-rendering="crispEdges"/>
<line x1="223.5" y1="407.1" x2="223.5" y2="409.7" stroke="#1a1a1a" stroke-width="1" shape-rendering="crispEdges"/>
<circle cx="192.5" cy="407.1" r="2.3" fill="#421a55"/>
<circle cx="189.7" cy="407.1" r="2.3" fill="#421a55"/>
<circle cx="195.3" cy="407.1" r="2.3" fill="#421a55"/>
<rect x="206" y="343.63" width="4" height="4" fill="#c8102e"/>
<rect x="206" y="357.29" width="4" height="4" fill="#c8102e"/>
<rect x="206" y="361.84" width="4" height="4" fill="#c8102e"/>
<rect x="203.2" y="362.75" width="4" height="4" fill="#c8102e"/>
<rect x="208.8" y="364.12" width="4" height="4" fill="#c8102e"/>
<rect x="206" y="380.06" width="4" height="4" fill="#c8102e"/>
<path d="M223.5 363.52L226.1 368.02L220.9 368.02Z" fill="#184a85"/>
<path d="M223.5 381.73L226.1 386.23L220.9 386.23Z" fill="#184a85"/>
<path d="M223.5 388.56L226.1 393.06L220.9 393.06Z" fill="#184a85"/>
<path d="M223.5 402.22L226.1 406.72L220.9 406.72Z" fill="#184a85"/>
<path d="M220.7 403.13L223.3 407.63L218.1 407.63Z" fill="#184a85"/>
<path d="M226.3 403.59L228.9 408.09L223.7 408.09Z" fill="#184a85"/>
<line x1="202.8" y1="363.84" x2="213.2" y2="363.84" stroke="#2a2a2a" stroke-width="0.9" shape-rendering="crispEdges"/>
<line x1="208" y1="359.29" x2="208" y2="368.4" stroke="#2a2a2a" stroke-width="0.9" shape-rendering="crispEdges"/>
<line x1="205.3" y1="359.29" x2="210.7" y2="359.29" stroke="#2a2a2a" stroke-width="0.9" shape-rendering="crispEdges"/>
<line x1="205.3" y1="368.4" x2="210.7" y2="368.4" stroke="#2a2a2a" stroke-width="0.9" shape-rendering="crispEdges"/>
<line x1="218.3" y1="392.07" x2="228.7" y2="392.07" stroke="#1c2438" stroke-width="0.9" shape-rendering="crispEdges"/>
<line x1="223.5" y1="384.33" x2="223.5" y2="400.27" stroke="#1c2438" stroke-width="0.9" shape-rendering="crispEdges"/>
<line x1="220.8" y1="384.33" x2="226.2" y2="384.33" stroke="#1c2438" stroke-width="0.9" shape-rendering="crispEdges"/>
<line x1="220.8" y1="400.27" x2="226.2" y2="400.27" stroke="#1c2438" stroke-width="0.9" shape-rendering="crispEdges"/>
<polyline points="191.5,340.5 191.5,338.1 223.5,338.1 223.5,340.5" fill="none" stroke="#1a1a1a" stroke-width="1" shape-rendering="crispEdges"/>
<line x1="208" y1="338.1" x2="208" y2="340.5" stroke="#1a1a1a" stroke-width="1" shape-rendering="crispEdges"/>
<text x="199.75" y="337.2" font-size="7" text-anchor="middle" fill="#222" font-weight="normal">**</text>
<text x="215.75" y="337.2" font-size="7" text-anchor="middle" fill="#222" font-weight="normal">*</text>
<line x1="276" y1="337.5" x2="276" y2="407.1" stroke="#1a1a1a" stroke-width="1" shape-rendering="crispEdges"/>
<line x1="276" y1="407.1" x2="327" y2="407.1" stroke="#1a1a1a" stroke-width="1" shape-rendering="crispEdges"/>
<line x1="273.4" y1="407.1" x2="276" y2="407.1" stroke="#1a1a1a" stroke-width="1" shape-rendering="crispEdges"/>
<text x="271" y="409.8" font-size="7.5" text-anchor="end" fill="#222" font-weight="normal">0</text>
<line x1="273.4" y1="390" x2="276" y2="390" stroke="#1a1a1a" stroke-width="1" shape-rendering="crispEdges"/>
<text x="271" y="392.7" font-size="7.5" text-anchor="end" fill="#222" font-weight="normal">1</text>
<line x1="273.4" y1="372.9" x2="276" y2="372.9" stroke="#1a1a1a" stroke-width="1" shape-rendering="crispEdges"/>
<text x="271" y="375.6" font-size="7.5" text-anchor="end" fill="#222" font-weight="normal">2</text>
<line x1="273.4" y1="355.9" x2="276" y2="355.9" stroke="#1a1a1a" stroke-width="1" shape-rendering="crispEdges"/>
<text x="271" y="358.6" font-size="7.5" text-anchor="end" fill="#222" font-weight="normal">3</text>
<line x1="273.4" y1="338.8" x2="276" y2="338.8" stroke="#1a1a1a" stroke-width="1" shape-rendering="crispEdges"/>
<text x="271" y="341.5" font-size="7.5" text-anchor="end" fill="#222" font-weight="normal">4</text>
<line x1="287" y1="407.1" x2="287" y2="409.7" stroke="#1a1a1a" stroke-width="1" shape-rendering="crispEdges"/>
<line x1="302.5" y1="407.1" x2="302.5" y2="409.7" stroke="#1a1a1a" stroke-width="1" shape-rendering="crispEdges"/>
<line x1="318" y1="407.1" x2="318" y2="409.7" stroke="#1a1a1a" stroke-width="1" shape-rendering="crispEdges"/>
<circle cx="287" cy="401.98" r="2.3" fill="#421a55"/>
<circle cx="284.2" cy="403.69" r="2.3" fill="#421a55"/>
<circle cx="287" cy="405.39" r="2.3" fill="#421a55"/>
<rect x="300.5" y="353.02" width="4" height="4" fill="#c8102e"/>
<rect x="300.5" y="362.41" width="4" height="4" fill="#c8102e"/>
<rect x="300.5" y="383.76" width="4" height="4" fill="#c8102e"/>
<rect x="300.5" y="394.86" width="4" height="4" fill="#c8102e"/>
<rect x="297.7" y="394.86" width="4" height="4" fill="#c8102e"/>
<path d="M318 392.55L320.6 397.05L315.4 397.05Z" fill="#184a85"/>
<path d="M318 395.96L320.6 400.46L315.4 400.46Z" fill="#184a85"/>
<path d="M315.2 396.82L317.8 401.32L312.6 401.32Z" fill="#184a85"/>
<path d="M320.8 397.67L323.4 402.17L318.2 402.17Z" fill="#184a85"/>
<path d="M318 399.38L320.6 403.88L315.4 403.88Z" fill="#184a85"/>
<path d="M315.2 400.23L317.8 404.73L312.6 404.73Z" fill="#184a85"/>
<line x1="297.3" y1="378.93" x2="307.7" y2="378.93" stroke="#2a2a2a" stroke-width="0.9" shape-rendering="crispEdges"/>
<line x1="302.5" y1="371.24" x2="302.5" y2="386.61" stroke="#2a2a2a" stroke-width="0.9" shape-rendering="crispEdges"/>
<line x1="299.8" y1="371.24" x2="305.2" y2="371.24" stroke="#2a2a2a" stroke-width="0.9" shape-rendering="crispEdges"/>
<line x1="299.8" y1="386.61" x2="305.2" y2="386.61" stroke="#2a2a2a" stroke-width="0.9" shape-rendering="crispEdges"/>
<line x1="312.8" y1="399.42" x2="323.2" y2="399.42" stroke="#1c2438" stroke-width="0.9" shape-rendering="crispEdges"/>
<line x1="318" y1="397.71" x2="318" y2="401.12" stroke="#1c2438" stroke-width="0.9" shape-rendering="crispEdges"/>
<line x1="315.3" y1="397.71" x2="320.7" y2="397.71" stroke="#1c2438" stroke-width="0.9" shape-rendering="crispEdges"/>
<line x1="315.3" y1="401.12" x2="320.7" y2="401.12" stroke="#1c2438" stroke-width="0.9" shape-rendering="crispEdges"/>
<polyline points="286,343.3 286,340.9 318,340.9 318,343.3" fill="none" stroke="#1a1a1a" stroke-width="1" shape-rendering="crispEdges"/>
<line x1="302.5" y1="340.9" x2="302.5" y2="343.3" stroke="#1a1a1a" stroke-width="1" shape-rendering="crispEdges"/>
<text x="294.25" y="340" font-size="7" text-anchor="middle" fill="#222" font-weight="normal">*</text>
<text x="310.25" y="340" font-size="7" text-anchor="middle" fill="#222" font-weight="normal">*</text>
<line x1="372.7" y1="337.5" x2="372.7" y2="370.7" stroke="#1a1a1a" stroke-width="1" shape-rendering="crispEdges"/>
<line x1="372.7" y1="375.3" x2="372.7" y2="407.3" stroke="#1a1a1a" stroke-width="1" shape-rendering="crispEdges"/>
<line x1="371.4" y1="370.7" x2="374" y2="370.7" stroke="#1a1a1a" stroke-width="1" shape-rendering="crispEdges"/>
<line x1="371.4" y1="375.3" x2="374" y2="375.3" stroke="#1a1a1a" stroke-width="1" shape-rendering="crispEdges"/>
<line x1="372.7" y1="407.3" x2="424.6" y2="407.3" stroke="#1a1a1a" stroke-width="1" shape-rendering="crispEdges"/>
<line x1="370.1" y1="407.3" x2="372.7" y2="407.3" stroke="#1a1a1a" stroke-width="1" shape-rendering="crispEdges"/>
<text x="367.7" y="410" font-size="7.5" text-anchor="end" fill="#222" font-weight="normal">0.0</text>
<line x1="370.1" y1="392.1" x2="372.7" y2="392.1" stroke="#1a1a1a" stroke-width="1" shape-rendering="crispEdges"/>
<text x="367.7" y="394.8" font-size="7.5" text-anchor="end" fill="#222" font-weight="normal">0.5</text>
<line x1="370.1" y1="376.9" x2="372.7" y2="376.9" stroke="#1a1a1a" stroke-width="1" shape-rendering="crispEdges"/>
<text x="367.7" y="379.6" font-size="7.5" text-anchor="end" fill="#222" font-weight="normal">1.0</text>
<line x1="370.1" y1="370.6" x2="372.7" y2="370.6" stroke="#1a1a1a" stroke-width="1" shape-rendering="crispEdges"/>
<text x="367.7" y="373.3" font-size="7.5" text-anchor="end" fill="#222" font-weight="normal">6</text>
<line x1="370.1" y1="360" x2="372.7" y2="360" stroke="#1a1a1a" stroke-width="1" shape-rendering="crispEdges"/>
<text x="367.7" y="362.7" font-size="7.5" text-anchor="end" fill="#222" font-weight="normal">8</text>
<line x1="370.1" y1="349.3" x2="372.7" y2="349.3" stroke="#1a1a1a" stroke-width="1" shape-rendering="crispEdges"/>
<text x="367.7" y="352" font-size="7.5" text-anchor="end" fill="#222" font-weight="normal">10</text>
<line x1="370.1" y1="338.5" x2="372.7" y2="338.5" stroke="#1a1a1a" stroke-width="1" shape-rendering="crispEdges"/>
<text x="367.7" y="341.2" font-size="7.5" text-anchor="end" fill="#222" font-weight="normal">12</text>
<line x1="383.8" y1="407.3" x2="383.8" y2="409.9" stroke="#1a1a1a" stroke-width="1" shape-rendering="crispEdges"/>
<line x1="399.3" y1="407.3" x2="399.3" y2="409.9" stroke="#1a1a1a" stroke-width="1" shape-rendering="crispEdges"/>
<line x1="414.8" y1="407.3" x2="414.8" y2="409.9" stroke="#1a1a1a" stroke-width="1" shape-rendering="crispEdges"/>
<circle cx="383.8" cy="351.34" r="2.3" fill="#421a55"/>
<circle cx="383.8" cy="359.9" r="2.3" fill="#421a55"/>
<circle cx="383.8" cy="369" r="2.3" fill="#421a55"/>
<rect x="397.3" y="401.65" width="4" height="4" fill="#c8102e"/>
<rect x="394.5" y="402.26" width="4" height="4" fill="#c8102e"/>
<rect x="400.1" y="402.87" width="4" height="4" fill="#c8102e"/>
<rect x="397.3" y="403.48" width="4" height="4" fill="#c8102e"/>
<rect x="397.3" y="404.08" width="4" height="4" fill="#c8102e"/>
<rect x="397.3" y="404.69" width="4" height="4" fill="#c8102e"/>
<path d="M414.8 380.38L417.4 384.88L412.2 384.88Z" fill="#184a85"/>
<path d="M414.8 391.02L417.4 395.52L412.2 395.52Z" fill="#184a85"/>
<path d="M412 394.06L414.6 398.56L409.4 398.56Z" fill="#184a85"/>
<path d="M414.8 397.1L417.4 401.6L412.2 401.6Z" fill="#184a85"/>
<path d="M412 400.14L414.6 404.64L409.4 404.64Z" fill="#184a85"/>
<path d="M414.8 403.18L417.4 407.68L412.2 407.68Z" fill="#184a85"/>
<path d="M412 404.09L414.6 408.59L409.4 408.59Z" fill="#184a85"/>
<line x1="378.6" y1="359.9" x2="389" y2="359.9" stroke="#5e4a6c" stroke-width="0.9" shape-rendering="crispEdges"/>
<line x1="383.8" y1="354.55" x2="383.8" y2="365.25" stroke="#5e4a6c" stroke-width="0.9" shape-rendering="crispEdges"/>
<line x1="381.1" y1="354.55" x2="386.5" y2="354.55" stroke="#5e4a6c" stroke-width="0.9" shape-rendering="crispEdges"/>
<line x1="381.1" y1="365.25" x2="386.5" y2="365.25" stroke="#5e4a6c" stroke-width="0.9" shape-rendering="crispEdges"/>
<line x1="394.1" y1="405.17" x2="404.5" y2="405.17" stroke="#2a2a2a" stroke-width="0.9" shape-rendering="crispEdges"/>
<line x1="409.6" y1="398.79" x2="420" y2="398.79" stroke="#1c2438" stroke-width="0.9" shape-rendering="crispEdges"/>
<line x1="414.8" y1="395.14" x2="414.8" y2="402.74" stroke="#1c2438" stroke-width="0.9" shape-rendering="crispEdges"/>
<line x1="412.1" y1="395.14" x2="417.5" y2="395.14" stroke="#1c2438" stroke-width="0.9" shape-rendering="crispEdges"/>
<line x1="412.1" y1="402.74" x2="417.5" y2="402.74" stroke="#1c2438" stroke-width="0.9" shape-rendering="crispEdges"/>
<polyline points="383.8,339.9 383.8,337.5 407,337.5 407,341.3" fill="none" stroke="#1a1a1a" stroke-width="1" shape-rendering="crispEdges"/>
<polyline points="399.3,343.7 399.3,341.3 414.8,341.3 414.8,343.7" fill="none" stroke="#1a1a1a" stroke-width="1" shape-rendering="crispEdges"/>
<text x="395.4" y="336.6" font-size="7" text-anchor="middle" fill="#222" font-weight="normal">*</text>
<line x1="461" y1="337.5" x2="461" y2="370.7" stroke="#1a1a1a" stroke-width="1" shape-rendering="crispEdges"/>
<line x1="461" y1="375.3" x2="461" y2="407.3" stroke="#1a1a1a" stroke-width="1" shape-rendering="crispEdges"/>
<line x1="459.7" y1="370.7" x2="462.3" y2="370.7" stroke="#1a1a1a" stroke-width="1" shape-rendering="crispEdges"/>
<line x1="459.7" y1="375.3" x2="462.3" y2="375.3" stroke="#1a1a1a" stroke-width="1" shape-rendering="crispEdges"/>
<line x1="461" y1="407.3" x2="513.3" y2="407.3" stroke="#1a1a1a" stroke-width="1" shape-rendering="crispEdges"/>
<line x1="458.4" y1="407.3" x2="461" y2="407.3" stroke="#1a1a1a" stroke-width="1" shape-rendering="crispEdges"/>
<text x="456" y="410" font-size="7.5" text-anchor="end" fill="#222" font-weight="normal">0.00</text>
<line x1="458.4" y1="395.2" x2="461" y2="395.2" stroke="#1a1a1a" stroke-width="1" shape-rendering="crispEdges"/>
<text x="456" y="397.9" font-size="7.5" text-anchor="end" fill="#222" font-weight="normal">0.05</text>
<line x1="458.4" y1="383" x2="461" y2="383" stroke="#1a1a1a" stroke-width="1" shape-rendering="crispEdges"/>
<text x="456" y="385.7" font-size="7.5" text-anchor="end" fill="#222" font-weight="normal">0.10</text>
<line x1="458.4" y1="366.3" x2="461" y2="366.3" stroke="#1a1a1a" stroke-width="1" shape-rendering="crispEdges"/>
<text x="456" y="369" font-size="7.5" text-anchor="end" fill="#222" font-weight="normal">0.4</text>
<line x1="458.4" y1="357.1" x2="461" y2="357.1" stroke="#1a1a1a" stroke-width="1" shape-rendering="crispEdges"/>
<text x="456" y="359.8" font-size="7.5" text-anchor="end" fill="#222" font-weight="normal">0.6</text>
<line x1="458.4" y1="348" x2="461" y2="348" stroke="#1a1a1a" stroke-width="1" shape-rendering="crispEdges"/>
<text x="456" y="350.7" font-size="7.5" text-anchor="end" fill="#222" font-weight="normal">0.8</text>
<line x1="458.4" y1="338.8" x2="461" y2="338.8" stroke="#1a1a1a" stroke-width="1" shape-rendering="crispEdges"/>
<text x="456" y="341.5" font-size="7.5" text-anchor="end" fill="#222" font-weight="normal">1.0</text>
<line x1="471.5" y1="407.3" x2="471.5" y2="409.9" stroke="#1a1a1a" stroke-width="1" shape-rendering="crispEdges"/>
<line x1="487" y1="407.3" x2="487" y2="409.9" stroke="#1a1a1a" stroke-width="1" shape-rendering="crispEdges"/>
<line x1="502.5" y1="407.3" x2="502.5" y2="409.9" stroke="#1a1a1a" stroke-width="1" shape-rendering="crispEdges"/>
<circle cx="471.5" cy="347.97" r="2.3" fill="#421a55"/>
<circle cx="471.5" cy="358.51" r="2.3" fill="#421a55"/>
<circle cx="471.5" cy="369.51" r="2.3" fill="#421a55"/>
<rect x="485" y="399.23" width="4" height="4" fill="#c8102e"/>
<rect x="482.2" y="400.44" width="4" height="4" fill="#c8102e"/>
<rect x="487.8" y="401.66" width="4" height="4" fill="#c8102e"/>
<rect x="485" y="402.87" width="4" height="4" fill="#c8102e"/>
<rect x="482.2" y="404.09" width="4" height="4" fill="#c8102e"/>
<rect x="485" y="404.81" width="4" height="4" fill="#c8102e"/>
<path d="M502.5 377.97L505.1 382.47L499.9 382.47Z" fill="#184a85"/>
<path d="M502.5 385.26L505.1 389.76L499.9 389.76Z" fill="#184a85"/>
<path d="M502.5 390.12L505.1 394.62L499.9 394.62Z" fill="#184a85"/>
<path d="M499.7 392.55L502.3 397.05L497.1 397.05Z" fill="#184a85"/>
<path d="M502.5 394.98L505.1 399.48L499.9 399.48Z" fill="#184a85"/>
<path d="M502.5 403.97L505.1 408.47L499.9 408.47Z" fill="#184a85"/>
<path d="M499.7 404.21L502.3 408.71L497.1 408.71Z" fill="#184a85"/>
<path d="M505.3 404.46L507.9 408.96L502.7 408.96Z" fill="#184a85"/>
<line x1="466.3" y1="358.51" x2="476.7" y2="358.51" stroke="#5e4a6c" stroke-width="0.9" shape-rendering="crispEdges"/>
<line x1="471.5" y1="352.55" x2="471.5" y2="364.01" stroke="#5e4a6c" stroke-width="0.9" shape-rendering="crispEdges"/>
<line x1="468.8" y1="352.55" x2="474.2" y2="352.55" stroke="#5e4a6c" stroke-width="0.9" shape-rendering="crispEdges"/>
<line x1="468.8" y1="364.01" x2="474.2" y2="364.01" stroke="#5e4a6c" stroke-width="0.9" shape-rendering="crispEdges"/>
<line x1="481.8" y1="404.38" x2="492.2" y2="404.38" stroke="#2a2a2a" stroke-width="0.9" shape-rendering="crispEdges"/>
<line x1="497.3" y1="395.15" x2="507.7" y2="395.15" stroke="#1c2438" stroke-width="0.9" shape-rendering="crispEdges"/>
<line x1="502.5" y1="391.5" x2="502.5" y2="398.8" stroke="#1c2438" stroke-width="0.9" shape-rendering="crispEdges"/>
<line x1="499.8" y1="391.5" x2="505.2" y2="391.5" stroke="#1c2438" stroke-width="0.9" shape-rendering="crispEdges"/>
<line x1="499.8" y1="398.8" x2="505.2" y2="398.8" stroke="#1c2438" stroke-width="0.9" shape-rendering="crispEdges"/>
<polyline points="471.5,339.9 471.5,337.5 495.4,337.5 495.4,342" fill="none" stroke="#1a1a1a" stroke-width="1" shape-rendering="crispEdges"/>
<polyline points="487,344.4 487,342 502.5,342 502.5,344.4" fill="none" stroke="#1a1a1a" stroke-width="1" shape-rendering="crispEdges"/>
<text x="483.45" y="336.6" font-size="7" text-anchor="middle" fill="#222" font-weight="normal">*</text>
<text x="96" y="31.1" font-size="8" text-anchor="middle" fill="#222" font-weight="normal">CD4<tspan font-size="5.5" dy="-3">+</tspan><tspan dy="3"> Teff</tspan></text>
<line x1="75.8" y1="36" x2="116.4" y2="36" stroke="#4a4a4a" stroke-width="1.3"/>
<text x="196.7" y="31.1" font-size="8" text-anchor="middle" fill="#222" font-weight="normal">CD8<tspan font-size="5.5" dy="-3">+</tspan><tspan dy="3"> Teff</tspan></text>
<line x1="176.3" y1="35.6" x2="217" y2="35.6" stroke="#4a4a4a" stroke-width="1.3"/>
<text x="291" y="31.1" font-size="8" text-anchor="middle" fill="#222" font-weight="normal">Treg</text>
<line x1="281" y1="35.6" x2="301" y2="35.6" stroke="#4a4a4a" stroke-width="1.3"/>
<text x="389.5" y="24.8" font-size="8" text-anchor="middle" fill="#222" font-weight="normal">Treg:CD4<tspan font-size="5.5" dy="-3">+</tspan><tspan dy="3"> Teff</tspan><tspan font-size="5.5" dy="-3">+</tspan></text>
<line x1="356.2" y1="29.6" x2="422.3" y2="29.6" stroke="#4a4a4a" stroke-width="1.3"/>
<text x="476.6" y="24.3" font-size="8" text-anchor="middle" fill="#222" font-weight="normal">Treg:CD8<tspan font-size="5.5" dy="-3">+</tspan><tspan dy="3"> Teff</tspan><tspan font-size="5.5" dy="-3">+</tspan></text>
<line x1="444.6" y1="29.6" x2="511" y2="29.6" stroke="#4a4a4a" stroke-width="1.3"/>
<text x="15" y="50.6" font-size="9" text-anchor="start" fill="#222" font-weight="normal">Day 7</text>
<text x="15" y="245.8" font-size="9" text-anchor="start" fill="#222" font-weight="normal">Day 21</text>
<text x="42.3" y="85.4" font-size="7" text-anchor="middle" fill="#222" font-weight="normal" transform="rotate(-90 42.3 85.4)">mLN</text>
<line x1="46.4" y1="76.2" x2="46.4" y2="94.6" stroke="#333" stroke-width="0.9" shape-rendering="crispEdges"/>
<text x="61.5" y="85.2" font-size="8" text-anchor="middle" fill="#222" font-weight="normal" transform="rotate(-90 61.5 85.2)">(<tspan font-size="7">×</tspan>10<tspan font-size="5.6" dy="-3">4</tspan><tspan dy="3">)</tspan></text>
<text x="42.2" y="189.4" font-size="7" text-anchor="middle" fill="#222" font-weight="normal" transform="rotate(-90 42.2 189.4)">Liver</text>
<line x1="46.4" y1="180" x2="46.4" y2="198.5" stroke="#333" stroke-width="0.9" shape-rendering="crispEdges"/>
<text x="61.3" y="185.2" font-size="8" text-anchor="middle" fill="#222" font-weight="normal" transform="rotate(-90 61.3 185.2)">(<tspan font-size="7">×</tspan>10<tspan font-size="5.6" dy="-3">4</tspan><tspan dy="3">)</tspan></text>
<text x="40.3" y="281.3" font-size="7" text-anchor="middle" fill="#222" font-weight="normal" transform="rotate(-90 40.3 281.3)">mLN</text>
<line x1="45" y1="272.3" x2="45" y2="290.4" stroke="#333" stroke-width="0.9" shape-rendering="crispEdges"/>
<text x="59.4" y="281.3" font-size="8" text-anchor="middle" fill="#222" font-weight="normal" transform="rotate(-90 59.4 281.3)">(<tspan font-size="7">×</tspan>10<tspan font-size="5.6" dy="-3">5</tspan><tspan dy="3">)</tspan></text>
<text x="42.2" y="371.7" font-size="7" text-anchor="middle" fill="#222" font-weight="normal" transform="rotate(-90 42.2 371.7)">Liver</text>
<line x1="47.3" y1="362.3" x2="47.3" y2="380.8" stroke="#333" stroke-width="0.9" shape-rendering="crispEdges"/>
<text x="65.8" y="371.3" font-size="8" text-anchor="middle" fill="#222" font-weight="normal" transform="rotate(-90 65.8 371.3)">(<tspan font-size="7">×</tspan>10<tspan font-size="5.6" dy="-3">5</tspan><tspan dy="3">)</tspan></text>
<text x="167" y="85.2" font-size="8" text-anchor="middle" fill="#222" font-weight="normal" transform="rotate(-90 167 85.2)">(<tspan font-size="7">×</tspan>10<tspan font-size="5.6" dy="-3">5</tspan><tspan dy="3">)</tspan></text>
<text x="166.3" y="185.3" font-size="8" text-anchor="middle" fill="#222" font-weight="normal" transform="rotate(-90 166.3 185.3)">(<tspan font-size="7">×</tspan>10<tspan font-size="5.6" dy="-3">5</tspan><tspan dy="3">)</tspan></text>
<text x="160" y="281" font-size="8" text-anchor="middle" fill="#222" font-weight="normal" transform="rotate(-90 160 281)">(<tspan font-size="7">×</tspan>10<tspan font-size="5.6" dy="-3">5</tspan><tspan dy="3">)</tspan></text>
<text x="159.8" y="372.5" font-size="8" text-anchor="middle" fill="#222" font-weight="normal" transform="rotate(-90 159.8 372.5)">(<tspan font-size="7">×</tspan>10<tspan font-size="5.6" dy="-3">5</tspan><tspan dy="3">)</tspan></text>
<text x="260.8" y="85.7" font-size="8" text-anchor="middle" fill="#222" font-weight="normal" transform="rotate(-90 260.8 85.7)">(<tspan font-size="7">×</tspan>10<tspan font-size="5.6" dy="-3">3</tspan><tspan dy="3">)</tspan></text>
<text x="260.8" y="185.3" font-size="8" text-anchor="middle" fill="#222" font-weight="normal" transform="rotate(-90 260.8 185.3)">(<tspan font-size="7">×</tspan>10<tspan font-size="5.6" dy="-3">3</tspan><tspan dy="3">)</tspan></text>
<text x="260.8" y="281.3" font-size="8" text-anchor="middle" fill="#222" font-weight="normal" transform="rotate(-90 260.8 281.3)">(<tspan font-size="7">×</tspan>10<tspan font-size="5.6" dy="-3">3</tspan><tspan dy="3">)</tspan></text>
<text x="260.8" y="372" font-size="8" text-anchor="middle" fill="#222" font-weight="normal" transform="rotate(-90 260.8 372)">(<tspan font-size="7">×</tspan>10<tspan font-size="5.6" dy="-3">3</tspan><tspan dy="3">)</tspan></text>
<circle cx="126.3" cy="422.8" r="2.3" fill="#421a55"/>
<text x="131.3" y="425.5" font-size="7.8" text-anchor="start" fill="#222" font-weight="normal">BM (n = 3-6)</text>
<rect x="182.3" y="420.8" width="4" height="4" fill="#c8102e"/>
<text x="190" y="425.5" font-size="7.8" text-anchor="start" fill="#222" font-weight="normal">BM + spleen (n = 5-10)</text>
<path d="M279.5 420.4L282.1 424.9L276.9 424.9Z" fill="#184a85"/>
<text x="285" y="425.5" font-size="7.6" text-anchor="start" fill="#222" font-weight="normal">BM + SA-FasL-spleen (n = 8-10)</text>
<text x="7" y="15" font-size="11.5" text-anchor="start" fill="#000" font-weight="bold">A</text>
<text x="343.6" y="15" font-size="11.5" text-anchor="start" fill="#000" font-weight="bold">B</text>
<text x="8" y="452" font-size="11.5" text-anchor="start" fill="#000" font-weight="bold">C</text>
<text x="164.3" y="452" font-size="11.5" text-anchor="start" fill="#000" font-weight="bold">D</text>
<text x="391.3" y="452" font-size="11.5" text-anchor="start" fill="#000" font-weight="bold">E</text>
<rect x="438.9" y="582.2" width="9.9" height="4.7" fill="#8a5aa0"/>
<rect x="456.4" y="498.7" width="9.8" height="88.2" fill="#e27367"/>
<rect x="473.5" y="559.46" width="9.9" height="27.44" fill="#7d8fc0"/>
<line x1="432.2" y1="467.5" x2="432.2" y2="586.9" stroke="#1a1a1a" stroke-width="1" shape-rendering="crispEdges"/>
<line x1="432.2" y1="586.9" x2="490.3" y2="586.9" stroke="#1a1a1a" stroke-width="1" shape-rendering="crispEdges"/>
<line x1="429.6" y1="586.9" x2="432.2" y2="586.9" stroke="#1a1a1a" stroke-width="1" shape-rendering="crispEdges"/>
<text x="428" y="589.7" font-size="8" text-anchor="end" fill="#222" font-weight="normal">0</text>
<line x1="429.6" y1="547.7" x2="432.2" y2="547.7" stroke="#1a1a1a" stroke-width="1" shape-rendering="crispEdges"/>
<text x="428" y="550.5" font-size="8" text-anchor="end" fill="#222" font-weight="normal">10</text>
<line x1="429.6" y1="508.5" x2="432.2" y2="508.5" stroke="#1a1a1a" stroke-width="1" shape-rendering="crispEdges"/>
<text x="428" y="511.3" font-size="8" text-anchor="end" fill="#222" font-weight="normal">20</text>
<line x1="429.6" y1="469.3" x2="432.2" y2="469.3" stroke="#1a1a1a" stroke-width="1" shape-rendering="crispEdges"/>
<text x="428" y="472.1" font-size="8" text-anchor="end" fill="#222" font-weight="normal">30</text>
<line x1="443.7" y1="586.9" x2="443.7" y2="589.5" stroke="#1a1a1a" stroke-width="1" shape-rendering="crispEdges"/>
<line x1="461.5" y1="586.9" x2="461.5" y2="589.5" stroke="#1a1a1a" stroke-width="1" shape-rendering="crispEdges"/>
<line x1="478.8" y1="586.9" x2="478.8" y2="589.5" stroke="#1a1a1a" stroke-width="1" shape-rendering="crispEdges"/>
<circle cx="443.7" cy="577.88" r="3.1" fill="#421a55"/>
<circle cx="443.7" cy="585.33" r="3.1" fill="#421a55"/>
<rect x="458.5" y="485.9" width="6" height="6" fill="#c8102e"/>
<rect x="458.5" y="492.17" width="6" height="6" fill="#c8102e"/>
<rect x="458.5" y="499.23" width="6" height="6" fill="#c8102e"/>
<path d="M478.8 529.94L481.66 534.89L475.94 534.89Z" fill="#184a85"/>
<path d="M478.8 558.56L481.66 563.51L475.94 563.51Z" fill="#184a85"/>
<path d="M478.8 580.51L481.66 585.46L475.94 585.46Z" fill="#184a85"/>
<line x1="478.8" y1="544.56" x2="478.8" y2="574.36" stroke="#184a85" stroke-width="0.9" shape-rendering="crispEdges"/>
<line x1="476" y1="544.56" x2="481.6" y2="544.56" stroke="#184a85" stroke-width="0.9" shape-rendering="crispEdges"/>
<line x1="476" y1="574.36" x2="481.6" y2="574.36" stroke="#184a85" stroke-width="0.9" shape-rendering="crispEdges"/>
<line x1="458.5" y1="496.74" x2="464.5" y2="496.74" stroke="#f3b0aa" stroke-width="0.9" shape-rendering="crispEdges"/>
<polyline points="442.5,461.8 442.5,459.4 482.6,459.4 482.6,461.8" fill="none" stroke="#1a1a1a" stroke-width="1" shape-rendering="crispEdges"/>
<text x="463.2" y="457.8" font-size="7.5" text-anchor="middle" fill="#222" font-weight="normal">ns</text>
<polyline points="442.5,473.3 442.5,470.9 482.6,470.9 482.6,473.3" fill="none" stroke="#1a1a1a" stroke-width="1" shape-rendering="crispEdges"/>
<line x1="461.3" y1="470.9" x2="461.3" y2="473.3" stroke="#1a1a1a" stroke-width="1" shape-rendering="crispEdges"/>
<text x="452.4" y="470" font-size="7" text-anchor="middle" fill="#222" font-weight="normal">**</text>
<text x="471.8" y="470" font-size="7" text-anchor="middle" fill="#222" font-weight="normal">*</text>
<text x="413" y="527" font-size="9" text-anchor="middle" fill="#222" font-weight="normal" transform="rotate(-90 413 527)" textLength="40" lengthAdjust="spacingAndGlyphs" style="stroke-width:0.4px">CD4<tspan font-size="6" dy="-3.4">+</tspan><tspan dy="3.4"> T cell #</tspan></text>
<circle cx="403.1" cy="598.4" r="2.99" fill="#421a55"/>
<text x="408.4" y="601" font-size="7.8" text-anchor="start" fill="#222" font-weight="normal">BM (n = 2)</text>
<rect x="400.6" y="607.9" width="5" height="5" fill="#c8102e"/>
<text x="408.4" y="613" font-size="7.8" text-anchor="start" fill="#222" font-weight="normal">BM + spleen (n = 3)</text>
<path d="M403.1 618.84L405.96 623.79L400.24 623.79Z" fill="#184a85"/>
<text x="408.4" y="624.6" font-size="7.8" text-anchor="start" fill="#222" font-weight="normal">BM + SA-FasL-spleen (n = 3)</text>
<rect x="0.5" y="0.5" width="519" height="649" fill="none" stroke="#6a6a6a" stroke-width="1"/>
</svg>
</body></html>
